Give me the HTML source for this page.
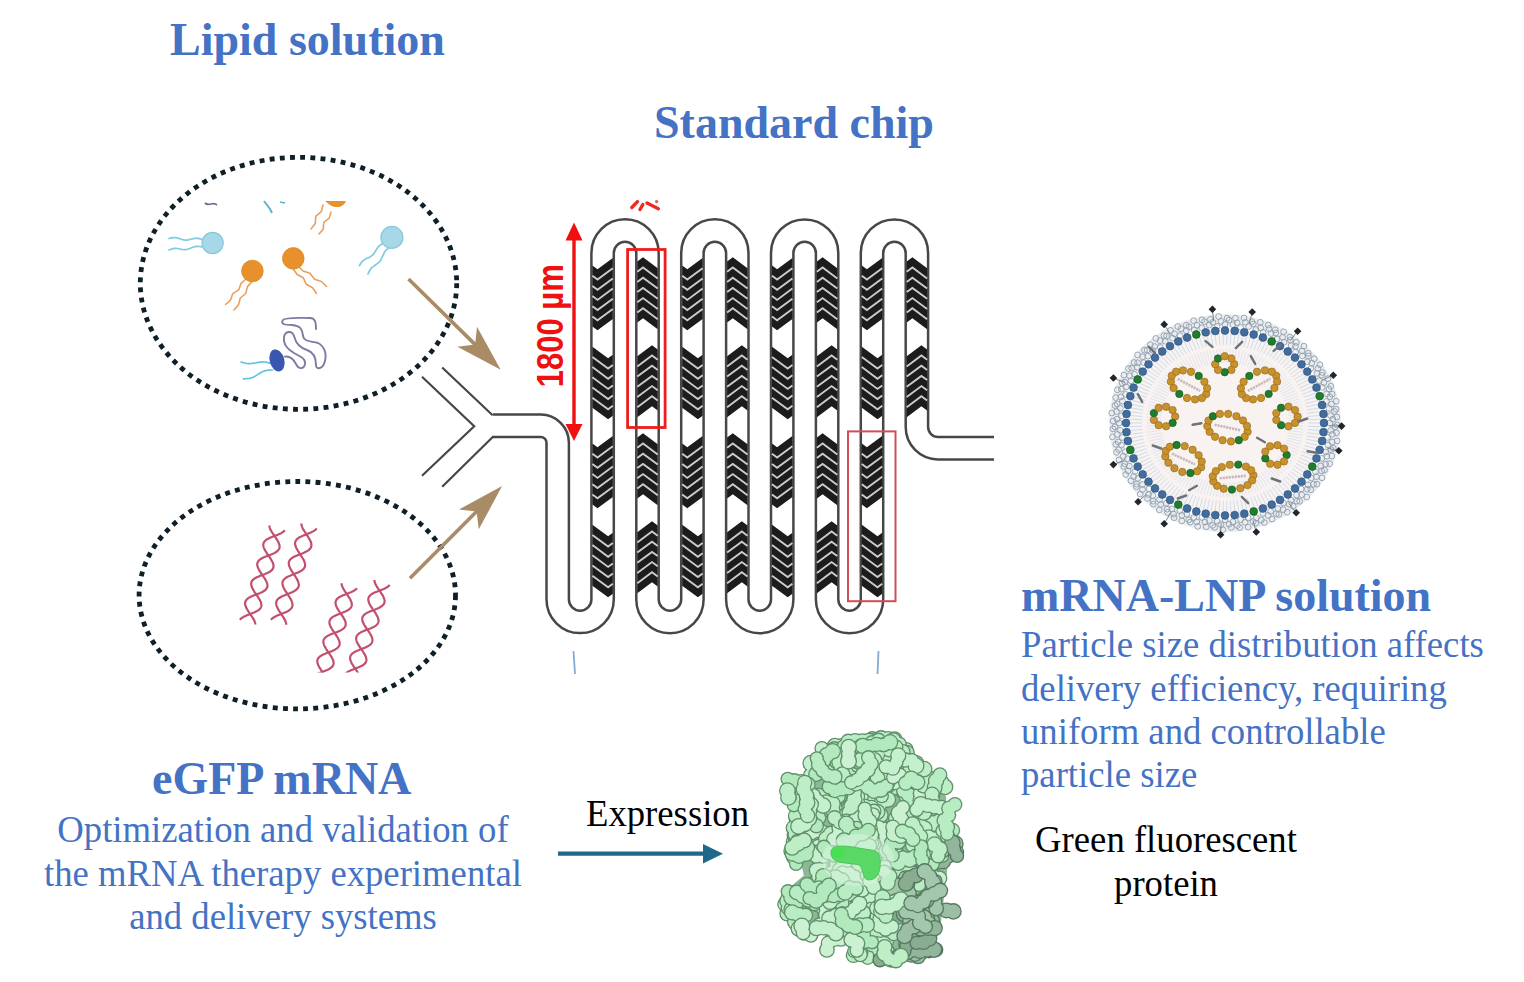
<!DOCTYPE html>
<html><head><meta charset="utf-8"><style>
html,body{margin:0;padding:0;background:#fff;}
body{width:1524px;height:982px;position:relative;overflow:hidden;}
svg{position:absolute;left:0;top:0;}
.t{position:absolute;font-family:"Liberation Serif",serif;white-space:nowrap;line-height:1;}
.h{font-weight:bold;color:#4472c4;font-size:46px;}
.p{color:#4472c4;font-size:36.7px;transform:scaleY(1.04);}
</style></head><body>
<svg width="1524" height="982" viewBox="0 0 1524 982">
<path d="M493,425.7 L540.70,425.7 A17,17 0 0 1 557.70,442.7 L557.70,599.50 A22.45,22.45 0 0 0 602.60,599.50 L602.60,253.00 A22.45,22.45 0 0 1 647.50,253.00 L647.50,599.50 A22.45,22.45 0 0 0 692.40,599.50 L692.40,253.00 A22.45,22.45 0 0 1 737.30,253.00 L737.30,599.50 A22.45,22.45 0 0 0 782.20,599.50 L782.20,253.00 A22.45,22.45 0 0 1 827.10,253.00 L827.10,599.50 A22.45,22.45 0 0 0 872.00,599.50 L872.00,253.00 A22.45,22.45 0 0 1 916.90,253.00 L916.90,427 A21.2,21.2 0 0 0 938,448.2 L994,448.2" fill="none" stroke="#474747" stroke-width="24.9"/>
<path d="M493,425.7 L540.70,425.7 A17,17 0 0 1 557.70,442.7 L557.70,599.50 A22.45,22.45 0 0 0 602.60,599.50 L602.60,253.00 A22.45,22.45 0 0 1 647.50,253.00 L647.50,599.50 A22.45,22.45 0 0 0 692.40,599.50 L692.40,253.00 A22.45,22.45 0 0 1 737.30,253.00 L737.30,599.50 A22.45,22.45 0 0 0 782.20,599.50 L782.20,253.00 A22.45,22.45 0 0 1 827.10,253.00 L827.10,599.50 A22.45,22.45 0 0 0 872.00,599.50 L872.00,253.00 A22.45,22.45 0 0 1 916.90,253.00 L916.90,427 A21.2,21.2 0 0 0 938,448.2 L994,448.2" fill="none" stroke="#fff" stroke-width="19.9"/>
<polygon points="592.4,265.5 597.5,269.3 612.8,258.0 612.8,319.0 597.5,330.3 592.4,326.5" fill="#1c1c1c"/>
<polyline points="592.4,275.7 597.5,279.5 612.8,268.2" fill="none" stroke="#cccccc" stroke-width="1.9"/>
<polyline points="592.4,285.9 597.5,289.7 612.8,278.4" fill="none" stroke="#cccccc" stroke-width="1.9"/>
<polyline points="592.4,296.1 597.5,299.9 612.8,288.6" fill="none" stroke="#cccccc" stroke-width="1.9"/>
<polyline points="592.4,306.3 597.5,310.1 612.8,298.8" fill="none" stroke="#cccccc" stroke-width="1.9"/>
<polyline points="592.4,316.5 597.5,320.3 612.8,309.0" fill="none" stroke="#cccccc" stroke-width="1.9"/>
<polygon points="592.4,346.7 608.1,358.3 612.8,354.8 612.8,415.8 608.1,419.3 592.4,407.7" fill="#1c1c1c"/>
<polyline points="592.4,356.9 608.1,368.5 612.8,365.0" fill="none" stroke="#cccccc" stroke-width="1.9"/>
<polyline points="592.4,367.1 608.1,378.7 612.8,375.2" fill="none" stroke="#cccccc" stroke-width="1.9"/>
<polyline points="592.4,377.3 608.1,388.9 612.8,385.4" fill="none" stroke="#cccccc" stroke-width="1.9"/>
<polyline points="592.4,387.5 608.1,399.1 612.8,395.6" fill="none" stroke="#cccccc" stroke-width="1.9"/>
<polyline points="592.4,397.7 608.1,409.3 612.8,405.8" fill="none" stroke="#cccccc" stroke-width="1.9"/>
<polygon points="592.4,443.5 597.5,447.3 612.8,436.0 612.8,497.0 597.5,508.3 592.4,504.5" fill="#1c1c1c"/>
<polyline points="592.4,453.7 597.5,457.5 612.8,446.2" fill="none" stroke="#cccccc" stroke-width="1.9"/>
<polyline points="592.4,463.9 597.5,467.7 612.8,456.4" fill="none" stroke="#cccccc" stroke-width="1.9"/>
<polyline points="592.4,474.1 597.5,477.9 612.8,466.6" fill="none" stroke="#cccccc" stroke-width="1.9"/>
<polyline points="592.4,484.3 597.5,488.1 612.8,476.8" fill="none" stroke="#cccccc" stroke-width="1.9"/>
<polyline points="592.4,494.5 597.5,498.3 612.8,487.0" fill="none" stroke="#cccccc" stroke-width="1.9"/>
<polygon points="592.4,524.7 608.1,536.3 612.8,532.8 612.8,593.8 608.1,597.3 592.4,585.7" fill="#1c1c1c"/>
<polyline points="592.4,534.9 608.1,546.5 612.8,543.0" fill="none" stroke="#cccccc" stroke-width="1.9"/>
<polyline points="592.4,545.1 608.1,556.7 612.8,553.2" fill="none" stroke="#cccccc" stroke-width="1.9"/>
<polyline points="592.4,555.3 608.1,566.9 612.8,563.4" fill="none" stroke="#cccccc" stroke-width="1.9"/>
<polyline points="592.4,565.5 608.1,577.1 612.8,573.6" fill="none" stroke="#cccccc" stroke-width="1.9"/>
<polyline points="592.4,575.7 608.1,587.3 612.8,583.8" fill="none" stroke="#cccccc" stroke-width="1.9"/>
<polygon points="637.3,261.5 643.0,257.3 657.7,268.2 657.7,329.2 643.0,318.3 637.3,322.5" fill="#1c1c1c"/>
<polyline points="637.3,271.7 643.0,267.5 657.7,278.4" fill="none" stroke="#cccccc" stroke-width="1.9"/>
<polyline points="637.3,281.9 643.0,277.7 657.7,288.6" fill="none" stroke="#cccccc" stroke-width="1.9"/>
<polyline points="637.3,292.1 643.0,287.9 657.7,298.8" fill="none" stroke="#cccccc" stroke-width="1.9"/>
<polyline points="637.3,302.3 643.0,298.1 657.7,309.0" fill="none" stroke="#cccccc" stroke-width="1.9"/>
<polyline points="637.3,312.5 643.0,308.3 657.7,319.2" fill="none" stroke="#cccccc" stroke-width="1.9"/>
<polygon points="637.3,356.2 652.0,345.3 657.7,349.5 657.7,410.5 652.0,406.3 637.3,417.2" fill="#1c1c1c"/>
<polyline points="637.3,366.4 652.0,355.5 657.7,359.7" fill="none" stroke="#cccccc" stroke-width="1.9"/>
<polyline points="637.3,376.6 652.0,365.7 657.7,369.9" fill="none" stroke="#cccccc" stroke-width="1.9"/>
<polyline points="637.3,386.8 652.0,375.9 657.7,380.1" fill="none" stroke="#cccccc" stroke-width="1.9"/>
<polyline points="637.3,397.0 652.0,386.1 657.7,390.3" fill="none" stroke="#cccccc" stroke-width="1.9"/>
<polyline points="637.3,407.2 652.0,396.3 657.7,400.5" fill="none" stroke="#cccccc" stroke-width="1.9"/>
<polygon points="637.3,437.5 643.0,433.3 657.7,444.2 657.7,505.2 643.0,494.3 637.3,498.5" fill="#1c1c1c"/>
<polyline points="637.3,447.7 643.0,443.5 657.7,454.4" fill="none" stroke="#cccccc" stroke-width="1.9"/>
<polyline points="637.3,457.9 643.0,453.7 657.7,464.6" fill="none" stroke="#cccccc" stroke-width="1.9"/>
<polyline points="637.3,468.1 643.0,463.9 657.7,474.8" fill="none" stroke="#cccccc" stroke-width="1.9"/>
<polyline points="637.3,478.3 643.0,474.1 657.7,485.0" fill="none" stroke="#cccccc" stroke-width="1.9"/>
<polyline points="637.3,488.5 643.0,484.3 657.7,495.2" fill="none" stroke="#cccccc" stroke-width="1.9"/>
<polygon points="637.3,532.2 652.0,521.3 657.7,525.5 657.7,586.5 652.0,582.3 637.3,593.2" fill="#1c1c1c"/>
<polyline points="637.3,542.4 652.0,531.5 657.7,535.7" fill="none" stroke="#cccccc" stroke-width="1.9"/>
<polyline points="637.3,552.6 652.0,541.7 657.7,545.9" fill="none" stroke="#cccccc" stroke-width="1.9"/>
<polyline points="637.3,562.8 652.0,551.9 657.7,556.1" fill="none" stroke="#cccccc" stroke-width="1.9"/>
<polyline points="637.3,573.0 652.0,562.1 657.7,566.3" fill="none" stroke="#cccccc" stroke-width="1.9"/>
<polyline points="637.3,583.2 652.0,572.3 657.7,576.5" fill="none" stroke="#cccccc" stroke-width="1.9"/>
<polygon points="682.2,265.5 687.3,269.3 702.6,258.0 702.6,319.0 687.3,330.3 682.2,326.5" fill="#1c1c1c"/>
<polyline points="682.2,275.7 687.3,279.5 702.6,268.2" fill="none" stroke="#cccccc" stroke-width="1.9"/>
<polyline points="682.2,285.9 687.3,289.7 702.6,278.4" fill="none" stroke="#cccccc" stroke-width="1.9"/>
<polyline points="682.2,296.1 687.3,299.9 702.6,288.6" fill="none" stroke="#cccccc" stroke-width="1.9"/>
<polyline points="682.2,306.3 687.3,310.1 702.6,298.8" fill="none" stroke="#cccccc" stroke-width="1.9"/>
<polyline points="682.2,316.5 687.3,320.3 702.6,309.0" fill="none" stroke="#cccccc" stroke-width="1.9"/>
<polygon points="682.2,346.7 697.9,358.3 702.6,354.8 702.6,415.8 697.9,419.3 682.2,407.7" fill="#1c1c1c"/>
<polyline points="682.2,356.9 697.9,368.5 702.6,365.0" fill="none" stroke="#cccccc" stroke-width="1.9"/>
<polyline points="682.2,367.1 697.9,378.7 702.6,375.2" fill="none" stroke="#cccccc" stroke-width="1.9"/>
<polyline points="682.2,377.3 697.9,388.9 702.6,385.4" fill="none" stroke="#cccccc" stroke-width="1.9"/>
<polyline points="682.2,387.5 697.9,399.1 702.6,395.6" fill="none" stroke="#cccccc" stroke-width="1.9"/>
<polyline points="682.2,397.7 697.9,409.3 702.6,405.8" fill="none" stroke="#cccccc" stroke-width="1.9"/>
<polygon points="682.2,443.5 687.3,447.3 702.6,436.0 702.6,497.0 687.3,508.3 682.2,504.5" fill="#1c1c1c"/>
<polyline points="682.2,453.7 687.3,457.5 702.6,446.2" fill="none" stroke="#cccccc" stroke-width="1.9"/>
<polyline points="682.2,463.9 687.3,467.7 702.6,456.4" fill="none" stroke="#cccccc" stroke-width="1.9"/>
<polyline points="682.2,474.1 687.3,477.9 702.6,466.6" fill="none" stroke="#cccccc" stroke-width="1.9"/>
<polyline points="682.2,484.3 687.3,488.1 702.6,476.8" fill="none" stroke="#cccccc" stroke-width="1.9"/>
<polyline points="682.2,494.5 687.3,498.3 702.6,487.0" fill="none" stroke="#cccccc" stroke-width="1.9"/>
<polygon points="682.2,524.7 697.9,536.3 702.6,532.8 702.6,593.8 697.9,597.3 682.2,585.7" fill="#1c1c1c"/>
<polyline points="682.2,534.9 697.9,546.5 702.6,543.0" fill="none" stroke="#cccccc" stroke-width="1.9"/>
<polyline points="682.2,545.1 697.9,556.7 702.6,553.2" fill="none" stroke="#cccccc" stroke-width="1.9"/>
<polyline points="682.2,555.3 697.9,566.9 702.6,563.4" fill="none" stroke="#cccccc" stroke-width="1.9"/>
<polyline points="682.2,565.5 697.9,577.1 702.6,573.6" fill="none" stroke="#cccccc" stroke-width="1.9"/>
<polyline points="682.2,575.7 697.9,587.3 702.6,583.8" fill="none" stroke="#cccccc" stroke-width="1.9"/>
<polygon points="727.1,261.5 732.8,257.3 747.5,268.2 747.5,329.2 732.8,318.3 727.1,322.5" fill="#1c1c1c"/>
<polyline points="727.1,271.7 732.8,267.5 747.5,278.4" fill="none" stroke="#cccccc" stroke-width="1.9"/>
<polyline points="727.1,281.9 732.8,277.7 747.5,288.6" fill="none" stroke="#cccccc" stroke-width="1.9"/>
<polyline points="727.1,292.1 732.8,287.9 747.5,298.8" fill="none" stroke="#cccccc" stroke-width="1.9"/>
<polyline points="727.1,302.3 732.8,298.1 747.5,309.0" fill="none" stroke="#cccccc" stroke-width="1.9"/>
<polyline points="727.1,312.5 732.8,308.3 747.5,319.2" fill="none" stroke="#cccccc" stroke-width="1.9"/>
<polygon points="727.1,356.2 741.8,345.3 747.5,349.5 747.5,410.5 741.8,406.3 727.1,417.2" fill="#1c1c1c"/>
<polyline points="727.1,366.4 741.8,355.5 747.5,359.7" fill="none" stroke="#cccccc" stroke-width="1.9"/>
<polyline points="727.1,376.6 741.8,365.7 747.5,369.9" fill="none" stroke="#cccccc" stroke-width="1.9"/>
<polyline points="727.1,386.8 741.8,375.9 747.5,380.1" fill="none" stroke="#cccccc" stroke-width="1.9"/>
<polyline points="727.1,397.0 741.8,386.1 747.5,390.3" fill="none" stroke="#cccccc" stroke-width="1.9"/>
<polyline points="727.1,407.2 741.8,396.3 747.5,400.5" fill="none" stroke="#cccccc" stroke-width="1.9"/>
<polygon points="727.1,437.5 732.8,433.3 747.5,444.2 747.5,505.2 732.8,494.3 727.1,498.5" fill="#1c1c1c"/>
<polyline points="727.1,447.7 732.8,443.5 747.5,454.4" fill="none" stroke="#cccccc" stroke-width="1.9"/>
<polyline points="727.1,457.9 732.8,453.7 747.5,464.6" fill="none" stroke="#cccccc" stroke-width="1.9"/>
<polyline points="727.1,468.1 732.8,463.9 747.5,474.8" fill="none" stroke="#cccccc" stroke-width="1.9"/>
<polyline points="727.1,478.3 732.8,474.1 747.5,485.0" fill="none" stroke="#cccccc" stroke-width="1.9"/>
<polyline points="727.1,488.5 732.8,484.3 747.5,495.2" fill="none" stroke="#cccccc" stroke-width="1.9"/>
<polygon points="727.1,532.2 741.8,521.3 747.5,525.5 747.5,586.5 741.8,582.3 727.1,593.2" fill="#1c1c1c"/>
<polyline points="727.1,542.4 741.8,531.5 747.5,535.7" fill="none" stroke="#cccccc" stroke-width="1.9"/>
<polyline points="727.1,552.6 741.8,541.7 747.5,545.9" fill="none" stroke="#cccccc" stroke-width="1.9"/>
<polyline points="727.1,562.8 741.8,551.9 747.5,556.1" fill="none" stroke="#cccccc" stroke-width="1.9"/>
<polyline points="727.1,573.0 741.8,562.1 747.5,566.3" fill="none" stroke="#cccccc" stroke-width="1.9"/>
<polyline points="727.1,583.2 741.8,572.3 747.5,576.5" fill="none" stroke="#cccccc" stroke-width="1.9"/>
<polygon points="772.0,265.5 777.1,269.3 792.4,258.0 792.4,319.0 777.1,330.3 772.0,326.5" fill="#1c1c1c"/>
<polyline points="772.0,275.7 777.1,279.5 792.4,268.2" fill="none" stroke="#cccccc" stroke-width="1.9"/>
<polyline points="772.0,285.9 777.1,289.7 792.4,278.4" fill="none" stroke="#cccccc" stroke-width="1.9"/>
<polyline points="772.0,296.1 777.1,299.9 792.4,288.6" fill="none" stroke="#cccccc" stroke-width="1.9"/>
<polyline points="772.0,306.3 777.1,310.1 792.4,298.8" fill="none" stroke="#cccccc" stroke-width="1.9"/>
<polyline points="772.0,316.5 777.1,320.3 792.4,309.0" fill="none" stroke="#cccccc" stroke-width="1.9"/>
<polygon points="772.0,346.7 787.7,358.3 792.4,354.8 792.4,415.8 787.7,419.3 772.0,407.7" fill="#1c1c1c"/>
<polyline points="772.0,356.9 787.7,368.5 792.4,365.0" fill="none" stroke="#cccccc" stroke-width="1.9"/>
<polyline points="772.0,367.1 787.7,378.7 792.4,375.2" fill="none" stroke="#cccccc" stroke-width="1.9"/>
<polyline points="772.0,377.3 787.7,388.9 792.4,385.4" fill="none" stroke="#cccccc" stroke-width="1.9"/>
<polyline points="772.0,387.5 787.7,399.1 792.4,395.6" fill="none" stroke="#cccccc" stroke-width="1.9"/>
<polyline points="772.0,397.7 787.7,409.3 792.4,405.8" fill="none" stroke="#cccccc" stroke-width="1.9"/>
<polygon points="772.0,443.5 777.1,447.3 792.4,436.0 792.4,497.0 777.1,508.3 772.0,504.5" fill="#1c1c1c"/>
<polyline points="772.0,453.7 777.1,457.5 792.4,446.2" fill="none" stroke="#cccccc" stroke-width="1.9"/>
<polyline points="772.0,463.9 777.1,467.7 792.4,456.4" fill="none" stroke="#cccccc" stroke-width="1.9"/>
<polyline points="772.0,474.1 777.1,477.9 792.4,466.6" fill="none" stroke="#cccccc" stroke-width="1.9"/>
<polyline points="772.0,484.3 777.1,488.1 792.4,476.8" fill="none" stroke="#cccccc" stroke-width="1.9"/>
<polyline points="772.0,494.5 777.1,498.3 792.4,487.0" fill="none" stroke="#cccccc" stroke-width="1.9"/>
<polygon points="772.0,524.7 787.7,536.3 792.4,532.8 792.4,593.8 787.7,597.3 772.0,585.7" fill="#1c1c1c"/>
<polyline points="772.0,534.9 787.7,546.5 792.4,543.0" fill="none" stroke="#cccccc" stroke-width="1.9"/>
<polyline points="772.0,545.1 787.7,556.7 792.4,553.2" fill="none" stroke="#cccccc" stroke-width="1.9"/>
<polyline points="772.0,555.3 787.7,566.9 792.4,563.4" fill="none" stroke="#cccccc" stroke-width="1.9"/>
<polyline points="772.0,565.5 787.7,577.1 792.4,573.6" fill="none" stroke="#cccccc" stroke-width="1.9"/>
<polyline points="772.0,575.7 787.7,587.3 792.4,583.8" fill="none" stroke="#cccccc" stroke-width="1.9"/>
<polygon points="816.9,261.5 822.6,257.3 837.3,268.2 837.3,329.2 822.6,318.3 816.9,322.5" fill="#1c1c1c"/>
<polyline points="816.9,271.7 822.6,267.5 837.3,278.4" fill="none" stroke="#cccccc" stroke-width="1.9"/>
<polyline points="816.9,281.9 822.6,277.7 837.3,288.6" fill="none" stroke="#cccccc" stroke-width="1.9"/>
<polyline points="816.9,292.1 822.6,287.9 837.3,298.8" fill="none" stroke="#cccccc" stroke-width="1.9"/>
<polyline points="816.9,302.3 822.6,298.1 837.3,309.0" fill="none" stroke="#cccccc" stroke-width="1.9"/>
<polyline points="816.9,312.5 822.6,308.3 837.3,319.2" fill="none" stroke="#cccccc" stroke-width="1.9"/>
<polygon points="816.9,356.2 831.6,345.3 837.3,349.5 837.3,410.5 831.6,406.3 816.9,417.2" fill="#1c1c1c"/>
<polyline points="816.9,366.4 831.6,355.5 837.3,359.7" fill="none" stroke="#cccccc" stroke-width="1.9"/>
<polyline points="816.9,376.6 831.6,365.7 837.3,369.9" fill="none" stroke="#cccccc" stroke-width="1.9"/>
<polyline points="816.9,386.8 831.6,375.9 837.3,380.1" fill="none" stroke="#cccccc" stroke-width="1.9"/>
<polyline points="816.9,397.0 831.6,386.1 837.3,390.3" fill="none" stroke="#cccccc" stroke-width="1.9"/>
<polyline points="816.9,407.2 831.6,396.3 837.3,400.5" fill="none" stroke="#cccccc" stroke-width="1.9"/>
<polygon points="816.9,437.5 822.6,433.3 837.3,444.2 837.3,505.2 822.6,494.3 816.9,498.5" fill="#1c1c1c"/>
<polyline points="816.9,447.7 822.6,443.5 837.3,454.4" fill="none" stroke="#cccccc" stroke-width="1.9"/>
<polyline points="816.9,457.9 822.6,453.7 837.3,464.6" fill="none" stroke="#cccccc" stroke-width="1.9"/>
<polyline points="816.9,468.1 822.6,463.9 837.3,474.8" fill="none" stroke="#cccccc" stroke-width="1.9"/>
<polyline points="816.9,478.3 822.6,474.1 837.3,485.0" fill="none" stroke="#cccccc" stroke-width="1.9"/>
<polyline points="816.9,488.5 822.6,484.3 837.3,495.2" fill="none" stroke="#cccccc" stroke-width="1.9"/>
<polygon points="816.9,532.2 831.6,521.3 837.3,525.5 837.3,586.5 831.6,582.3 816.9,593.2" fill="#1c1c1c"/>
<polyline points="816.9,542.4 831.6,531.5 837.3,535.7" fill="none" stroke="#cccccc" stroke-width="1.9"/>
<polyline points="816.9,552.6 831.6,541.7 837.3,545.9" fill="none" stroke="#cccccc" stroke-width="1.9"/>
<polyline points="816.9,562.8 831.6,551.9 837.3,556.1" fill="none" stroke="#cccccc" stroke-width="1.9"/>
<polyline points="816.9,573.0 831.6,562.1 837.3,566.3" fill="none" stroke="#cccccc" stroke-width="1.9"/>
<polyline points="816.9,583.2 831.6,572.3 837.3,576.5" fill="none" stroke="#cccccc" stroke-width="1.9"/>
<polygon points="861.8,265.5 866.9,269.3 882.2,258.0 882.2,319.0 866.9,330.3 861.8,326.5" fill="#1c1c1c"/>
<polyline points="861.8,275.7 866.9,279.5 882.2,268.2" fill="none" stroke="#cccccc" stroke-width="1.9"/>
<polyline points="861.8,285.9 866.9,289.7 882.2,278.4" fill="none" stroke="#cccccc" stroke-width="1.9"/>
<polyline points="861.8,296.1 866.9,299.9 882.2,288.6" fill="none" stroke="#cccccc" stroke-width="1.9"/>
<polyline points="861.8,306.3 866.9,310.1 882.2,298.8" fill="none" stroke="#cccccc" stroke-width="1.9"/>
<polyline points="861.8,316.5 866.9,320.3 882.2,309.0" fill="none" stroke="#cccccc" stroke-width="1.9"/>
<polygon points="861.8,346.7 877.5,358.3 882.2,354.8 882.2,415.8 877.5,419.3 861.8,407.7" fill="#1c1c1c"/>
<polyline points="861.8,356.9 877.5,368.5 882.2,365.0" fill="none" stroke="#cccccc" stroke-width="1.9"/>
<polyline points="861.8,367.1 877.5,378.7 882.2,375.2" fill="none" stroke="#cccccc" stroke-width="1.9"/>
<polyline points="861.8,377.3 877.5,388.9 882.2,385.4" fill="none" stroke="#cccccc" stroke-width="1.9"/>
<polyline points="861.8,387.5 877.5,399.1 882.2,395.6" fill="none" stroke="#cccccc" stroke-width="1.9"/>
<polyline points="861.8,397.7 877.5,409.3 882.2,405.8" fill="none" stroke="#cccccc" stroke-width="1.9"/>
<polygon points="861.8,443.5 866.9,447.3 882.2,436.0 882.2,497.0 866.9,508.3 861.8,504.5" fill="#1c1c1c"/>
<polyline points="861.8,453.7 866.9,457.5 882.2,446.2" fill="none" stroke="#cccccc" stroke-width="1.9"/>
<polyline points="861.8,463.9 866.9,467.7 882.2,456.4" fill="none" stroke="#cccccc" stroke-width="1.9"/>
<polyline points="861.8,474.1 866.9,477.9 882.2,466.6" fill="none" stroke="#cccccc" stroke-width="1.9"/>
<polyline points="861.8,484.3 866.9,488.1 882.2,476.8" fill="none" stroke="#cccccc" stroke-width="1.9"/>
<polyline points="861.8,494.5 866.9,498.3 882.2,487.0" fill="none" stroke="#cccccc" stroke-width="1.9"/>
<polygon points="861.8,524.7 877.5,536.3 882.2,532.8 882.2,593.8 877.5,597.3 861.8,585.7" fill="#1c1c1c"/>
<polyline points="861.8,534.9 877.5,546.5 882.2,543.0" fill="none" stroke="#cccccc" stroke-width="1.9"/>
<polyline points="861.8,545.1 877.5,556.7 882.2,553.2" fill="none" stroke="#cccccc" stroke-width="1.9"/>
<polyline points="861.8,555.3 877.5,566.9 882.2,563.4" fill="none" stroke="#cccccc" stroke-width="1.9"/>
<polyline points="861.8,565.5 877.5,577.1 882.2,573.6" fill="none" stroke="#cccccc" stroke-width="1.9"/>
<polyline points="861.8,575.7 877.5,587.3 882.2,583.8" fill="none" stroke="#cccccc" stroke-width="1.9"/>
<polygon points="906.7,261.5 912.4,257.3 927.1,268.2 927.1,329.2 912.4,318.3 906.7,322.5" fill="#1c1c1c"/>
<polyline points="906.7,271.7 912.4,267.5 927.1,278.4" fill="none" stroke="#cccccc" stroke-width="1.9"/>
<polyline points="906.7,281.9 912.4,277.7 927.1,288.6" fill="none" stroke="#cccccc" stroke-width="1.9"/>
<polyline points="906.7,292.1 912.4,287.9 927.1,298.8" fill="none" stroke="#cccccc" stroke-width="1.9"/>
<polyline points="906.7,302.3 912.4,298.1 927.1,309.0" fill="none" stroke="#cccccc" stroke-width="1.9"/>
<polyline points="906.7,312.5 912.4,308.3 927.1,319.2" fill="none" stroke="#cccccc" stroke-width="1.9"/>
<polygon points="906.7,356.2 921.4,345.3 927.1,349.5 927.1,410.5 921.4,406.3 906.7,417.2" fill="#1c1c1c"/>
<polyline points="906.7,366.4 921.4,355.5 927.1,359.7" fill="none" stroke="#cccccc" stroke-width="1.9"/>
<polyline points="906.7,376.6 921.4,365.7 927.1,369.9" fill="none" stroke="#cccccc" stroke-width="1.9"/>
<polyline points="906.7,386.8 921.4,375.9 927.1,380.1" fill="none" stroke="#cccccc" stroke-width="1.9"/>
<polyline points="906.7,397.0 921.4,386.1 927.1,390.3" fill="none" stroke="#cccccc" stroke-width="1.9"/>
<polyline points="906.7,407.2 921.4,396.3 927.1,400.5" fill="none" stroke="#cccccc" stroke-width="1.9"/>
<path d="M442.2,367.5 L492.6,415.2 M422,376.7 L474.2,426.2 L422,475.7 M442.2,486.7 L493.5,436.2" fill="none" stroke="#474747" stroke-width="2.2"/>
<rect x="627.6" y="249.5" width="37.5" height="178" fill="none" stroke="#ee1c1c" stroke-width="2.8"/>
<rect x="848" y="431.4" width="47.5" height="169.8" fill="none" stroke="#d24b55" stroke-width="2"/>
<line x1="574" y1="238" x2="574" y2="426" stroke="#f01010" stroke-width="3.4"/>
<polygon points="574,222.6 565.5,240.5 582.5,240.5" fill="#f01010"/>
<polygon points="574,441 565.5,424 582.5,424" fill="#f01010"/>
<text x="0" y="0" transform="translate(563.3,325.7) rotate(-90) scale(1,1.17)" text-anchor="middle" font-family="Liberation Sans" font-weight="bold" font-size="31" fill="#f01010">1800 µm</text>
<path d="M631.8,207.5 L637.5,201.6 M640,209.5 L642.8,204.6 M647,203 L658.3,208.8" fill="none" stroke="#ee2a22" stroke-width="3.4" stroke-linecap="round"/><circle cx="656.6" cy="201.6" r="1.6" fill="#e06040"/>
<line x1="573.5" y1="651" x2="575" y2="674" stroke="#86a8d4" stroke-width="1.8"/>
<line x1="878.5" y1="651" x2="877.5" y2="674" stroke="#86a8d4" stroke-width="1.8"/>
<ellipse cx="298.5" cy="283.3" rx="158.2" ry="126" fill="none" stroke="#0e1f28" stroke-width="4.8" stroke-dasharray="4.9 5.3"/>
<ellipse cx="297.3" cy="595.2" rx="158.2" ry="113.7" fill="none" stroke="#0e1f28" stroke-width="4.8" stroke-dasharray="4.9 5.3"/>
<line x1="408.5" y1="279" x2="476.5" y2="345.9" stroke="#a98b66" stroke-width="3.6"/><polygon points="500.7,369.8 457.4,346.8 475.1,344.5 477,326.8" fill="#a98b66"/>
<line x1="410" y1="578.2" x2="478.1" y2="510.1" stroke="#a98b66" stroke-width="3.6"/><polygon points="502.1,486.1 478.8,529.2 476.6,511.6 459,509.4" fill="#a98b66"/>
<polyline points="202,239.5 200.6,239 199.3,238.6 197.9,238.4 196.5,238.2 195.2,238.3 193.8,238.5 192.4,238.8 191,239.2 189.6,239.5 188.2,239.9 186.8,240.1 185.5,240.1 184.1,240 182.7,239.7 181.4,239.3 180,238.8 178.6,238.4 177.3,238 175.9,237.7 174.5,237.6 173.2,237.6 171.8,237.8 170.4,238.1 169,238.5" fill="none" stroke="#7ccbe0" stroke-width="1.7" stroke-linecap="round"/><polyline points="202,247 200.6,246.7 199.2,246.5 197.8,246.4 196.4,246.4 195,246.6 193.7,247 192.3,247.5 191,248 189.7,248.5 188.3,249 187,249.4 185.6,249.6 184.2,249.6 182.8,249.5 181.4,249.3 180,249 178.6,248.7 177.2,248.5 175.8,248.4 174.4,248.4 173,248.6 171.7,249 170.3,249.5 169,250" fill="none" stroke="#7ccbe0" stroke-width="1.7" stroke-linecap="round"/>
<circle cx="212.6" cy="243" r="10.6" fill="#a6d8e8" stroke="#8cc6da" stroke-width="1.2"/>
<polyline points="246.0,279.0 241.0,283.4 238.7,289.9 232.8,293.6 230.5,300.1 225.5,304.5" fill="none" stroke="#e8a060" stroke-width="1.6" stroke-linejoin="round" stroke-linecap="round"/><polyline points="252.0,281.5 247.5,286.6 245.7,293.5 240.3,298.0 238.5,304.9 234.0,310.0" fill="none" stroke="#e8a060" stroke-width="1.6" stroke-linejoin="round" stroke-linecap="round"/>
<circle cx="252.4" cy="271" r="10.8" fill="#e8912c" stroke="#dc8a2a" stroke-width="0.8"/>
<polyline points="298.0,266.0 303.1,271.0 310.0,273.3 314.5,279.2 321.4,281.5 326.5,286.5" fill="none" stroke="#e8a060" stroke-width="1.6" stroke-linejoin="round" stroke-linecap="round"/><polyline points="293.0,268.5 296.9,274.3 303.2,277.7 306.3,284.3 312.6,287.7 316.5,293.5" fill="none" stroke="#e8a060" stroke-width="1.6" stroke-linejoin="round" stroke-linecap="round"/>
<circle cx="293.3" cy="258.4" r="10.8" fill="#e8912c" stroke="#dc8a2a" stroke-width="0.8"/>
<polyline points="384,243 382.7,243.6 381.4,244.3 380.3,245.1 379.2,245.9 378.2,246.9 377.3,248.1 376.6,249.3 375.8,250.5 375.1,251.7 374.3,252.9 373.5,254.1 372.5,255.1 371.4,255.9 370.2,256.7 369,257.4 367.7,258 366.4,258.6 365.1,259.3 363.9,260.1 362.8,260.9 361.9,261.9 361,263.1 360.2,264.3 359.5,265.5" fill="none" stroke="#7ccbe0" stroke-width="1.7" stroke-linecap="round"/><polyline points="390,247 388.8,247.9 387.6,248.8 386.5,249.7 385.5,250.8 384.6,252 383.9,253.3 383.3,254.6 382.7,256 382.1,257.4 381.4,258.7 380.7,260 379.9,261.2 378.9,262.3 377.8,263.2 376.6,264.1 375.3,265 374.1,265.9 372.9,266.8 371.8,267.7 370.8,268.8 370,270 369.2,271.3 368.6,272.6 368,274" fill="none" stroke="#7ccbe0" stroke-width="1.7" stroke-linecap="round"/>
<circle cx="391.9" cy="237.4" r="11" fill="#a6d8e8" stroke="#8cc6da" stroke-width="1.2"/>
<polyline points="271,363.5 269.8,363.1 268.5,362.8 267.3,362.5 266.1,362.2 264.8,362 263.6,361.9 262.3,361.9 261.1,362 259.8,362.1 258.6,362.3 257.3,362.5 256.1,362.8 254.8,363 253.5,363.2 252.3,363.4 251,363.5 249.8,363.6 248.5,363.6 247.3,363.5 246,363.3 244.8,363 243.6,362.7 242.3,362.4 241.1,362" fill="none" stroke="#62c4dc" stroke-width="1.7" stroke-linecap="round"/><polyline points="272.4,370 271.1,370 269.8,370.1 268.5,370.2 267.2,370.3 266,370.5 264.7,370.9 263.5,371.3 262.4,371.8 261.2,372.4 260.1,373 259,373.7 257.9,374.4 256.8,375.1 255.7,375.8 254.6,376.4 253.4,377 252.3,377.5 251.1,377.9 249.8,378.3 248.6,378.5 247.3,378.6 246,378.7 244.7,378.8 243.4,378.8" fill="none" stroke="#62c4dc" stroke-width="1.7" stroke-linecap="round"/>
<path d="M284.7,356.6 C289,356 293,358 296,364 C299,370 304,369 305,364 C306,358 299,356 294,353 C288,349 283,345 284,337 C285,331 292,330 294,336 C296,344 300,348 307,350 C313,352 316,356 316,365 C316,370 322,369 324,364 C328,354 324,346 318,343 C311,341 304,342 303,336 C302,328 300,326 292,325 C285,325 280,324 283,320 C285,317 300,318 310,318 C315,318 316,322 316,329" fill="none" stroke="#7e7ba2" stroke-width="1.9" stroke-linecap="round"/>
<ellipse cx="277" cy="360.4" rx="7.3" ry="11.2" transform="rotate(-15 277 360.4)" fill="#3a57b0"/>
<path d="M205,203 C209,207 213,201 217,205" fill="none" stroke="#6f6a9a" stroke-width="1.8"/>
<path d="M264,201 L270,209 L272,213" fill="none" stroke="#57b5cf" stroke-width="2"/><path d="M280,202 L285,203" fill="none" stroke="#57b5cf" stroke-width="1.6"/>
<polyline points="311.0,229.0 315.3,223.6 315.7,216.4 321.3,211.6 323.0,205.0" fill="none" stroke="#e8a060" stroke-width="1.6" stroke-linejoin="round" stroke-linecap="round"/><polyline points="319.0,234.0 323.2,229.2 323.8,222.3 329.2,218.2 331.0,212.0" fill="none" stroke="#e8a060" stroke-width="1.6" stroke-linejoin="round" stroke-linecap="round"/>
<path d="M325,201 L346,201 C344,207 336,209 330,205 Z" fill="#e8912c"/>
<defs><clipPath id="hc"><rect x="200" y="500" width="220" height="172.5"/></clipPath></defs>
<g clip-path="url(#hc)">
<polyline points="240.0,619.8 240.4,619.2 241.0,618.6 241.6,618.1 242.4,617.6 243.1,617.1 244.0,616.6 244.9,616.2 245.9,615.7 246.9,615.3 247.9,614.9 249.0,614.5 250.0,614.1 251.1,613.7 252.2,613.2 253.2,612.8 254.2,612.4 255.2,612.0 256.1,611.5 257.0,611.1 257.8,610.6 258.6,610.1 259.2,609.5 259.8,609.0 260.3,608.4 260.7,607.8 261.0,607.1 261.2,606.5 261.4,605.8 261.4,605.0 261.3,604.3 261.2,603.5 261.0,602.7 260.7,601.8 260.3,601.0 259.9,600.1 259.4,599.2 258.8,598.3 258.2,597.4 257.6,596.4 257.0,595.5 256.3,594.6 255.7,593.6 255.0,592.7 254.4,591.8 253.8,590.8 253.3,589.9 252.8,589.0 252.3,588.1 251.9,587.3 251.6,586.4 251.4,585.6 251.2,584.8 251.2,584.1 251.2,583.4 251.3,582.6 251.5,582.0 251.8,581.3 252.2,580.7 252.7,580.1 253.2,579.6 253.9,579.0 254.6,578.5 255.4,578.0 256.3,577.5 257.2,577.1 258.2,576.7 259.2,576.2 260.2,575.8 261.3,575.4 262.4,575.0 263.4,574.6 264.5,574.2 265.5,573.8 266.5,573.3 267.5,572.9 268.4,572.5 269.3,572.0 270.1,571.5 270.8,571.0 271.5,570.4 272.0,569.9 272.5,569.3 272.9,568.7 273.2,568.0 273.4,567.4 273.5,566.6 273.5,565.9 273.5,565.2 273.3,564.4 273.1,563.6 272.8,562.7 272.4,561.9 271.9,561.0 271.4,560.1 270.9,559.2 270.3,558.2 269.7,557.3 269.0,556.4 268.4,555.4 267.7,554.5 267.1,553.6 266.5,552.6 265.9,551.7 265.3,550.8 264.8,549.9 264.4,549.0 264.0,548.2 263.7,547.3 263.5,546.5 263.4,545.7 263.3,545.0 263.3,544.2 263.5,543.5 263.7,542.9 264.0,542.2 264.4,541.6 264.9,541.0 265.5,540.5 266.1,539.9 266.9,539.4 267.7,538.9 268.6,538.5 269.5,538.0 270.5,537.6 271.5,537.2 272.5,536.8 273.6,536.3 274.7,535.9 275.7,535.5 276.8,535.1 277.8,534.7 278.8,534.3 279.8,533.8 280.7,533.4 281.6,532.9 282.3,532.4 283.1,531.9 283.7,531.4 284.3,530.8 284.7,530.2" fill="none" stroke="#c2506d" stroke-width="2.2"/><polyline points="255.3,624.6 255.3,623.8 255.1,623.0 254.9,622.2 254.6,621.4 254.3,620.5 253.8,619.7 253.3,618.8 252.8,617.9 252.2,617.0 251.6,616.0 250.9,615.1 250.3,614.1 249.6,613.2 249.0,612.3 248.4,611.3 247.8,610.4 247.2,609.5 246.7,608.6 246.3,607.7 245.9,606.8 245.6,606.0 245.3,605.2 245.2,604.4 245.1,603.6 245.1,602.9 245.2,602.2 245.4,601.5 245.7,600.9 246.1,600.3 246.6,599.7 247.1,599.1 247.8,598.6 248.5,598.0 249.3,597.6 250.1,597.1 251.1,596.6 252.0,596.2 253.0,595.8 254.1,595.3 255.1,594.9 256.2,594.5 257.3,594.1 258.3,593.7 259.4,593.3 260.4,592.9 261.3,592.4 262.3,592.0 263.1,591.5 263.9,591.0 264.7,590.5 265.3,590.0 265.9,589.4 266.4,588.8 266.8,588.2 267.1,587.6 267.3,586.9 267.4,586.2 267.5,585.5 267.4,584.7 267.3,583.9 267.0,583.1 266.7,582.3 266.3,581.4 265.9,580.5 265.4,579.6 264.8,578.7 264.3,577.8 263.6,576.9 263.0,575.9 262.4,575.0 261.7,574.1 261.1,573.1 260.4,572.2 259.9,571.3 259.3,570.4 258.8,569.5 258.4,568.6 258.0,567.7 257.7,566.9 257.4,566.1 257.3,565.3 257.2,564.5 257.3,563.8 257.4,563.1 257.6,562.4 257.9,561.8 258.3,561.2 258.8,560.6 259.4,560.0 260.0,559.5 260.8,559.0 261.6,558.5 262.4,558.0 263.4,557.6 264.3,557.1 265.3,556.7 266.4,556.3 267.4,555.9 268.5,555.5 269.6,555.1 270.6,554.7 271.7,554.2 272.7,553.8 273.6,553.4 274.6,552.9 275.4,552.4 276.2,552.0 276.9,551.4 277.6,550.9 278.1,550.3 278.6,549.7 279.0,549.1 279.3,548.5 279.5,547.8 279.6,547.1 279.6,546.4 279.5,545.6 279.4,544.8 279.1,544.0 278.8,543.2 278.4,542.3 278.0,541.4 277.5,540.5 276.9,539.6 276.3,538.7 275.7,537.7 275.1,536.8 274.4,535.9 273.8,534.9 273.1,534.0 272.5,533.0 271.9,532.1 271.4,531.2 270.9,530.3 270.4,529.5 270.1,528.6 269.8,527.8 269.6,527.0 269.4,526.2 269.4,525.4" fill="none" stroke="#c2506d" stroke-width="2.2"/>
<polyline points="270.9,619.9 271.4,619.3 271.9,618.8 272.6,618.2 273.3,617.7 274.1,617.2 275.0,616.7 275.9,616.2 276.8,615.8 277.9,615.3 278.9,614.9 280.0,614.5 281.0,614.1 282.1,613.6 283.2,613.2 284.2,612.8 285.3,612.4 286.2,611.9 287.2,611.5 288.1,611.0 288.9,610.5 289.6,610.0 290.3,609.4 290.9,608.8 291.4,608.2 291.8,607.6 292.1,607.0 292.3,606.3 292.5,605.6 292.5,604.8 292.5,604.0 292.3,603.2 292.1,602.4 291.8,601.6 291.5,600.7 291.0,599.8 290.5,598.9 290.0,598.0 289.4,597.0 288.8,596.1 288.2,595.1 287.5,594.1 286.9,593.2 286.3,592.2 285.7,591.3 285.1,590.3 284.5,589.4 284.0,588.5 283.6,587.6 283.2,586.7 282.9,585.9 282.7,585.0 282.5,584.2 282.5,583.5 282.5,582.7 282.6,582.0 282.8,581.3 283.2,580.6 283.6,580.0 284.0,579.4 284.6,578.8 285.3,578.3 286.0,577.7 286.8,577.2 287.7,576.8 288.6,576.3 289.6,575.9 290.6,575.4 291.7,575.0 292.7,574.6 293.8,574.1 294.9,573.7 295.9,573.3 297.0,572.9 298.0,572.4 299.0,572.0 299.9,571.5 300.8,571.1 301.6,570.6 302.3,570.0 303.0,569.5 303.6,568.9 304.0,568.3 304.4,567.7 304.8,567.0 305.0,566.3 305.1,565.6 305.1,564.8 305.1,564.1 304.9,563.3 304.7,562.4 304.4,561.6 304.0,560.7 303.6,559.8 303.1,558.9 302.5,558.0 301.9,557.0 301.3,556.1 300.7,555.1 300.1,554.2 299.4,553.2 298.8,552.2 298.2,551.3 297.6,550.3 297.1,549.4 296.6,548.5 296.1,547.6 295.8,546.7 295.5,545.9 295.3,545.1 295.1,544.3 295.1,543.5 295.1,542.7 295.3,542.0 295.5,541.3 295.8,540.7 296.2,540.1 296.7,539.5 297.3,538.9 298.0,538.3 298.7,537.8 299.5,537.3 300.4,536.8 301.4,536.4 302.3,535.9 303.4,535.5 304.4,535.1 305.5,534.7 306.6,534.2 307.6,533.8 308.7,533.4 309.7,533.0 310.8,532.5 311.7,532.1 312.6,531.6 313.5,531.1 314.3,530.6 315.0,530.1 315.7,529.5 316.2,529.0 316.7,528.4" fill="none" stroke="#c2506d" stroke-width="2.2"/><polyline points="286.2,624.8 286.2,624.0 286.1,623.2 285.8,622.4 285.5,621.5 285.2,620.7 284.8,619.8 284.3,618.9 283.7,617.9 283.2,617.0 282.6,616.1 281.9,615.1 281.3,614.1 280.7,613.2 280.0,612.2 279.4,611.3 278.8,610.3 278.3,609.4 277.8,608.5 277.3,607.6 277.0,606.7 276.6,605.9 276.4,605.0 276.3,604.2 276.2,603.4 276.2,602.7 276.3,602.0 276.5,601.3 276.8,600.6 277.2,600.0 277.7,599.4 278.3,598.8 278.9,598.2 279.7,597.7 280.5,597.2 281.3,596.7 282.3,596.3 283.2,595.8 284.2,595.4 285.3,594.9 286.3,594.5 287.4,594.1 288.5,593.7 289.6,593.3 290.6,592.8 291.6,592.4 292.6,592.0 293.5,591.5 294.4,591.0 295.2,590.5 296.0,590.0 296.6,589.4 297.2,588.9 297.7,588.3 298.1,587.6 298.4,587.0 298.7,586.3 298.8,585.6 298.8,584.8 298.8,584.1 298.6,583.3 298.4,582.4 298.1,581.6 297.7,580.7 297.3,579.8 296.8,578.9 296.3,578.0 295.7,577.0 295.1,576.1 294.4,575.1 293.8,574.1 293.2,573.2 292.5,572.2 291.9,571.3 291.3,570.3 290.8,569.4 290.3,568.5 289.9,567.6 289.5,566.7 289.2,565.9 289.0,565.0 288.8,564.2 288.8,563.5 288.8,562.7 288.9,562.0 289.2,561.3 289.5,560.7 289.9,560.0 290.4,559.4 291.0,558.9 291.6,558.3 292.4,557.8 293.2,557.3 294.1,556.8 295.0,556.3 296.0,555.9 297.0,555.5 298.0,555.0 299.1,554.6 300.2,554.2 301.3,553.8 302.3,553.4 303.4,552.9 304.4,552.5 305.3,552.0 306.3,551.6 307.1,551.1 307.9,550.6 308.7,550.1 309.3,549.5 309.9,548.9 310.4,548.3 310.8,547.7 311.1,547.0 311.3,546.3 311.4,545.6 311.4,544.9 311.3,544.1 311.2,543.3 311.0,542.4 310.6,541.6 310.3,540.7 309.8,539.8 309.3,538.9 308.8,538.0 308.2,537.0 307.6,536.1 306.9,535.1 306.3,534.2 305.7,533.2 305.0,532.2 304.4,531.3 303.9,530.4 303.3,529.4 302.8,528.5 302.4,527.6 302.1,526.8 301.8,525.9 301.5,525.1 301.4,524.3 301.4,523.5" fill="none" stroke="#c2506d" stroke-width="2.2"/>
<polyline points="312.2,677.7 312.6,677.1 313.2,676.5 313.8,676.0 314.6,675.5 315.3,675.0 316.2,674.5 317.1,674.1 318.1,673.6 319.1,673.2 320.1,672.8 321.2,672.4 322.2,672.0 323.3,671.6 324.4,671.1 325.4,670.7 326.4,670.3 327.4,669.9 328.3,669.4 329.2,669.0 330.0,668.5 330.8,668.0 331.4,667.4 332.0,666.9 332.5,666.3 332.9,665.7 333.2,665.0 333.4,664.4 333.6,663.7 333.6,662.9 333.5,662.2 333.4,661.4 333.2,660.6 332.9,659.7 332.5,658.9 332.1,658.0 331.6,657.1 331.0,656.2 330.4,655.3 329.8,654.3 329.2,653.4 328.5,652.5 327.9,651.5 327.2,650.6 326.6,649.7 326.0,648.7 325.5,647.8 325.0,646.9 324.5,646.0 324.1,645.2 323.8,644.3 323.6,643.5 323.4,642.7 323.4,642.0 323.4,641.3 323.5,640.5 323.7,639.9 324.0,639.2 324.4,638.6 324.9,638.0 325.4,637.5 326.1,636.9 326.8,636.4 327.6,635.9 328.5,635.4 329.4,635.0 330.4,634.6 331.4,634.1 332.4,633.7 333.5,633.3 334.5,632.9 335.6,632.5 336.7,632.1 337.7,631.7 338.7,631.2 339.7,630.8 340.6,630.4 341.5,629.9 342.3,629.4 343.0,628.9 343.7,628.3 344.2,627.8 344.7,627.2 345.1,626.6 345.4,625.9 345.6,625.3 345.7,624.5 345.7,623.8 345.7,623.1 345.5,622.3 345.3,621.5 345.0,620.6 344.6,619.8 344.1,618.9 343.6,618.0 343.1,617.1 342.5,616.1 341.9,615.2 341.2,614.3 340.6,613.3 339.9,612.4 339.3,611.5 338.7,610.5 338.1,609.6 337.5,608.7 337.0,607.8 336.6,606.9 336.2,606.1 335.9,605.2 335.7,604.4 335.6,603.6 335.5,602.9 335.5,602.1 335.7,601.4 335.9,600.8 336.2,600.1 336.6,599.5 337.1,598.9 337.7,598.4 338.3,597.8 339.1,597.3 339.9,596.8 340.8,596.4 341.7,595.9 342.7,595.5 343.7,595.1 344.7,594.7 345.8,594.2 346.9,593.8 347.9,593.4 349.0,593.0 350.0,592.6 351.0,592.2 352.0,591.7 352.9,591.3 353.8,590.8 354.5,590.3 355.3,589.8 355.9,589.3 356.5,588.7 356.9,588.1" fill="none" stroke="#c2506d" stroke-width="2.2"/><polyline points="327.5,682.5 327.5,681.7 327.3,680.9 327.1,680.1 326.8,679.3 326.5,678.4 326.0,677.6 325.5,676.7 325.0,675.8 324.4,674.9 323.8,673.9 323.1,673.0 322.5,672.0 321.8,671.1 321.2,670.2 320.6,669.2 320.0,668.3 319.4,667.4 318.9,666.5 318.5,665.6 318.1,664.7 317.8,663.9 317.5,663.1 317.4,662.3 317.3,661.5 317.3,660.8 317.4,660.1 317.6,659.4 317.9,658.8 318.3,658.2 318.8,657.6 319.3,657.0 320.0,656.5 320.7,655.9 321.5,655.5 322.3,655.0 323.3,654.5 324.2,654.1 325.2,653.7 326.3,653.2 327.3,652.8 328.4,652.4 329.5,652.0 330.5,651.6 331.6,651.2 332.6,650.8 333.5,650.3 334.5,649.9 335.3,649.4 336.1,648.9 336.9,648.4 337.5,647.9 338.1,647.3 338.6,646.7 339.0,646.1 339.3,645.5 339.5,644.8 339.6,644.1 339.7,643.4 339.6,642.6 339.5,641.8 339.2,641.0 338.9,640.2 338.5,639.3 338.1,638.4 337.6,637.5 337.0,636.6 336.5,635.7 335.8,634.8 335.2,633.8 334.5,632.9 333.9,632.0 333.3,631.0 332.6,630.1 332.1,629.2 331.5,628.3 331.0,627.4 330.6,626.5 330.2,625.6 329.9,624.8 329.6,624.0 329.5,623.2 329.4,622.4 329.5,621.7 329.6,621.0 329.8,620.3 330.1,619.7 330.5,619.1 331.0,618.5 331.6,617.9 332.2,617.4 333.0,616.9 333.8,616.4 334.6,615.9 335.6,615.5 336.5,615.0 337.5,614.6 338.6,614.2 339.6,613.8 340.7,613.4 341.8,613.0 342.8,612.6 343.9,612.1 344.9,611.7 345.8,611.3 346.8,610.8 347.6,610.3 348.4,609.9 349.1,609.3 349.8,608.8 350.3,608.2 350.8,607.6 351.2,607.0 351.5,606.4 351.7,605.7 351.8,605.0 351.8,604.3 351.7,603.5 351.6,602.7 351.3,601.9 351.0,601.1 350.6,600.2 350.2,599.3 349.7,598.4 349.1,597.5 348.5,596.6 347.9,595.6 347.3,594.7 346.6,593.8 346.0,592.8 345.3,591.9 344.7,590.9 344.1,590.0 343.6,589.1 343.1,588.2 342.6,587.4 342.3,586.5 342.0,585.7 341.8,584.9 341.6,584.1 341.6,583.3" fill="none" stroke="#c2506d" stroke-width="2.2"/>
<polyline points="345.0,674.4 345.4,673.8 346.0,673.2 346.6,672.7 347.4,672.2 348.1,671.7 349.0,671.2 349.9,670.8 350.9,670.3 351.9,669.9 352.9,669.5 354.0,669.1 355.0,668.7 356.1,668.3 357.2,667.8 358.2,667.4 359.2,667.0 360.2,666.6 361.1,666.1 362.0,665.7 362.8,665.2 363.6,664.7 364.2,664.1 364.8,663.6 365.3,663.0 365.7,662.4 366.0,661.7 366.2,661.1 366.4,660.4 366.4,659.6 366.3,658.9 366.2,658.1 366.0,657.3 365.7,656.4 365.3,655.6 364.9,654.7 364.4,653.8 363.8,652.9 363.2,652.0 362.6,651.0 362.0,650.1 361.3,649.2 360.7,648.2 360.0,647.3 359.4,646.4 358.8,645.4 358.3,644.5 357.8,643.6 357.3,642.7 356.9,641.9 356.6,641.0 356.4,640.2 356.2,639.4 356.2,638.7 356.2,638.0 356.3,637.2 356.5,636.6 356.8,635.9 357.2,635.3 357.7,634.7 358.2,634.2 358.9,633.6 359.6,633.1 360.4,632.6 361.3,632.1 362.2,631.7 363.2,631.3 364.2,630.8 365.2,630.4 366.3,630.0 367.4,629.6 368.4,629.2 369.5,628.8 370.5,628.4 371.5,627.9 372.5,627.5 373.4,627.1 374.3,626.6 375.1,626.1 375.8,625.6 376.5,625.0 377.0,624.5 377.5,623.9 377.9,623.3 378.2,622.6 378.4,622.0 378.5,621.2 378.5,620.5 378.5,619.8 378.3,619.0 378.1,618.2 377.8,617.3 377.4,616.5 376.9,615.6 376.4,614.7 375.9,613.8 375.3,612.8 374.7,611.9 374.0,611.0 373.4,610.0 372.7,609.1 372.1,608.2 371.5,607.2 370.9,606.3 370.3,605.4 369.8,604.5 369.4,603.6 369.0,602.8 368.7,601.9 368.5,601.1 368.4,600.3 368.3,599.6 368.3,598.8 368.5,598.1 368.7,597.5 369.0,596.8 369.4,596.2 369.9,595.6 370.5,595.1 371.1,594.5 371.9,594.0 372.7,593.5 373.6,593.1 374.5,592.6 375.5,592.2 376.5,591.8 377.5,591.4 378.6,590.9 379.7,590.5 380.7,590.1 381.8,589.7 382.8,589.3 383.8,588.9 384.8,588.4 385.7,588.0 386.6,587.5 387.3,587.0 388.1,586.5 388.7,586.0 389.3,585.4 389.7,584.8" fill="none" stroke="#c2506d" stroke-width="2.2"/><polyline points="360.3,679.2 360.3,678.4 360.1,677.6 359.9,676.8 359.6,676.0 359.3,675.1 358.8,674.3 358.3,673.4 357.8,672.5 357.2,671.6 356.6,670.6 355.9,669.7 355.3,668.7 354.6,667.8 354.0,666.9 353.4,665.9 352.8,665.0 352.2,664.1 351.7,663.2 351.3,662.3 350.9,661.4 350.6,660.6 350.3,659.8 350.2,659.0 350.1,658.2 350.1,657.5 350.2,656.8 350.4,656.1 350.7,655.5 351.1,654.9 351.6,654.3 352.1,653.7 352.8,653.2 353.5,652.6 354.3,652.2 355.1,651.7 356.1,651.2 357.0,650.8 358.0,650.4 359.1,649.9 360.1,649.5 361.2,649.1 362.3,648.7 363.3,648.3 364.4,647.9 365.4,647.5 366.3,647.0 367.3,646.6 368.1,646.1 368.9,645.6 369.7,645.1 370.3,644.6 370.9,644.0 371.4,643.4 371.8,642.8 372.1,642.2 372.3,641.5 372.4,640.8 372.5,640.1 372.4,639.3 372.3,638.5 372.0,637.7 371.7,636.9 371.3,636.0 370.9,635.1 370.4,634.2 369.8,633.3 369.3,632.4 368.6,631.5 368.0,630.5 367.4,629.6 366.7,628.7 366.1,627.7 365.4,626.8 364.9,625.9 364.3,625.0 363.8,624.1 363.4,623.2 363.0,622.3 362.7,621.5 362.4,620.7 362.3,619.9 362.2,619.1 362.3,618.4 362.4,617.7 362.6,617.0 362.9,616.4 363.3,615.8 363.8,615.2 364.4,614.6 365.0,614.1 365.8,613.6 366.6,613.1 367.4,612.6 368.4,612.2 369.3,611.7 370.3,611.3 371.4,610.9 372.4,610.5 373.5,610.1 374.6,609.7 375.6,609.3 376.7,608.8 377.7,608.4 378.6,608.0 379.6,607.5 380.4,607.0 381.2,606.6 381.9,606.0 382.6,605.5 383.1,604.9 383.6,604.3 384.0,603.7 384.3,603.1 384.5,602.4 384.6,601.7 384.6,601.0 384.5,600.2 384.4,599.4 384.1,598.6 383.8,597.8 383.4,596.9 383.0,596.0 382.5,595.1 381.9,594.2 381.3,593.3 380.7,592.3 380.1,591.4 379.4,590.5 378.8,589.5 378.1,588.6 377.5,587.6 376.9,586.7 376.4,585.8 375.9,584.9 375.4,584.1 375.1,583.2 374.8,582.4 374.6,581.6 374.4,580.8 374.4,580.0" fill="none" stroke="#c2506d" stroke-width="2.2"/>
</g>
<ellipse cx="1225" cy="423" rx="110" ry="103" fill="none" stroke="#e9edf1" stroke-width="12"/>
<circle cx="1330.0" cy="423.0" r="2.9" fill="none" stroke="#95a1ae" stroke-width="0.95"/><circle cx="1330.6" cy="430.4" r="2.9" fill="none" stroke="#95a1ae" stroke-width="0.95"/><circle cx="1327.6" cy="437.4" r="2.9" fill="none" stroke="#95a1ae" stroke-width="0.95"/><circle cx="1328.0" cy="445.0" r="2.9" fill="none" stroke="#95a1ae" stroke-width="0.95"/><circle cx="1325.6" cy="452.0" r="2.9" fill="none" stroke="#95a1ae" stroke-width="0.95"/><circle cx="1321.8" cy="458.4" r="2.9" fill="none" stroke="#95a1ae" stroke-width="0.95"/><circle cx="1320.6" cy="466.0" r="2.9" fill="none" stroke="#95a1ae" stroke-width="0.95"/><circle cx="1315.5" cy="471.8" r="2.9" fill="none" stroke="#95a1ae" stroke-width="0.95"/><circle cx="1311.3" cy="477.9" r="2.9" fill="none" stroke="#95a1ae" stroke-width="0.95"/><circle cx="1308.0" cy="484.8" r="2.9" fill="none" stroke="#95a1ae" stroke-width="0.95"/><circle cx="1301.2" cy="489.0" r="2.9" fill="none" stroke="#95a1ae" stroke-width="0.95"/><circle cx="1296.6" cy="495.0" r="2.9" fill="none" stroke="#95a1ae" stroke-width="0.95"/><circle cx="1290.9" cy="500.2" r="2.9" fill="none" stroke="#95a1ae" stroke-width="0.95"/><circle cx="1283.5" cy="503.0" r="2.9" fill="none" stroke="#95a1ae" stroke-width="0.95"/><circle cx="1277.9" cy="508.6" r="2.9" fill="none" stroke="#95a1ae" stroke-width="0.95"/><circle cx="1270.6" cy="511.4" r="2.9" fill="none" stroke="#95a1ae" stroke-width="0.95"/><circle cx="1263.0" cy="513.4" r="2.9" fill="none" stroke="#95a1ae" stroke-width="0.95"/><circle cx="1256.3" cy="517.8" r="2.9" fill="none" stroke="#95a1ae" stroke-width="0.95"/><circle cx="1248.2" cy="517.9" r="2.9" fill="none" stroke="#95a1ae" stroke-width="0.95"/><circle cx="1240.6" cy="519.6" r="2.9" fill="none" stroke="#95a1ae" stroke-width="0.95"/><circle cx="1232.9" cy="521.8" r="2.9" fill="none" stroke="#95a1ae" stroke-width="0.95"/><circle cx="1225.0" cy="519.9" r="2.9" fill="none" stroke="#95a1ae" stroke-width="0.95"/><circle cx="1217.1" cy="521.1" r="2.9" fill="none" stroke="#95a1ae" stroke-width="0.95"/><circle cx="1209.3" cy="520.5" r="2.9" fill="none" stroke="#95a1ae" stroke-width="0.95"/><circle cx="1201.9" cy="517.4" r="2.9" fill="none" stroke="#95a1ae" stroke-width="0.95"/><circle cx="1193.8" cy="517.6" r="2.9" fill="none" stroke="#95a1ae" stroke-width="0.95"/><circle cx="1186.7" cy="514.1" r="2.9" fill="none" stroke="#95a1ae" stroke-width="0.95"/><circle cx="1179.8" cy="510.6" r="2.9" fill="none" stroke="#95a1ae" stroke-width="0.95"/><circle cx="1171.9" cy="508.9" r="2.9" fill="none" stroke="#95a1ae" stroke-width="0.95"/><circle cx="1166.3" cy="503.3" r="2.9" fill="none" stroke="#95a1ae" stroke-width="0.95"/><circle cx="1159.6" cy="499.5" r="2.9" fill="none" stroke="#95a1ae" stroke-width="0.95"/><circle cx="1152.9" cy="495.6" r="2.9" fill="none" stroke="#95a1ae" stroke-width="0.95"/><circle cx="1148.9" cy="488.9" r="2.9" fill="none" stroke="#95a1ae" stroke-width="0.95"/><circle cx="1142.5" cy="484.5" r="2.9" fill="none" stroke="#95a1ae" stroke-width="0.95"/><circle cx="1137.9" cy="478.4" r="2.9" fill="none" stroke="#95a1ae" stroke-width="0.95"/><circle cx="1135.0" cy="471.4" r="2.9" fill="none" stroke="#95a1ae" stroke-width="0.95"/><circle cx="1129.4" cy="466.0" r="2.9" fill="none" stroke="#95a1ae" stroke-width="0.95"/><circle cx="1127.6" cy="458.7" r="2.9" fill="none" stroke="#95a1ae" stroke-width="0.95"/><circle cx="1125.3" cy="451.7" r="2.9" fill="none" stroke="#95a1ae" stroke-width="0.95"/><circle cx="1121.5" cy="445.1" r="2.9" fill="none" stroke="#95a1ae" stroke-width="0.95"/><circle cx="1122.1" cy="437.5" r="2.9" fill="none" stroke="#95a1ae" stroke-width="0.95"/><circle cx="1120.2" cy="430.3" r="2.9" fill="none" stroke="#95a1ae" stroke-width="0.95"/><circle cx="1119.1" cy="423.0" r="2.9" fill="none" stroke="#95a1ae" stroke-width="0.95"/><circle cx="1121.5" cy="415.8" r="2.9" fill="none" stroke="#95a1ae" stroke-width="0.95"/><circle cx="1120.4" cy="408.3" r="2.9" fill="none" stroke="#95a1ae" stroke-width="0.95"/><circle cx="1122.4" cy="401.1" r="2.9" fill="none" stroke="#95a1ae" stroke-width="0.95"/><circle cx="1125.6" cy="394.4" r="2.9" fill="none" stroke="#95a1ae" stroke-width="0.95"/><circle cx="1126.2" cy="386.8" r="2.9" fill="none" stroke="#95a1ae" stroke-width="0.95"/><circle cx="1130.9" cy="380.7" r="2.9" fill="none" stroke="#95a1ae" stroke-width="0.95"/><circle cx="1134.5" cy="374.2" r="2.9" fill="none" stroke="#95a1ae" stroke-width="0.95"/><circle cx="1137.3" cy="367.2" r="2.9" fill="none" stroke="#95a1ae" stroke-width="0.95"/><circle cx="1143.7" cy="362.6" r="2.9" fill="none" stroke="#95a1ae" stroke-width="0.95"/><circle cx="1147.8" cy="356.2" r="2.9" fill="none" stroke="#95a1ae" stroke-width="0.95"/><circle cx="1153.1" cy="350.6" r="2.9" fill="none" stroke="#95a1ae" stroke-width="0.95"/><circle cx="1160.3" cy="347.3" r="2.9" fill="none" stroke="#95a1ae" stroke-width="0.95"/><circle cx="1165.3" cy="341.3" r="2.9" fill="none" stroke="#95a1ae" stroke-width="0.95"/><circle cx="1172.5" cy="338.1" r="2.9" fill="none" stroke="#95a1ae" stroke-width="0.95"/><circle cx="1179.8" cy="335.5" r="2.9" fill="none" stroke="#95a1ae" stroke-width="0.95"/><circle cx="1186.2" cy="330.7" r="2.9" fill="none" stroke="#95a1ae" stroke-width="0.95"/><circle cx="1194.3" cy="330.0" r="2.9" fill="none" stroke="#95a1ae" stroke-width="0.95"/><circle cx="1201.7" cy="327.7" r="2.9" fill="none" stroke="#95a1ae" stroke-width="0.95"/><circle cx="1209.2" cy="325.1" r="2.9" fill="none" stroke="#95a1ae" stroke-width="0.95"/><circle cx="1217.2" cy="326.4" r="2.9" fill="none" stroke="#95a1ae" stroke-width="0.95"/><circle cx="1225.0" cy="324.5" r="2.9" fill="none" stroke="#95a1ae" stroke-width="0.95"/><circle cx="1232.9" cy="324.7" r="2.9" fill="none" stroke="#95a1ae" stroke-width="0.95"/><circle cx="1240.5" cy="327.2" r="2.9" fill="none" stroke="#95a1ae" stroke-width="0.95"/><circle cx="1248.6" cy="326.5" r="2.9" fill="none" stroke="#95a1ae" stroke-width="0.95"/><circle cx="1255.9" cy="329.5" r="2.9" fill="none" stroke="#95a1ae" stroke-width="0.95"/><circle cx="1263.1" cy="332.5" r="2.9" fill="none" stroke="#95a1ae" stroke-width="0.95"/><circle cx="1271.1" cy="333.6" r="2.9" fill="none" stroke="#95a1ae" stroke-width="0.95"/><circle cx="1277.1" cy="338.9" r="2.9" fill="none" stroke="#95a1ae" stroke-width="0.95"/><circle cx="1284.1" cy="342.1" r="2.9" fill="none" stroke="#95a1ae" stroke-width="0.95"/><circle cx="1291.1" cy="345.6" r="2.9" fill="none" stroke="#95a1ae" stroke-width="0.95"/><circle cx="1295.6" cy="352.0" r="2.9" fill="none" stroke="#95a1ae" stroke-width="0.95"/><circle cx="1302.4" cy="355.9" r="2.9" fill="none" stroke="#95a1ae" stroke-width="0.95"/><circle cx="1307.4" cy="361.7" r="2.9" fill="none" stroke="#95a1ae" stroke-width="0.95"/><circle cx="1310.9" cy="368.4" r="2.9" fill="none" stroke="#95a1ae" stroke-width="0.95"/><circle cx="1316.9" cy="373.4" r="2.9" fill="none" stroke="#95a1ae" stroke-width="0.95"/><circle cx="1319.3" cy="380.6" r="2.9" fill="none" stroke="#95a1ae" stroke-width="0.95"/><circle cx="1322.2" cy="387.4" r="2.9" fill="none" stroke="#95a1ae" stroke-width="0.95"/><circle cx="1326.5" cy="393.8" r="2.9" fill="none" stroke="#95a1ae" stroke-width="0.95"/><circle cx="1326.4" cy="401.4" r="2.9" fill="none" stroke="#95a1ae" stroke-width="0.95"/><circle cx="1329.0" cy="408.4" r="2.9" fill="none" stroke="#95a1ae" stroke-width="0.95"/><circle cx="1330.5" cy="415.6" r="2.9" fill="none" stroke="#95a1ae" stroke-width="0.95"/><circle cx="1335.1" cy="426.9" r="2.9" fill="none" stroke="#95a1ae" stroke-width="0.95"/><circle cx="1332.4" cy="434.3" r="2.9" fill="none" stroke="#95a1ae" stroke-width="0.95"/><circle cx="1332.1" cy="442.0" r="2.9" fill="none" stroke="#95a1ae" stroke-width="0.95"/><circle cx="1331.1" cy="449.6" r="2.9" fill="none" stroke="#95a1ae" stroke-width="0.95"/><circle cx="1326.8" cy="456.3" r="2.9" fill="none" stroke="#95a1ae" stroke-width="0.95"/><circle cx="1325.6" cy="464.1" r="2.9" fill="none" stroke="#95a1ae" stroke-width="0.95"/><circle cx="1321.6" cy="470.8" r="2.9" fill="none" stroke="#95a1ae" stroke-width="0.95"/><circle cx="1316.4" cy="476.7" r="2.9" fill="none" stroke="#95a1ae" stroke-width="0.95"/><circle cx="1313.6" cy="484.2" r="2.9" fill="none" stroke="#95a1ae" stroke-width="0.95"/><circle cx="1307.3" cy="489.2" r="2.9" fill="none" stroke="#95a1ae" stroke-width="0.95"/><circle cx="1301.7" cy="494.8" r="2.9" fill="none" stroke="#95a1ae" stroke-width="0.95"/><circle cx="1296.8" cy="501.2" r="2.9" fill="none" stroke="#95a1ae" stroke-width="0.95"/><circle cx="1289.1" cy="504.2" r="2.9" fill="none" stroke="#95a1ae" stroke-width="0.95"/><circle cx="1283.1" cy="509.6" r="2.9" fill="none" stroke="#95a1ae" stroke-width="0.95"/><circle cx="1276.3" cy="513.8" r="2.9" fill="none" stroke="#95a1ae" stroke-width="0.95"/><circle cx="1268.1" cy="515.4" r="2.9" fill="none" stroke="#95a1ae" stroke-width="0.95"/><circle cx="1261.3" cy="520.1" r="2.9" fill="none" stroke="#95a1ae" stroke-width="0.95"/><circle cx="1253.2" cy="521.6" r="2.9" fill="none" stroke="#95a1ae" stroke-width="0.95"/><circle cx="1245.1" cy="522.3" r="2.9" fill="none" stroke="#95a1ae" stroke-width="0.95"/><circle cx="1237.3" cy="525.5" r="2.9" fill="none" stroke="#95a1ae" stroke-width="0.95"/><circle cx="1229.1" cy="524.3" r="2.9" fill="none" stroke="#95a1ae" stroke-width="0.95"/><circle cx="1220.9" cy="524.6" r="2.9" fill="none" stroke="#95a1ae" stroke-width="0.95"/><circle cx="1212.7" cy="525.4" r="2.9" fill="none" stroke="#95a1ae" stroke-width="0.95"/><circle cx="1204.9" cy="522.1" r="2.9" fill="none" stroke="#95a1ae" stroke-width="0.95"/><circle cx="1196.7" cy="521.9" r="2.9" fill="none" stroke="#95a1ae" stroke-width="0.95"/><circle cx="1188.8" cy="519.8" r="2.9" fill="none" stroke="#95a1ae" stroke-width="0.95"/><circle cx="1181.9" cy="515.4" r="2.9" fill="none" stroke="#95a1ae" stroke-width="0.95"/><circle cx="1173.6" cy="514.1" r="2.9" fill="none" stroke="#95a1ae" stroke-width="0.95"/><circle cx="1167.1" cy="509.2" r="2.9" fill="none" stroke="#95a1ae" stroke-width="0.95"/><circle cx="1160.7" cy="504.4" r="2.9" fill="none" stroke="#95a1ae" stroke-width="0.95"/><circle cx="1153.1" cy="501.2" r="2.9" fill="none" stroke="#95a1ae" stroke-width="0.95"/><circle cx="1148.5" cy="494.6" r="2.9" fill="none" stroke="#95a1ae" stroke-width="0.95"/><circle cx="1142.5" cy="489.5" r="2.9" fill="none" stroke="#95a1ae" stroke-width="0.95"/><circle cx="1136.5" cy="484.1" r="2.9" fill="none" stroke="#95a1ae" stroke-width="0.95"/><circle cx="1133.7" cy="476.6" r="2.9" fill="none" stroke="#95a1ae" stroke-width="0.95"/><circle cx="1128.1" cy="470.9" r="2.9" fill="none" stroke="#95a1ae" stroke-width="0.95"/><circle cx="1124.7" cy="463.9" r="2.9" fill="none" stroke="#95a1ae" stroke-width="0.95"/><circle cx="1123.2" cy="456.3" r="2.9" fill="none" stroke="#95a1ae" stroke-width="0.95"/><circle cx="1118.7" cy="449.7" r="2.9" fill="none" stroke="#95a1ae" stroke-width="0.95"/><circle cx="1118.2" cy="441.9" r="2.9" fill="none" stroke="#95a1ae" stroke-width="0.95"/><circle cx="1117.3" cy="434.4" r="2.9" fill="none" stroke="#95a1ae" stroke-width="0.95"/><circle cx="1114.9" cy="426.9" r="2.9" fill="none" stroke="#95a1ae" stroke-width="0.95"/><circle cx="1117.0" cy="419.2" r="2.9" fill="none" stroke="#95a1ae" stroke-width="0.95"/><circle cx="1116.6" cy="411.6" r="2.9" fill="none" stroke="#95a1ae" stroke-width="0.95"/><circle cx="1117.1" cy="403.9" r="2.9" fill="none" stroke="#95a1ae" stroke-width="0.95"/><circle cx="1120.9" cy="396.9" r="2.9" fill="none" stroke="#95a1ae" stroke-width="0.95"/><circle cx="1121.4" cy="389.1" r="2.9" fill="none" stroke="#95a1ae" stroke-width="0.95"/><circle cx="1124.9" cy="382.1" r="2.9" fill="none" stroke="#95a1ae" stroke-width="0.95"/><circle cx="1129.5" cy="375.8" r="2.9" fill="none" stroke="#95a1ae" stroke-width="0.95"/><circle cx="1131.7" cy="368.1" r="2.9" fill="none" stroke="#95a1ae" stroke-width="0.95"/><circle cx="1137.7" cy="362.7" r="2.9" fill="none" stroke="#95a1ae" stroke-width="0.95"/><circle cx="1142.7" cy="356.8" r="2.9" fill="none" stroke="#95a1ae" stroke-width="0.95"/><circle cx="1147.1" cy="350.1" r="2.9" fill="none" stroke="#95a1ae" stroke-width="0.95"/><circle cx="1154.6" cy="346.5" r="2.9" fill="none" stroke="#95a1ae" stroke-width="0.95"/><circle cx="1160.1" cy="340.7" r="2.9" fill="none" stroke="#95a1ae" stroke-width="0.95"/><circle cx="1166.6" cy="336.1" r="2.9" fill="none" stroke="#95a1ae" stroke-width="0.95"/><circle cx="1174.6" cy="333.9" r="2.9" fill="none" stroke="#95a1ae" stroke-width="0.95"/><circle cx="1181.1" cy="328.7" r="2.9" fill="none" stroke="#95a1ae" stroke-width="0.95"/><circle cx="1189.0" cy="326.7" r="2.9" fill="none" stroke="#95a1ae" stroke-width="0.95"/><circle cx="1197.0" cy="325.3" r="2.9" fill="none" stroke="#95a1ae" stroke-width="0.95"/><circle cx="1204.5" cy="321.6" r="2.9" fill="none" stroke="#95a1ae" stroke-width="0.95"/><circle cx="1212.9" cy="322.3" r="2.9" fill="none" stroke="#95a1ae" stroke-width="0.95"/><circle cx="1220.9" cy="321.3" r="2.9" fill="none" stroke="#95a1ae" stroke-width="0.95"/><circle cx="1229.1" cy="320.0" r="2.9" fill="none" stroke="#95a1ae" stroke-width="0.95"/><circle cx="1237.1" cy="322.8" r="2.9" fill="none" stroke="#95a1ae" stroke-width="0.95"/><circle cx="1245.4" cy="322.3" r="2.9" fill="none" stroke="#95a1ae" stroke-width="0.95"/><circle cx="1253.3" cy="324.0" r="2.9" fill="none" stroke="#95a1ae" stroke-width="0.95"/><circle cx="1260.6" cy="327.8" r="2.9" fill="none" stroke="#95a1ae" stroke-width="0.95"/><circle cx="1269.0" cy="328.6" r="2.9" fill="none" stroke="#95a1ae" stroke-width="0.95"/><circle cx="1275.8" cy="333.0" r="2.9" fill="none" stroke="#95a1ae" stroke-width="0.95"/><circle cx="1282.6" cy="337.3" r="2.9" fill="none" stroke="#95a1ae" stroke-width="0.95"/><circle cx="1290.4" cy="340.0" r="2.9" fill="none" stroke="#95a1ae" stroke-width="0.95"/><circle cx="1295.5" cy="346.3" r="2.9" fill="none" stroke="#95a1ae" stroke-width="0.95"/><circle cx="1302.0" cy="350.9" r="2.9" fill="none" stroke="#95a1ae" stroke-width="0.95"/><circle cx="1308.3" cy="355.9" r="2.9" fill="none" stroke="#95a1ae" stroke-width="0.95"/><circle cx="1311.7" cy="363.1" r="2.9" fill="none" stroke="#95a1ae" stroke-width="0.95"/><circle cx="1317.8" cy="368.4" r="2.9" fill="none" stroke="#95a1ae" stroke-width="0.95"/><circle cx="1321.7" cy="375.2" r="2.9" fill="none" stroke="#95a1ae" stroke-width="0.95"/><circle cx="1323.9" cy="382.6" r="2.9" fill="none" stroke="#95a1ae" stroke-width="0.95"/><circle cx="1328.9" cy="388.9" r="2.9" fill="none" stroke="#95a1ae" stroke-width="0.95"/><circle cx="1329.9" cy="396.7" r="2.9" fill="none" stroke="#95a1ae" stroke-width="0.95"/><circle cx="1331.5" cy="404.1" r="2.9" fill="none" stroke="#95a1ae" stroke-width="0.95"/><circle cx="1334.5" cy="411.4" r="2.9" fill="none" stroke="#95a1ae" stroke-width="0.95"/><circle cx="1332.9" cy="419.2" r="2.9" fill="none" stroke="#95a1ae" stroke-width="0.95"/><circle cx="1337.2" cy="425.0" r="2.9" fill="none" stroke="#95a1ae" stroke-width="0.95"/><circle cx="1336.4" cy="432.8" r="2.9" fill="none" stroke="#95a1ae" stroke-width="0.95"/><circle cx="1337.1" cy="440.9" r="2.9" fill="none" stroke="#95a1ae" stroke-width="0.95"/><circle cx="1333.3" cy="448.2" r="2.9" fill="none" stroke="#95a1ae" stroke-width="0.95"/><circle cx="1331.9" cy="456.0" r="2.9" fill="none" stroke="#95a1ae" stroke-width="0.95"/><circle cx="1329.7" cy="463.7" r="2.9" fill="none" stroke="#95a1ae" stroke-width="0.95"/><circle cx="1324.4" cy="470.0" r="2.9" fill="none" stroke="#95a1ae" stroke-width="0.95"/><circle cx="1322.0" cy="477.8" r="2.9" fill="none" stroke="#95a1ae" stroke-width="0.95"/><circle cx="1316.9" cy="484.2" r="2.9" fill="none" stroke="#95a1ae" stroke-width="0.95"/><circle cx="1310.8" cy="489.7" r="2.9" fill="none" stroke="#95a1ae" stroke-width="0.95"/><circle cx="1306.8" cy="497.0" r="2.9" fill="none" stroke="#95a1ae" stroke-width="0.95"/><circle cx="1299.6" cy="501.3" r="2.9" fill="none" stroke="#95a1ae" stroke-width="0.95"/><circle cx="1293.2" cy="506.3" r="2.9" fill="none" stroke="#95a1ae" stroke-width="0.95"/><circle cx="1287.2" cy="512.2" r="2.9" fill="none" stroke="#95a1ae" stroke-width="0.95"/><circle cx="1278.9" cy="514.4" r="2.9" fill="none" stroke="#95a1ae" stroke-width="0.95"/><circle cx="1272.0" cy="519.1" r="2.9" fill="none" stroke="#95a1ae" stroke-width="0.95"/><circle cx="1264.4" cy="522.6" r="2.9" fill="none" stroke="#95a1ae" stroke-width="0.95"/><circle cx="1255.8" cy="523.2" r="2.9" fill="none" stroke="#95a1ae" stroke-width="0.95"/><circle cx="1248.2" cy="527.1" r="2.9" fill="none" stroke="#95a1ae" stroke-width="0.95"/><circle cx="1239.7" cy="527.6" r="2.9" fill="none" stroke="#95a1ae" stroke-width="0.95"/><circle cx="1231.3" cy="527.4" r="2.9" fill="none" stroke="#95a1ae" stroke-width="0.95"/><circle cx="1222.9" cy="529.7" r="2.9" fill="none" stroke="#95a1ae" stroke-width="0.95"/><circle cx="1214.6" cy="527.4" r="2.9" fill="none" stroke="#95a1ae" stroke-width="0.95"/><circle cx="1206.2" cy="526.7" r="2.9" fill="none" stroke="#95a1ae" stroke-width="0.95"/><circle cx="1197.7" cy="526.4" r="2.9" fill="none" stroke="#95a1ae" stroke-width="0.95"/><circle cx="1190.2" cy="522.1" r="2.9" fill="none" stroke="#95a1ae" stroke-width="0.95"/><circle cx="1181.8" cy="520.9" r="2.9" fill="none" stroke="#95a1ae" stroke-width="0.95"/><circle cx="1174.1" cy="517.7" r="2.9" fill="none" stroke="#95a1ae" stroke-width="0.95"/><circle cx="1167.5" cy="512.4" r="2.9" fill="none" stroke="#95a1ae" stroke-width="0.95"/><circle cx="1159.3" cy="509.9" r="2.9" fill="none" stroke="#95a1ae" stroke-width="0.95"/><circle cx="1153.3" cy="504.1" r="2.9" fill="none" stroke="#95a1ae" stroke-width="0.95"/><circle cx="1147.5" cy="498.4" r="2.9" fill="none" stroke="#95a1ae" stroke-width="0.95"/><circle cx="1140.2" cy="494.1" r="2.9" fill="none" stroke="#95a1ae" stroke-width="0.95"/><circle cx="1136.4" cy="486.7" r="2.9" fill="none" stroke="#95a1ae" stroke-width="0.95"/><circle cx="1131.0" cy="480.7" r="2.9" fill="none" stroke="#95a1ae" stroke-width="0.95"/><circle cx="1125.7" cy="474.5" r="2.9" fill="none" stroke="#95a1ae" stroke-width="0.95"/><circle cx="1123.8" cy="466.5" r="2.9" fill="none" stroke="#95a1ae" stroke-width="0.95"/><circle cx="1119.0" cy="459.9" r="2.9" fill="none" stroke="#95a1ae" stroke-width="0.95"/><circle cx="1116.5" cy="452.3" r="2.9" fill="none" stroke="#95a1ae" stroke-width="0.95"/><circle cx="1115.9" cy="444.3" r="2.9" fill="none" stroke="#95a1ae" stroke-width="0.95"/><circle cx="1112.4" cy="436.9" r="2.9" fill="none" stroke="#95a1ae" stroke-width="0.95"/><circle cx="1113.0" cy="428.9" r="2.9" fill="none" stroke="#95a1ae" stroke-width="0.95"/><circle cx="1113.1" cy="421.0" r="2.9" fill="none" stroke="#95a1ae" stroke-width="0.95"/><circle cx="1111.8" cy="413.0" r="2.9" fill="none" stroke="#95a1ae" stroke-width="0.95"/><circle cx="1115.0" cy="405.5" r="2.9" fill="none" stroke="#95a1ae" stroke-width="0.95"/><circle cx="1115.7" cy="397.6" r="2.9" fill="none" stroke="#95a1ae" stroke-width="0.95"/><circle cx="1117.4" cy="389.8" r="2.9" fill="none" stroke="#95a1ae" stroke-width="0.95"/><circle cx="1122.2" cy="383.1" r="2.9" fill="none" stroke="#95a1ae" stroke-width="0.95"/><circle cx="1123.9" cy="375.1" r="2.9" fill="none" stroke="#95a1ae" stroke-width="0.95"/><circle cx="1128.5" cy="368.5" r="2.9" fill="none" stroke="#95a1ae" stroke-width="0.95"/><circle cx="1134.1" cy="362.5" r="2.9" fill="none" stroke="#95a1ae" stroke-width="0.95"/><circle cx="1137.5" cy="354.9" r="2.9" fill="none" stroke="#95a1ae" stroke-width="0.95"/><circle cx="1144.4" cy="350.2" r="2.9" fill="none" stroke="#95a1ae" stroke-width="0.95"/><circle cx="1150.3" cy="344.7" r="2.9" fill="none" stroke="#95a1ae" stroke-width="0.95"/><circle cx="1155.8" cy="338.4" r="2.9" fill="none" stroke="#95a1ae" stroke-width="0.95"/><circle cx="1164.0" cy="335.6" r="2.9" fill="none" stroke="#95a1ae" stroke-width="0.95"/><circle cx="1170.4" cy="330.4" r="2.9" fill="none" stroke="#95a1ae" stroke-width="0.95"/><circle cx="1177.8" cy="326.5" r="2.9" fill="none" stroke="#95a1ae" stroke-width="0.95"/><circle cx="1186.3" cy="325.2" r="2.9" fill="none" stroke="#95a1ae" stroke-width="0.95"/><circle cx="1193.6" cy="320.7" r="2.9" fill="none" stroke="#95a1ae" stroke-width="0.95"/><circle cx="1202.0" cy="319.8" r="2.9" fill="none" stroke="#95a1ae" stroke-width="0.95"/><circle cx="1210.4" cy="319.3" r="2.9" fill="none" stroke="#95a1ae" stroke-width="0.95"/><circle cx="1218.6" cy="316.5" r="2.9" fill="none" stroke="#95a1ae" stroke-width="0.95"/><circle cx="1227.1" cy="318.2" r="2.9" fill="none" stroke="#95a1ae" stroke-width="0.95"/><circle cx="1235.5" cy="318.2" r="2.9" fill="none" stroke="#95a1ae" stroke-width="0.95"/><circle cx="1244.0" cy="318.0" r="2.9" fill="none" stroke="#95a1ae" stroke-width="0.95"/><circle cx="1251.8" cy="321.7" r="2.9" fill="none" stroke="#95a1ae" stroke-width="0.95"/><circle cx="1260.3" cy="322.3" r="2.9" fill="none" stroke="#95a1ae" stroke-width="0.95"/><circle cx="1268.2" cy="325.1" r="2.9" fill="none" stroke="#95a1ae" stroke-width="0.95"/><circle cx="1275.2" cy="329.8" r="2.9" fill="none" stroke="#95a1ae" stroke-width="0.95"/><circle cx="1283.6" cy="331.8" r="2.9" fill="none" stroke="#95a1ae" stroke-width="0.95"/><circle cx="1290.0" cy="337.1" r="2.9" fill="none" stroke="#95a1ae" stroke-width="0.95"/><circle cx="1296.3" cy="342.3" r="2.9" fill="none" stroke="#95a1ae" stroke-width="0.95"/><circle cx="1303.9" cy="346.2" r="2.9" fill="none" stroke="#95a1ae" stroke-width="0.95"/><circle cx="1308.2" cy="353.3" r="2.9" fill="none" stroke="#95a1ae" stroke-width="0.95"/><circle cx="1314.2" cy="358.8" r="2.9" fill="none" stroke="#95a1ae" stroke-width="0.95"/><circle cx="1319.9" cy="364.7" r="2.9" fill="none" stroke="#95a1ae" stroke-width="0.95"/><circle cx="1322.4" cy="372.5" r="2.9" fill="none" stroke="#95a1ae" stroke-width="0.95"/><circle cx="1327.9" cy="378.7" r="2.9" fill="none" stroke="#95a1ae" stroke-width="0.95"/><circle cx="1330.8" cy="386.2" r="2.9" fill="none" stroke="#95a1ae" stroke-width="0.95"/><circle cx="1332.1" cy="394.1" r="2.9" fill="none" stroke="#95a1ae" stroke-width="0.95"/><circle cx="1336.2" cy="401.2" r="2.9" fill="none" stroke="#95a1ae" stroke-width="0.95"/><circle cx="1336.1" cy="409.3" r="2.9" fill="none" stroke="#95a1ae" stroke-width="0.95"/><circle cx="1336.8" cy="417.1" r="2.9" fill="none" stroke="#95a1ae" stroke-width="0.95"/>
<line x1="1212.4" y1="309.2" x2="1213.7" y2="321.1" stroke="#7d8894" stroke-width="1"/>
<rect x="1209.7" y="306.5" width="5.4" height="5.4" transform="rotate(45 1212.4 309.2)" fill="#22262b"/>
<line x1="1252.2" y1="312.0" x2="1249.3" y2="323.7" stroke="#7d8894" stroke-width="1"/>
<rect x="1249.5" y="309.3" width="5.4" height="5.4" transform="rotate(45 1252.2 312.0)" fill="#22262b"/>
<line x1="1164.2" y1="324.4" x2="1170.5" y2="334.6" stroke="#7d8894" stroke-width="1"/>
<rect x="1161.5" y="321.7" width="5.4" height="5.4" transform="rotate(45 1164.2 324.4)" fill="#22262b"/>
<line x1="1297.6" y1="331.2" x2="1290.2" y2="340.6" stroke="#7d8894" stroke-width="1"/>
<rect x="1294.9" y="328.5" width="5.4" height="5.4" transform="rotate(45 1297.6 331.2)" fill="#22262b"/>
<line x1="1113.4" y1="378.0" x2="1124.5" y2="382.5" stroke="#7d8894" stroke-width="1"/>
<rect x="1110.7" y="375.3" width="5.4" height="5.4" transform="rotate(45 1113.4 378.0)" fill="#22262b"/>
<line x1="1333.3" y1="375.2" x2="1322.3" y2="380.0" stroke="#7d8894" stroke-width="1"/>
<rect x="1330.6" y="372.5" width="5.4" height="5.4" transform="rotate(45 1333.3 375.2)" fill="#22262b"/>
<line x1="1341.6" y1="426.1" x2="1329.6" y2="425.8" stroke="#7d8894" stroke-width="1"/>
<rect x="1338.9" y="423.4" width="5.4" height="5.4" transform="rotate(45 1341.6 426.1)" fill="#22262b"/>
<line x1="1338.8" y1="450.8" x2="1327.1" y2="448.0" stroke="#7d8894" stroke-width="1"/>
<rect x="1336.1" y="448.1" width="5.4" height="5.4" transform="rotate(45 1338.8 450.8)" fill="#22262b"/>
<line x1="1113.4" y1="464.6" x2="1124.6" y2="460.4" stroke="#7d8894" stroke-width="1"/>
<rect x="1110.7" y="461.9" width="5.4" height="5.4" transform="rotate(45 1113.4 464.6)" fill="#22262b"/>
<line x1="1138.1" y1="501.7" x2="1147.0" y2="493.6" stroke="#7d8894" stroke-width="1"/>
<rect x="1135.4" y="499.0" width="5.4" height="5.4" transform="rotate(45 1138.1 501.7)" fill="#22262b"/>
<line x1="1164.2" y1="523.7" x2="1170.4" y2="513.4" stroke="#7d8894" stroke-width="1"/>
<rect x="1161.5" y="521.0" width="5.4" height="5.4" transform="rotate(45 1164.2 523.7)" fill="#22262b"/>
<line x1="1220.6" y1="534.7" x2="1221.1" y2="522.7" stroke="#7d8894" stroke-width="1"/>
<rect x="1217.9" y="532.0" width="5.4" height="5.4" transform="rotate(45 1220.6 534.7)" fill="#22262b"/>
<line x1="1256.3" y1="532.0" x2="1253.0" y2="520.5" stroke="#7d8894" stroke-width="1"/>
<rect x="1253.6" y="529.3" width="5.4" height="5.4" transform="rotate(45 1256.3 532.0)" fill="#22262b"/>
<line x1="1296.2" y1="512.7" x2="1288.7" y2="503.3" stroke="#7d8894" stroke-width="1"/>
<rect x="1293.5" y="510.0" width="5.4" height="5.4" transform="rotate(45 1296.2 512.7)" fill="#22262b"/>
<ellipse cx="1225" cy="423" rx="98" ry="92" fill="#f8f3f0"/>
<line x1="1325.1" y1="423.0" x2="1308.1" y2="423.0" stroke="#cfdcec" stroke-width="1"/><line x1="1303.8" y1="423.0" x2="1288.9" y2="423.0" stroke="#e2e4ee" stroke-width="1"/><line x1="1325.0" y1="426.9" x2="1308.0" y2="426.3" stroke="#cfdcec" stroke-width="1"/><line x1="1303.7" y1="426.1" x2="1288.8" y2="425.5" stroke="#e2e4ee" stroke-width="1"/><line x1="1324.8" y1="430.9" x2="1307.8" y2="429.5" stroke="#cfdcec" stroke-width="1"/><line x1="1303.5" y1="429.2" x2="1288.7" y2="428.0" stroke="#e2e4ee" stroke-width="1"/><line x1="1324.3" y1="434.8" x2="1307.4" y2="432.8" stroke="#cfdcec" stroke-width="1"/><line x1="1303.2" y1="432.3" x2="1288.4" y2="430.5" stroke="#e2e4ee" stroke-width="1"/><line x1="1323.7" y1="438.7" x2="1306.9" y2="436.0" stroke="#cfdcec" stroke-width="1"/><line x1="1302.7" y1="435.3" x2="1288.0" y2="433.0" stroke="#e2e4ee" stroke-width="1"/><line x1="1322.9" y1="442.5" x2="1306.3" y2="439.2" stroke="#cfdcec" stroke-width="1"/><line x1="1302.1" y1="438.4" x2="1287.5" y2="435.5" stroke="#e2e4ee" stroke-width="1"/><line x1="1322.0" y1="446.4" x2="1305.5" y2="442.4" stroke="#cfdcec" stroke-width="1"/><line x1="1301.3" y1="441.4" x2="1286.9" y2="437.9" stroke="#e2e4ee" stroke-width="1"/><line x1="1320.8" y1="450.2" x2="1304.5" y2="445.5" stroke="#cfdcec" stroke-width="1"/><line x1="1300.4" y1="444.4" x2="1286.2" y2="440.3" stroke="#e2e4ee" stroke-width="1"/><line x1="1319.5" y1="453.9" x2="1303.4" y2="448.7" stroke="#cfdcec" stroke-width="1"/><line x1="1299.4" y1="447.3" x2="1285.3" y2="442.7" stroke="#e2e4ee" stroke-width="1"/><line x1="1318.1" y1="457.6" x2="1302.2" y2="451.7" stroke="#cfdcec" stroke-width="1"/><line x1="1298.3" y1="450.2" x2="1284.4" y2="445.1" stroke="#e2e4ee" stroke-width="1"/><line x1="1316.5" y1="461.2" x2="1300.9" y2="454.7" stroke="#cfdcec" stroke-width="1"/><line x1="1297.0" y1="453.1" x2="1283.4" y2="447.4" stroke="#e2e4ee" stroke-width="1"/><line x1="1314.7" y1="464.8" x2="1299.4" y2="457.7" stroke="#cfdcec" stroke-width="1"/><line x1="1295.6" y1="455.9" x2="1282.2" y2="449.7" stroke="#e2e4ee" stroke-width="1"/><line x1="1312.7" y1="468.3" x2="1297.8" y2="460.6" stroke="#cfdcec" stroke-width="1"/><line x1="1294.1" y1="458.6" x2="1281.0" y2="451.9" stroke="#e2e4ee" stroke-width="1"/><line x1="1310.6" y1="471.7" x2="1296.1" y2="463.4" stroke="#cfdcec" stroke-width="1"/><line x1="1292.4" y1="461.3" x2="1279.7" y2="454.1" stroke="#e2e4ee" stroke-width="1"/><line x1="1308.4" y1="475.0" x2="1294.2" y2="466.2" stroke="#cfdcec" stroke-width="1"/><line x1="1290.6" y1="464.0" x2="1278.2" y2="456.2" stroke="#e2e4ee" stroke-width="1"/><line x1="1306.0" y1="478.3" x2="1292.2" y2="468.8" stroke="#cfdcec" stroke-width="1"/><line x1="1288.8" y1="466.5" x2="1276.7" y2="458.3" stroke="#e2e4ee" stroke-width="1"/><line x1="1303.5" y1="481.4" x2="1290.1" y2="471.4" stroke="#cfdcec" stroke-width="1"/><line x1="1286.8" y1="469.0" x2="1275.1" y2="460.3" stroke="#e2e4ee" stroke-width="1"/><line x1="1300.8" y1="484.4" x2="1287.9" y2="474.0" stroke="#cfdcec" stroke-width="1"/><line x1="1284.7" y1="471.4" x2="1273.4" y2="462.2" stroke="#e2e4ee" stroke-width="1"/><line x1="1298.0" y1="487.3" x2="1285.6" y2="476.4" stroke="#cfdcec" stroke-width="1"/><line x1="1282.5" y1="473.7" x2="1271.6" y2="464.1" stroke="#e2e4ee" stroke-width="1"/><line x1="1295.0" y1="490.2" x2="1283.1" y2="478.7" stroke="#cfdcec" stroke-width="1"/><line x1="1280.1" y1="475.9" x2="1269.7" y2="465.9" stroke="#e2e4ee" stroke-width="1"/><line x1="1292.0" y1="492.9" x2="1280.6" y2="481.0" stroke="#cfdcec" stroke-width="1"/><line x1="1277.7" y1="478.0" x2="1267.8" y2="467.6" stroke="#e2e4ee" stroke-width="1"/><line x1="1288.8" y1="495.4" x2="1278.0" y2="483.1" stroke="#cfdcec" stroke-width="1"/><line x1="1275.2" y1="480.0" x2="1265.7" y2="469.2" stroke="#e2e4ee" stroke-width="1"/><line x1="1285.5" y1="497.9" x2="1275.2" y2="485.1" stroke="#cfdcec" stroke-width="1"/><line x1="1272.6" y1="481.9" x2="1263.6" y2="470.8" stroke="#e2e4ee" stroke-width="1"/><line x1="1282.1" y1="500.2" x2="1272.4" y2="487.0" stroke="#cfdcec" stroke-width="1"/><line x1="1270.0" y1="483.8" x2="1261.5" y2="472.3" stroke="#e2e4ee" stroke-width="1"/><line x1="1278.6" y1="502.4" x2="1269.5" y2="488.9" stroke="#cfdcec" stroke-width="1"/><line x1="1267.2" y1="485.5" x2="1259.2" y2="473.7" stroke="#e2e4ee" stroke-width="1"/><line x1="1275.1" y1="504.4" x2="1266.5" y2="490.5" stroke="#cfdcec" stroke-width="1"/><line x1="1264.4" y1="487.1" x2="1257.0" y2="475.0" stroke="#e2e4ee" stroke-width="1"/><line x1="1271.4" y1="506.3" x2="1263.5" y2="492.1" stroke="#cfdcec" stroke-width="1"/><line x1="1261.5" y1="488.6" x2="1254.6" y2="476.2" stroke="#e2e4ee" stroke-width="1"/><line x1="1267.6" y1="508.1" x2="1260.4" y2="493.6" stroke="#cfdcec" stroke-width="1"/><line x1="1258.6" y1="490.0" x2="1252.2" y2="477.3" stroke="#e2e4ee" stroke-width="1"/><line x1="1263.8" y1="509.7" x2="1257.2" y2="494.9" stroke="#cfdcec" stroke-width="1"/><line x1="1255.5" y1="491.2" x2="1249.8" y2="478.3" stroke="#e2e4ee" stroke-width="1"/><line x1="1259.9" y1="511.1" x2="1254.0" y2="496.1" stroke="#cfdcec" stroke-width="1"/><line x1="1252.5" y1="492.4" x2="1247.3" y2="479.2" stroke="#e2e4ee" stroke-width="1"/><line x1="1255.9" y1="512.4" x2="1250.7" y2="497.2" stroke="#cfdcec" stroke-width="1"/><line x1="1249.4" y1="493.4" x2="1244.7" y2="480.1" stroke="#e2e4ee" stroke-width="1"/><line x1="1251.9" y1="513.5" x2="1247.3" y2="498.1" stroke="#cfdcec" stroke-width="1"/><line x1="1246.2" y1="494.3" x2="1242.2" y2="480.8" stroke="#e2e4ee" stroke-width="1"/><line x1="1247.9" y1="514.5" x2="1244.0" y2="498.9" stroke="#cfdcec" stroke-width="1"/><line x1="1243.0" y1="495.0" x2="1239.6" y2="481.4" stroke="#e2e4ee" stroke-width="1"/><line x1="1243.8" y1="515.3" x2="1240.6" y2="499.6" stroke="#cfdcec" stroke-width="1"/><line x1="1239.8" y1="495.7" x2="1237.0" y2="481.9" stroke="#e2e4ee" stroke-width="1"/><line x1="1239.6" y1="516.0" x2="1237.1" y2="500.2" stroke="#cfdcec" stroke-width="1"/><line x1="1236.5" y1="496.2" x2="1234.3" y2="482.4" stroke="#e2e4ee" stroke-width="1"/><line x1="1235.5" y1="516.5" x2="1233.7" y2="500.6" stroke="#cfdcec" stroke-width="1"/><line x1="1233.2" y1="496.6" x2="1231.7" y2="482.7" stroke="#e2e4ee" stroke-width="1"/><line x1="1231.3" y1="516.8" x2="1230.2" y2="500.8" stroke="#cfdcec" stroke-width="1"/><line x1="1229.9" y1="496.9" x2="1229.0" y2="482.9" stroke="#e2e4ee" stroke-width="1"/><line x1="1227.1" y1="517.0" x2="1226.7" y2="501.0" stroke="#cfdcec" stroke-width="1"/><line x1="1226.7" y1="497.0" x2="1226.3" y2="483.0" stroke="#e2e4ee" stroke-width="1"/><line x1="1222.9" y1="517.0" x2="1223.3" y2="501.0" stroke="#cfdcec" stroke-width="1"/><line x1="1223.3" y1="497.0" x2="1223.7" y2="483.0" stroke="#e2e4ee" stroke-width="1"/><line x1="1218.7" y1="516.8" x2="1219.8" y2="500.8" stroke="#cfdcec" stroke-width="1"/><line x1="1220.1" y1="496.9" x2="1221.0" y2="482.9" stroke="#e2e4ee" stroke-width="1"/><line x1="1214.5" y1="516.5" x2="1216.3" y2="500.6" stroke="#cfdcec" stroke-width="1"/><line x1="1216.8" y1="496.6" x2="1218.3" y2="482.7" stroke="#e2e4ee" stroke-width="1"/><line x1="1210.4" y1="516.0" x2="1212.9" y2="500.2" stroke="#cfdcec" stroke-width="1"/><line x1="1213.5" y1="496.2" x2="1215.7" y2="482.4" stroke="#e2e4ee" stroke-width="1"/><line x1="1206.2" y1="515.3" x2="1209.4" y2="499.6" stroke="#cfdcec" stroke-width="1"/><line x1="1210.2" y1="495.7" x2="1213.0" y2="481.9" stroke="#e2e4ee" stroke-width="1"/><line x1="1202.1" y1="514.5" x2="1206.0" y2="498.9" stroke="#cfdcec" stroke-width="1"/><line x1="1207.0" y1="495.0" x2="1210.4" y2="481.4" stroke="#e2e4ee" stroke-width="1"/><line x1="1198.1" y1="513.5" x2="1202.7" y2="498.1" stroke="#cfdcec" stroke-width="1"/><line x1="1203.8" y1="494.3" x2="1207.8" y2="480.8" stroke="#e2e4ee" stroke-width="1"/><line x1="1194.1" y1="512.4" x2="1199.3" y2="497.2" stroke="#cfdcec" stroke-width="1"/><line x1="1200.6" y1="493.4" x2="1205.3" y2="480.1" stroke="#e2e4ee" stroke-width="1"/><line x1="1190.1" y1="511.1" x2="1196.0" y2="496.1" stroke="#cfdcec" stroke-width="1"/><line x1="1197.5" y1="492.4" x2="1202.7" y2="479.2" stroke="#e2e4ee" stroke-width="1"/><line x1="1186.2" y1="509.7" x2="1192.8" y2="494.9" stroke="#cfdcec" stroke-width="1"/><line x1="1194.5" y1="491.2" x2="1200.2" y2="478.3" stroke="#e2e4ee" stroke-width="1"/><line x1="1182.4" y1="508.1" x2="1189.6" y2="493.6" stroke="#cfdcec" stroke-width="1"/><line x1="1191.4" y1="490.0" x2="1197.8" y2="477.3" stroke="#e2e4ee" stroke-width="1"/><line x1="1178.6" y1="506.3" x2="1186.5" y2="492.1" stroke="#cfdcec" stroke-width="1"/><line x1="1188.5" y1="488.6" x2="1195.4" y2="476.2" stroke="#e2e4ee" stroke-width="1"/><line x1="1174.9" y1="504.4" x2="1183.5" y2="490.5" stroke="#cfdcec" stroke-width="1"/><line x1="1185.6" y1="487.1" x2="1193.0" y2="475.0" stroke="#e2e4ee" stroke-width="1"/><line x1="1171.4" y1="502.4" x2="1180.5" y2="488.9" stroke="#cfdcec" stroke-width="1"/><line x1="1182.8" y1="485.5" x2="1190.8" y2="473.7" stroke="#e2e4ee" stroke-width="1"/><line x1="1167.9" y1="500.2" x2="1177.6" y2="487.0" stroke="#cfdcec" stroke-width="1"/><line x1="1180.0" y1="483.8" x2="1188.5" y2="472.3" stroke="#e2e4ee" stroke-width="1"/><line x1="1164.5" y1="497.9" x2="1174.8" y2="485.1" stroke="#cfdcec" stroke-width="1"/><line x1="1177.4" y1="481.9" x2="1186.4" y2="470.8" stroke="#e2e4ee" stroke-width="1"/><line x1="1161.2" y1="495.4" x2="1172.0" y2="483.1" stroke="#cfdcec" stroke-width="1"/><line x1="1174.8" y1="480.0" x2="1184.3" y2="469.2" stroke="#e2e4ee" stroke-width="1"/><line x1="1158.0" y1="492.9" x2="1169.4" y2="481.0" stroke="#cfdcec" stroke-width="1"/><line x1="1172.3" y1="478.0" x2="1182.2" y2="467.6" stroke="#e2e4ee" stroke-width="1"/><line x1="1155.0" y1="490.2" x2="1166.9" y2="478.7" stroke="#cfdcec" stroke-width="1"/><line x1="1169.9" y1="475.9" x2="1180.3" y2="465.9" stroke="#e2e4ee" stroke-width="1"/><line x1="1152.0" y1="487.3" x2="1164.4" y2="476.4" stroke="#cfdcec" stroke-width="1"/><line x1="1167.5" y1="473.7" x2="1178.4" y2="464.1" stroke="#e2e4ee" stroke-width="1"/><line x1="1149.2" y1="484.4" x2="1162.1" y2="474.0" stroke="#cfdcec" stroke-width="1"/><line x1="1165.3" y1="471.4" x2="1176.6" y2="462.2" stroke="#e2e4ee" stroke-width="1"/><line x1="1146.5" y1="481.4" x2="1159.9" y2="471.4" stroke="#cfdcec" stroke-width="1"/><line x1="1163.2" y1="469.0" x2="1174.9" y2="460.3" stroke="#e2e4ee" stroke-width="1"/><line x1="1144.0" y1="478.3" x2="1157.8" y2="468.8" stroke="#cfdcec" stroke-width="1"/><line x1="1161.2" y1="466.5" x2="1173.3" y2="458.3" stroke="#e2e4ee" stroke-width="1"/><line x1="1141.6" y1="475.0" x2="1155.8" y2="466.2" stroke="#cfdcec" stroke-width="1"/><line x1="1159.4" y1="464.0" x2="1171.8" y2="456.2" stroke="#e2e4ee" stroke-width="1"/><line x1="1139.4" y1="471.7" x2="1153.9" y2="463.4" stroke="#cfdcec" stroke-width="1"/><line x1="1157.6" y1="461.3" x2="1170.3" y2="454.1" stroke="#e2e4ee" stroke-width="1"/><line x1="1137.3" y1="468.3" x2="1152.2" y2="460.6" stroke="#cfdcec" stroke-width="1"/><line x1="1155.9" y1="458.6" x2="1169.0" y2="451.9" stroke="#e2e4ee" stroke-width="1"/><line x1="1135.3" y1="464.8" x2="1150.6" y2="457.7" stroke="#cfdcec" stroke-width="1"/><line x1="1154.4" y1="455.9" x2="1167.8" y2="449.7" stroke="#e2e4ee" stroke-width="1"/><line x1="1133.5" y1="461.2" x2="1149.1" y2="454.7" stroke="#cfdcec" stroke-width="1"/><line x1="1153.0" y1="453.1" x2="1166.6" y2="447.4" stroke="#e2e4ee" stroke-width="1"/><line x1="1131.9" y1="457.6" x2="1147.8" y2="451.7" stroke="#cfdcec" stroke-width="1"/><line x1="1151.7" y1="450.2" x2="1165.6" y2="445.1" stroke="#e2e4ee" stroke-width="1"/><line x1="1130.5" y1="453.9" x2="1146.6" y2="448.7" stroke="#cfdcec" stroke-width="1"/><line x1="1150.6" y1="447.3" x2="1164.7" y2="442.7" stroke="#e2e4ee" stroke-width="1"/><line x1="1129.2" y1="450.2" x2="1145.5" y2="445.5" stroke="#cfdcec" stroke-width="1"/><line x1="1149.6" y1="444.4" x2="1163.8" y2="440.3" stroke="#e2e4ee" stroke-width="1"/><line x1="1128.0" y1="446.4" x2="1144.5" y2="442.4" stroke="#cfdcec" stroke-width="1"/><line x1="1148.7" y1="441.4" x2="1163.1" y2="437.9" stroke="#e2e4ee" stroke-width="1"/><line x1="1127.1" y1="442.5" x2="1143.7" y2="439.2" stroke="#cfdcec" stroke-width="1"/><line x1="1147.9" y1="438.4" x2="1162.5" y2="435.5" stroke="#e2e4ee" stroke-width="1"/><line x1="1126.3" y1="438.7" x2="1143.1" y2="436.0" stroke="#cfdcec" stroke-width="1"/><line x1="1147.3" y1="435.3" x2="1162.0" y2="433.0" stroke="#e2e4ee" stroke-width="1"/><line x1="1125.7" y1="434.8" x2="1142.6" y2="432.8" stroke="#cfdcec" stroke-width="1"/><line x1="1146.8" y1="432.3" x2="1161.6" y2="430.5" stroke="#e2e4ee" stroke-width="1"/><line x1="1125.2" y1="430.9" x2="1142.2" y2="429.5" stroke="#cfdcec" stroke-width="1"/><line x1="1146.5" y1="429.2" x2="1161.3" y2="428.0" stroke="#e2e4ee" stroke-width="1"/><line x1="1125.0" y1="426.9" x2="1142.0" y2="426.3" stroke="#cfdcec" stroke-width="1"/><line x1="1146.3" y1="426.1" x2="1161.2" y2="425.5" stroke="#e2e4ee" stroke-width="1"/><line x1="1124.9" y1="423.0" x2="1141.9" y2="423.0" stroke="#cfdcec" stroke-width="1"/><line x1="1146.2" y1="423.0" x2="1161.1" y2="423.0" stroke="#e2e4ee" stroke-width="1"/><line x1="1125.0" y1="419.1" x2="1142.0" y2="419.7" stroke="#cfdcec" stroke-width="1"/><line x1="1146.3" y1="419.9" x2="1161.2" y2="420.5" stroke="#e2e4ee" stroke-width="1"/><line x1="1125.2" y1="415.1" x2="1142.2" y2="416.5" stroke="#cfdcec" stroke-width="1"/><line x1="1146.5" y1="416.8" x2="1161.3" y2="418.0" stroke="#e2e4ee" stroke-width="1"/><line x1="1125.7" y1="411.2" x2="1142.6" y2="413.2" stroke="#cfdcec" stroke-width="1"/><line x1="1146.8" y1="413.7" x2="1161.6" y2="415.5" stroke="#e2e4ee" stroke-width="1"/><line x1="1126.3" y1="407.3" x2="1143.1" y2="410.0" stroke="#cfdcec" stroke-width="1"/><line x1="1147.3" y1="410.7" x2="1162.0" y2="413.0" stroke="#e2e4ee" stroke-width="1"/><line x1="1127.1" y1="403.5" x2="1143.7" y2="406.8" stroke="#cfdcec" stroke-width="1"/><line x1="1147.9" y1="407.6" x2="1162.5" y2="410.5" stroke="#e2e4ee" stroke-width="1"/><line x1="1128.0" y1="399.6" x2="1144.5" y2="403.6" stroke="#cfdcec" stroke-width="1"/><line x1="1148.7" y1="404.6" x2="1163.1" y2="408.1" stroke="#e2e4ee" stroke-width="1"/><line x1="1129.2" y1="395.8" x2="1145.5" y2="400.5" stroke="#cfdcec" stroke-width="1"/><line x1="1149.6" y1="401.6" x2="1163.8" y2="405.7" stroke="#e2e4ee" stroke-width="1"/><line x1="1130.5" y1="392.1" x2="1146.6" y2="397.3" stroke="#cfdcec" stroke-width="1"/><line x1="1150.6" y1="398.7" x2="1164.7" y2="403.3" stroke="#e2e4ee" stroke-width="1"/><line x1="1131.9" y1="388.4" x2="1147.8" y2="394.3" stroke="#cfdcec" stroke-width="1"/><line x1="1151.7" y1="395.8" x2="1165.6" y2="400.9" stroke="#e2e4ee" stroke-width="1"/><line x1="1133.5" y1="384.8" x2="1149.1" y2="391.3" stroke="#cfdcec" stroke-width="1"/><line x1="1153.0" y1="392.9" x2="1166.6" y2="398.6" stroke="#e2e4ee" stroke-width="1"/><line x1="1135.3" y1="381.2" x2="1150.6" y2="388.3" stroke="#cfdcec" stroke-width="1"/><line x1="1154.4" y1="390.1" x2="1167.8" y2="396.3" stroke="#e2e4ee" stroke-width="1"/><line x1="1137.3" y1="377.7" x2="1152.2" y2="385.4" stroke="#cfdcec" stroke-width="1"/><line x1="1155.9" y1="387.4" x2="1169.0" y2="394.1" stroke="#e2e4ee" stroke-width="1"/><line x1="1139.4" y1="374.3" x2="1153.9" y2="382.6" stroke="#cfdcec" stroke-width="1"/><line x1="1157.6" y1="384.7" x2="1170.3" y2="391.9" stroke="#e2e4ee" stroke-width="1"/><line x1="1141.6" y1="371.0" x2="1155.8" y2="379.8" stroke="#cfdcec" stroke-width="1"/><line x1="1159.4" y1="382.0" x2="1171.8" y2="389.8" stroke="#e2e4ee" stroke-width="1"/><line x1="1144.0" y1="367.7" x2="1157.8" y2="377.2" stroke="#cfdcec" stroke-width="1"/><line x1="1161.2" y1="379.5" x2="1173.3" y2="387.7" stroke="#e2e4ee" stroke-width="1"/><line x1="1146.5" y1="364.6" x2="1159.9" y2="374.6" stroke="#cfdcec" stroke-width="1"/><line x1="1163.2" y1="377.0" x2="1174.9" y2="385.7" stroke="#e2e4ee" stroke-width="1"/><line x1="1149.2" y1="361.6" x2="1162.1" y2="372.0" stroke="#cfdcec" stroke-width="1"/><line x1="1165.3" y1="374.6" x2="1176.6" y2="383.8" stroke="#e2e4ee" stroke-width="1"/><line x1="1152.0" y1="358.7" x2="1164.4" y2="369.6" stroke="#cfdcec" stroke-width="1"/><line x1="1167.5" y1="372.3" x2="1178.4" y2="381.9" stroke="#e2e4ee" stroke-width="1"/><line x1="1155.0" y1="355.8" x2="1166.9" y2="367.3" stroke="#cfdcec" stroke-width="1"/><line x1="1169.9" y1="370.1" x2="1180.3" y2="380.1" stroke="#e2e4ee" stroke-width="1"/><line x1="1158.0" y1="353.1" x2="1169.4" y2="365.0" stroke="#cfdcec" stroke-width="1"/><line x1="1172.3" y1="368.0" x2="1182.2" y2="378.4" stroke="#e2e4ee" stroke-width="1"/><line x1="1161.2" y1="350.6" x2="1172.0" y2="362.9" stroke="#cfdcec" stroke-width="1"/><line x1="1174.8" y1="366.0" x2="1184.3" y2="376.8" stroke="#e2e4ee" stroke-width="1"/><line x1="1164.5" y1="348.1" x2="1174.8" y2="360.9" stroke="#cfdcec" stroke-width="1"/><line x1="1177.4" y1="364.1" x2="1186.4" y2="375.2" stroke="#e2e4ee" stroke-width="1"/><line x1="1167.9" y1="345.8" x2="1177.6" y2="359.0" stroke="#cfdcec" stroke-width="1"/><line x1="1180.0" y1="362.2" x2="1188.5" y2="373.7" stroke="#e2e4ee" stroke-width="1"/><line x1="1171.4" y1="343.6" x2="1180.5" y2="357.1" stroke="#cfdcec" stroke-width="1"/><line x1="1182.8" y1="360.5" x2="1190.8" y2="372.3" stroke="#e2e4ee" stroke-width="1"/><line x1="1174.9" y1="341.6" x2="1183.5" y2="355.5" stroke="#cfdcec" stroke-width="1"/><line x1="1185.6" y1="358.9" x2="1193.0" y2="371.0" stroke="#e2e4ee" stroke-width="1"/><line x1="1178.6" y1="339.7" x2="1186.5" y2="353.9" stroke="#cfdcec" stroke-width="1"/><line x1="1188.5" y1="357.4" x2="1195.4" y2="369.8" stroke="#e2e4ee" stroke-width="1"/><line x1="1182.4" y1="337.9" x2="1189.6" y2="352.4" stroke="#cfdcec" stroke-width="1"/><line x1="1191.4" y1="356.0" x2="1197.8" y2="368.7" stroke="#e2e4ee" stroke-width="1"/><line x1="1186.2" y1="336.3" x2="1192.8" y2="351.1" stroke="#cfdcec" stroke-width="1"/><line x1="1194.5" y1="354.8" x2="1200.2" y2="367.7" stroke="#e2e4ee" stroke-width="1"/><line x1="1190.1" y1="334.9" x2="1196.0" y2="349.9" stroke="#cfdcec" stroke-width="1"/><line x1="1197.5" y1="353.6" x2="1202.7" y2="366.8" stroke="#e2e4ee" stroke-width="1"/><line x1="1194.1" y1="333.6" x2="1199.3" y2="348.8" stroke="#cfdcec" stroke-width="1"/><line x1="1200.6" y1="352.6" x2="1205.3" y2="365.9" stroke="#e2e4ee" stroke-width="1"/><line x1="1198.1" y1="332.5" x2="1202.7" y2="347.9" stroke="#cfdcec" stroke-width="1"/><line x1="1203.8" y1="351.7" x2="1207.8" y2="365.2" stroke="#e2e4ee" stroke-width="1"/><line x1="1202.1" y1="331.5" x2="1206.0" y2="347.1" stroke="#cfdcec" stroke-width="1"/><line x1="1207.0" y1="351.0" x2="1210.4" y2="364.6" stroke="#e2e4ee" stroke-width="1"/><line x1="1206.2" y1="330.7" x2="1209.4" y2="346.4" stroke="#cfdcec" stroke-width="1"/><line x1="1210.2" y1="350.3" x2="1213.0" y2="364.1" stroke="#e2e4ee" stroke-width="1"/><line x1="1210.4" y1="330.0" x2="1212.9" y2="345.8" stroke="#cfdcec" stroke-width="1"/><line x1="1213.5" y1="349.8" x2="1215.7" y2="363.6" stroke="#e2e4ee" stroke-width="1"/><line x1="1214.5" y1="329.5" x2="1216.3" y2="345.4" stroke="#cfdcec" stroke-width="1"/><line x1="1216.8" y1="349.4" x2="1218.3" y2="363.3" stroke="#e2e4ee" stroke-width="1"/><line x1="1218.7" y1="329.2" x2="1219.8" y2="345.2" stroke="#cfdcec" stroke-width="1"/><line x1="1220.1" y1="349.1" x2="1221.0" y2="363.1" stroke="#e2e4ee" stroke-width="1"/><line x1="1222.9" y1="329.0" x2="1223.3" y2="345.0" stroke="#cfdcec" stroke-width="1"/><line x1="1223.3" y1="349.0" x2="1223.7" y2="363.0" stroke="#e2e4ee" stroke-width="1"/><line x1="1227.1" y1="329.0" x2="1226.7" y2="345.0" stroke="#cfdcec" stroke-width="1"/><line x1="1226.7" y1="349.0" x2="1226.3" y2="363.0" stroke="#e2e4ee" stroke-width="1"/><line x1="1231.3" y1="329.2" x2="1230.2" y2="345.2" stroke="#cfdcec" stroke-width="1"/><line x1="1229.9" y1="349.1" x2="1229.0" y2="363.1" stroke="#e2e4ee" stroke-width="1"/><line x1="1235.5" y1="329.5" x2="1233.7" y2="345.4" stroke="#cfdcec" stroke-width="1"/><line x1="1233.2" y1="349.4" x2="1231.7" y2="363.3" stroke="#e2e4ee" stroke-width="1"/><line x1="1239.6" y1="330.0" x2="1237.1" y2="345.8" stroke="#cfdcec" stroke-width="1"/><line x1="1236.5" y1="349.8" x2="1234.3" y2="363.6" stroke="#e2e4ee" stroke-width="1"/><line x1="1243.8" y1="330.7" x2="1240.6" y2="346.4" stroke="#cfdcec" stroke-width="1"/><line x1="1239.8" y1="350.3" x2="1237.0" y2="364.1" stroke="#e2e4ee" stroke-width="1"/><line x1="1247.9" y1="331.5" x2="1244.0" y2="347.1" stroke="#cfdcec" stroke-width="1"/><line x1="1243.0" y1="351.0" x2="1239.6" y2="364.6" stroke="#e2e4ee" stroke-width="1"/><line x1="1251.9" y1="332.5" x2="1247.3" y2="347.9" stroke="#cfdcec" stroke-width="1"/><line x1="1246.2" y1="351.7" x2="1242.2" y2="365.2" stroke="#e2e4ee" stroke-width="1"/><line x1="1255.9" y1="333.6" x2="1250.7" y2="348.8" stroke="#cfdcec" stroke-width="1"/><line x1="1249.4" y1="352.6" x2="1244.7" y2="365.9" stroke="#e2e4ee" stroke-width="1"/><line x1="1259.9" y1="334.9" x2="1254.0" y2="349.9" stroke="#cfdcec" stroke-width="1"/><line x1="1252.5" y1="353.6" x2="1247.3" y2="366.8" stroke="#e2e4ee" stroke-width="1"/><line x1="1263.8" y1="336.3" x2="1257.2" y2="351.1" stroke="#cfdcec" stroke-width="1"/><line x1="1255.5" y1="354.8" x2="1249.8" y2="367.7" stroke="#e2e4ee" stroke-width="1"/><line x1="1267.6" y1="337.9" x2="1260.4" y2="352.4" stroke="#cfdcec" stroke-width="1"/><line x1="1258.6" y1="356.0" x2="1252.2" y2="368.7" stroke="#e2e4ee" stroke-width="1"/><line x1="1271.4" y1="339.7" x2="1263.5" y2="353.9" stroke="#cfdcec" stroke-width="1"/><line x1="1261.5" y1="357.4" x2="1254.6" y2="369.8" stroke="#e2e4ee" stroke-width="1"/><line x1="1275.1" y1="341.6" x2="1266.5" y2="355.5" stroke="#cfdcec" stroke-width="1"/><line x1="1264.4" y1="358.9" x2="1257.0" y2="371.0" stroke="#e2e4ee" stroke-width="1"/><line x1="1278.6" y1="343.6" x2="1269.5" y2="357.1" stroke="#cfdcec" stroke-width="1"/><line x1="1267.2" y1="360.5" x2="1259.2" y2="372.3" stroke="#e2e4ee" stroke-width="1"/><line x1="1282.1" y1="345.8" x2="1272.4" y2="359.0" stroke="#cfdcec" stroke-width="1"/><line x1="1270.0" y1="362.2" x2="1261.5" y2="373.7" stroke="#e2e4ee" stroke-width="1"/><line x1="1285.5" y1="348.1" x2="1275.2" y2="360.9" stroke="#cfdcec" stroke-width="1"/><line x1="1272.6" y1="364.1" x2="1263.6" y2="375.2" stroke="#e2e4ee" stroke-width="1"/><line x1="1288.8" y1="350.6" x2="1278.0" y2="362.9" stroke="#cfdcec" stroke-width="1"/><line x1="1275.2" y1="366.0" x2="1265.7" y2="376.8" stroke="#e2e4ee" stroke-width="1"/><line x1="1292.0" y1="353.1" x2="1280.6" y2="365.0" stroke="#cfdcec" stroke-width="1"/><line x1="1277.7" y1="368.0" x2="1267.8" y2="378.4" stroke="#e2e4ee" stroke-width="1"/><line x1="1295.0" y1="355.8" x2="1283.1" y2="367.3" stroke="#cfdcec" stroke-width="1"/><line x1="1280.1" y1="370.1" x2="1269.7" y2="380.1" stroke="#e2e4ee" stroke-width="1"/><line x1="1298.0" y1="358.7" x2="1285.6" y2="369.6" stroke="#cfdcec" stroke-width="1"/><line x1="1282.5" y1="372.3" x2="1271.6" y2="381.9" stroke="#e2e4ee" stroke-width="1"/><line x1="1300.8" y1="361.6" x2="1287.9" y2="372.0" stroke="#cfdcec" stroke-width="1"/><line x1="1284.7" y1="374.6" x2="1273.4" y2="383.8" stroke="#e2e4ee" stroke-width="1"/><line x1="1303.5" y1="364.6" x2="1290.1" y2="374.6" stroke="#cfdcec" stroke-width="1"/><line x1="1286.8" y1="377.0" x2="1275.1" y2="385.7" stroke="#e2e4ee" stroke-width="1"/><line x1="1306.0" y1="367.7" x2="1292.2" y2="377.2" stroke="#cfdcec" stroke-width="1"/><line x1="1288.8" y1="379.5" x2="1276.7" y2="387.7" stroke="#e2e4ee" stroke-width="1"/><line x1="1308.4" y1="371.0" x2="1294.2" y2="379.8" stroke="#cfdcec" stroke-width="1"/><line x1="1290.6" y1="382.0" x2="1278.2" y2="389.8" stroke="#e2e4ee" stroke-width="1"/><line x1="1310.6" y1="374.3" x2="1296.1" y2="382.6" stroke="#cfdcec" stroke-width="1"/><line x1="1292.4" y1="384.7" x2="1279.7" y2="391.9" stroke="#e2e4ee" stroke-width="1"/><line x1="1312.7" y1="377.7" x2="1297.8" y2="385.4" stroke="#cfdcec" stroke-width="1"/><line x1="1294.1" y1="387.4" x2="1281.0" y2="394.1" stroke="#e2e4ee" stroke-width="1"/><line x1="1314.7" y1="381.2" x2="1299.4" y2="388.3" stroke="#cfdcec" stroke-width="1"/><line x1="1295.6" y1="390.1" x2="1282.2" y2="396.3" stroke="#e2e4ee" stroke-width="1"/><line x1="1316.5" y1="384.8" x2="1300.9" y2="391.3" stroke="#cfdcec" stroke-width="1"/><line x1="1297.0" y1="392.9" x2="1283.4" y2="398.6" stroke="#e2e4ee" stroke-width="1"/><line x1="1318.1" y1="388.4" x2="1302.2" y2="394.3" stroke="#cfdcec" stroke-width="1"/><line x1="1298.3" y1="395.8" x2="1284.4" y2="400.9" stroke="#e2e4ee" stroke-width="1"/><line x1="1319.5" y1="392.1" x2="1303.4" y2="397.3" stroke="#cfdcec" stroke-width="1"/><line x1="1299.4" y1="398.7" x2="1285.3" y2="403.3" stroke="#e2e4ee" stroke-width="1"/><line x1="1320.8" y1="395.8" x2="1304.5" y2="400.5" stroke="#cfdcec" stroke-width="1"/><line x1="1300.4" y1="401.6" x2="1286.2" y2="405.7" stroke="#e2e4ee" stroke-width="1"/><line x1="1322.0" y1="399.6" x2="1305.5" y2="403.6" stroke="#cfdcec" stroke-width="1"/><line x1="1301.3" y1="404.6" x2="1286.9" y2="408.1" stroke="#e2e4ee" stroke-width="1"/><line x1="1322.9" y1="403.5" x2="1306.3" y2="406.8" stroke="#cfdcec" stroke-width="1"/><line x1="1302.1" y1="407.6" x2="1287.5" y2="410.5" stroke="#e2e4ee" stroke-width="1"/><line x1="1323.7" y1="407.3" x2="1306.9" y2="410.0" stroke="#cfdcec" stroke-width="1"/><line x1="1302.7" y1="410.7" x2="1288.0" y2="413.0" stroke="#e2e4ee" stroke-width="1"/><line x1="1324.3" y1="411.2" x2="1307.4" y2="413.2" stroke="#cfdcec" stroke-width="1"/><line x1="1303.2" y1="413.7" x2="1288.4" y2="415.5" stroke="#e2e4ee" stroke-width="1"/><line x1="1324.8" y1="415.1" x2="1307.8" y2="416.5" stroke="#cfdcec" stroke-width="1"/><line x1="1303.5" y1="416.8" x2="1288.7" y2="418.0" stroke="#e2e4ee" stroke-width="1"/><line x1="1325.0" y1="419.1" x2="1308.0" y2="419.7" stroke="#cfdcec" stroke-width="1"/><line x1="1303.7" y1="419.9" x2="1288.8" y2="420.5" stroke="#e2e4ee" stroke-width="1"/>
<circle cx="1324.0" cy="423.0" r="3.9" fill="#416c9c" stroke="#2e5683" stroke-width="0.7"/><circle cx="1323.5" cy="432.1" r="3.9" fill="#416c9c" stroke="#2e5683" stroke-width="0.7"/><circle cx="1322.1" cy="441.0" r="3.9" fill="#416c9c" stroke="#2e5683" stroke-width="0.7"/><circle cx="1319.7" cy="449.9" r="3.9" fill="#416c9c" stroke="#2e5683" stroke-width="0.7"/><circle cx="1316.5" cy="458.4" r="3.9" fill="#416c9c" stroke="#2e5683" stroke-width="0.7"/><circle cx="1312.3" cy="466.6" r="3.9" fill="#1f7d2c" stroke="#165c20" stroke-width="0.7"/><circle cx="1307.3" cy="474.4" r="3.9" fill="#416c9c" stroke="#2e5683" stroke-width="0.7"/><circle cx="1301.5" cy="481.7" r="3.9" fill="#416c9c" stroke="#2e5683" stroke-width="0.7"/><circle cx="1295.0" cy="488.4" r="3.9" fill="#416c9c" stroke="#2e5683" stroke-width="0.7"/><circle cx="1287.8" cy="494.5" r="3.9" fill="#416c9c" stroke="#2e5683" stroke-width="0.7"/><circle cx="1280.0" cy="499.9" r="3.9" fill="#416c9c" stroke="#2e5683" stroke-width="0.7"/><circle cx="1271.7" cy="504.6" r="3.9" fill="#416c9c" stroke="#2e5683" stroke-width="0.7"/><circle cx="1262.9" cy="508.5" r="3.9" fill="#416c9c" stroke="#2e5683" stroke-width="0.7"/><circle cx="1253.7" cy="511.5" r="3.9" fill="#1f7d2c" stroke="#165c20" stroke-width="0.7"/><circle cx="1244.3" cy="513.7" r="3.9" fill="#416c9c" stroke="#2e5683" stroke-width="0.7"/><circle cx="1234.7" cy="515.1" r="3.9" fill="#416c9c" stroke="#2e5683" stroke-width="0.7"/><circle cx="1225.0" cy="515.5" r="3.9" fill="#416c9c" stroke="#2e5683" stroke-width="0.7"/><circle cx="1215.3" cy="515.1" r="3.9" fill="#416c9c" stroke="#2e5683" stroke-width="0.7"/><circle cx="1205.7" cy="513.7" r="3.9" fill="#416c9c" stroke="#2e5683" stroke-width="0.7"/><circle cx="1196.3" cy="511.5" r="3.9" fill="#416c9c" stroke="#2e5683" stroke-width="0.7"/><circle cx="1187.1" cy="508.5" r="3.9" fill="#416c9c" stroke="#2e5683" stroke-width="0.7"/><circle cx="1178.3" cy="504.6" r="3.9" fill="#1f7d2c" stroke="#165c20" stroke-width="0.7"/><circle cx="1170.0" cy="499.9" r="3.9" fill="#416c9c" stroke="#2e5683" stroke-width="0.7"/><circle cx="1162.2" cy="494.5" r="3.9" fill="#416c9c" stroke="#2e5683" stroke-width="0.7"/><circle cx="1155.0" cy="488.4" r="3.9" fill="#416c9c" stroke="#2e5683" stroke-width="0.7"/><circle cx="1148.5" cy="481.7" r="3.9" fill="#416c9c" stroke="#2e5683" stroke-width="0.7"/><circle cx="1142.7" cy="474.4" r="3.9" fill="#416c9c" stroke="#2e5683" stroke-width="0.7"/><circle cx="1137.7" cy="466.6" r="3.9" fill="#416c9c" stroke="#2e5683" stroke-width="0.7"/><circle cx="1133.5" cy="458.4" r="3.9" fill="#416c9c" stroke="#2e5683" stroke-width="0.7"/><circle cx="1130.3" cy="449.9" r="3.9" fill="#1f7d2c" stroke="#165c20" stroke-width="0.7"/><circle cx="1127.9" cy="441.0" r="3.9" fill="#416c9c" stroke="#2e5683" stroke-width="0.7"/><circle cx="1126.5" cy="432.1" r="3.9" fill="#416c9c" stroke="#2e5683" stroke-width="0.7"/><circle cx="1126.0" cy="423.0" r="3.9" fill="#416c9c" stroke="#2e5683" stroke-width="0.7"/><circle cx="1126.5" cy="413.9" r="3.9" fill="#416c9c" stroke="#2e5683" stroke-width="0.7"/><circle cx="1127.9" cy="405.0" r="3.9" fill="#416c9c" stroke="#2e5683" stroke-width="0.7"/><circle cx="1130.3" cy="396.1" r="3.9" fill="#416c9c" stroke="#2e5683" stroke-width="0.7"/><circle cx="1133.5" cy="387.6" r="3.9" fill="#416c9c" stroke="#2e5683" stroke-width="0.7"/><circle cx="1137.7" cy="379.4" r="3.9" fill="#1f7d2c" stroke="#165c20" stroke-width="0.7"/><circle cx="1142.7" cy="371.6" r="3.9" fill="#416c9c" stroke="#2e5683" stroke-width="0.7"/><circle cx="1148.5" cy="364.3" r="3.9" fill="#416c9c" stroke="#2e5683" stroke-width="0.7"/><circle cx="1155.0" cy="357.6" r="3.9" fill="#416c9c" stroke="#2e5683" stroke-width="0.7"/><circle cx="1162.2" cy="351.5" r="3.9" fill="#416c9c" stroke="#2e5683" stroke-width="0.7"/><circle cx="1170.0" cy="346.1" r="3.9" fill="#416c9c" stroke="#2e5683" stroke-width="0.7"/><circle cx="1178.3" cy="341.4" r="3.9" fill="#416c9c" stroke="#2e5683" stroke-width="0.7"/><circle cx="1187.1" cy="337.5" r="3.9" fill="#416c9c" stroke="#2e5683" stroke-width="0.7"/><circle cx="1196.3" cy="334.5" r="3.9" fill="#1f7d2c" stroke="#165c20" stroke-width="0.7"/><circle cx="1205.7" cy="332.3" r="3.9" fill="#416c9c" stroke="#2e5683" stroke-width="0.7"/><circle cx="1215.3" cy="330.9" r="3.9" fill="#416c9c" stroke="#2e5683" stroke-width="0.7"/><circle cx="1225.0" cy="330.5" r="3.9" fill="#416c9c" stroke="#2e5683" stroke-width="0.7"/><circle cx="1234.7" cy="330.9" r="3.9" fill="#416c9c" stroke="#2e5683" stroke-width="0.7"/><circle cx="1244.3" cy="332.3" r="3.9" fill="#416c9c" stroke="#2e5683" stroke-width="0.7"/><circle cx="1253.7" cy="334.5" r="3.9" fill="#416c9c" stroke="#2e5683" stroke-width="0.7"/><circle cx="1262.9" cy="337.5" r="3.9" fill="#416c9c" stroke="#2e5683" stroke-width="0.7"/><circle cx="1271.7" cy="341.4" r="3.9" fill="#1f7d2c" stroke="#165c20" stroke-width="0.7"/><circle cx="1280.0" cy="346.1" r="3.9" fill="#416c9c" stroke="#2e5683" stroke-width="0.7"/><circle cx="1287.8" cy="351.5" r="3.9" fill="#416c9c" stroke="#2e5683" stroke-width="0.7"/><circle cx="1295.0" cy="357.6" r="3.9" fill="#416c9c" stroke="#2e5683" stroke-width="0.7"/><circle cx="1301.5" cy="364.3" r="3.9" fill="#416c9c" stroke="#2e5683" stroke-width="0.7"/><circle cx="1307.3" cy="371.6" r="3.9" fill="#416c9c" stroke="#2e5683" stroke-width="0.7"/><circle cx="1312.3" cy="379.4" r="3.9" fill="#416c9c" stroke="#2e5683" stroke-width="0.7"/><circle cx="1316.5" cy="387.6" r="3.9" fill="#416c9c" stroke="#2e5683" stroke-width="0.7"/><circle cx="1319.7" cy="396.1" r="3.9" fill="#1f7d2c" stroke="#165c20" stroke-width="0.7"/><circle cx="1322.1" cy="405.0" r="3.9" fill="#416c9c" stroke="#2e5683" stroke-width="0.7"/><circle cx="1323.5" cy="413.9" r="3.9" fill="#416c9c" stroke="#2e5683" stroke-width="0.7"/>
<circle cx="1234.2" cy="364.2" r="3.7" fill="#c8912c" stroke="#9a6e1e" stroke-width="0.7"/><circle cx="1231.4" cy="369.9" r="3.7" fill="#c8912c" stroke="#9a6e1e" stroke-width="0.7"/><circle cx="1224.7" cy="372.2" r="3.7" fill="#1f7d2c" stroke="#165c20" stroke-width="0.7"/><circle cx="1218.0" cy="369.9" r="3.7" fill="#c8912c" stroke="#9a6e1e" stroke-width="0.7"/><circle cx="1215.2" cy="364.2" r="3.7" fill="#c8912c" stroke="#9a6e1e" stroke-width="0.7"/><circle cx="1218.0" cy="358.5" r="3.7" fill="#1f7d2c" stroke="#165c20" stroke-width="0.7"/><circle cx="1224.7" cy="356.2" r="3.7" fill="#c8912c" stroke="#9a6e1e" stroke-width="0.7"/><circle cx="1231.4" cy="358.5" r="3.7" fill="#c8912c" stroke="#9a6e1e" stroke-width="0.7"/>
<line x1="1177.8" y1="378.9" x2="1200.2" y2="390.9" stroke="#c9b7bb" stroke-width="2.6" stroke-dasharray="2.2 0.8"/><circle cx="1206.2" cy="394.1" r="3.7" fill="#c8912c" stroke="#9a6e1e" stroke-width="0.7"/><circle cx="1201.9" cy="398.1" r="3.7" fill="#c8912c" stroke="#9a6e1e" stroke-width="0.7"/><circle cx="1195.0" cy="399.4" r="3.7" fill="#c8912c" stroke="#9a6e1e" stroke-width="0.7"/><circle cx="1187.0" cy="398.0" r="3.7" fill="#c8912c" stroke="#9a6e1e" stroke-width="0.7"/><circle cx="1179.3" cy="393.9" r="3.7" fill="#1f7d2c" stroke="#165c20" stroke-width="0.7"/><circle cx="1173.6" cy="388.0" r="3.7" fill="#c8912c" stroke="#9a6e1e" stroke-width="0.7"/><circle cx="1170.9" cy="381.6" r="3.7" fill="#c8912c" stroke="#9a6e1e" stroke-width="0.7"/><circle cx="1171.8" cy="375.7" r="3.7" fill="#c8912c" stroke="#9a6e1e" stroke-width="0.7"/><circle cx="1176.1" cy="371.7" r="3.7" fill="#c8912c" stroke="#9a6e1e" stroke-width="0.7"/><circle cx="1183.0" cy="370.4" r="3.7" fill="#c8912c" stroke="#9a6e1e" stroke-width="0.7"/><circle cx="1191.0" cy="371.8" r="3.7" fill="#c8912c" stroke="#9a6e1e" stroke-width="0.7"/><circle cx="1198.7" cy="375.9" r="3.7" fill="#1f7d2c" stroke="#165c20" stroke-width="0.7"/><circle cx="1204.4" cy="381.8" r="3.7" fill="#c8912c" stroke="#9a6e1e" stroke-width="0.7"/><circle cx="1207.1" cy="388.2" r="3.7" fill="#c8912c" stroke="#9a6e1e" stroke-width="0.7"/>
<line x1="1247.8" y1="390.9" x2="1270.2" y2="378.9" stroke="#c9b7bb" stroke-width="2.6" stroke-dasharray="2.2 0.8"/><circle cx="1276.2" cy="375.7" r="3.7" fill="#c8912c" stroke="#9a6e1e" stroke-width="0.7"/><circle cx="1277.1" cy="381.6" r="3.7" fill="#c8912c" stroke="#9a6e1e" stroke-width="0.7"/><circle cx="1274.4" cy="388.0" r="3.7" fill="#c8912c" stroke="#9a6e1e" stroke-width="0.7"/><circle cx="1268.7" cy="393.9" r="3.7" fill="#1f7d2c" stroke="#165c20" stroke-width="0.7"/><circle cx="1261.0" cy="398.0" r="3.7" fill="#c8912c" stroke="#9a6e1e" stroke-width="0.7"/><circle cx="1253.0" cy="399.4" r="3.7" fill="#c8912c" stroke="#9a6e1e" stroke-width="0.7"/><circle cx="1246.1" cy="398.1" r="3.7" fill="#c8912c" stroke="#9a6e1e" stroke-width="0.7"/><circle cx="1241.8" cy="394.1" r="3.7" fill="#c8912c" stroke="#9a6e1e" stroke-width="0.7"/><circle cx="1240.9" cy="388.2" r="3.7" fill="#c8912c" stroke="#9a6e1e" stroke-width="0.7"/><circle cx="1243.6" cy="381.8" r="3.7" fill="#c8912c" stroke="#9a6e1e" stroke-width="0.7"/><circle cx="1249.3" cy="375.9" r="3.7" fill="#1f7d2c" stroke="#165c20" stroke-width="0.7"/><circle cx="1257.0" cy="371.8" r="3.7" fill="#c8912c" stroke="#9a6e1e" stroke-width="0.7"/><circle cx="1265.0" cy="370.4" r="3.7" fill="#c8912c" stroke="#9a6e1e" stroke-width="0.7"/><circle cx="1271.9" cy="371.7" r="3.7" fill="#c8912c" stroke="#9a6e1e" stroke-width="0.7"/>
<circle cx="1175.2" cy="416.5" r="3.7" fill="#c8912c" stroke="#9a6e1e" stroke-width="0.7"/><circle cx="1172.6" cy="422.9" r="3.7" fill="#1f7d2c" stroke="#165c20" stroke-width="0.7"/><circle cx="1166.1" cy="426.3" r="3.7" fill="#c8912c" stroke="#9a6e1e" stroke-width="0.7"/><circle cx="1158.7" cy="425.2" r="3.7" fill="#c8912c" stroke="#9a6e1e" stroke-width="0.7"/><circle cx="1153.9" cy="419.9" r="3.7" fill="#c8912c" stroke="#9a6e1e" stroke-width="0.7"/><circle cx="1153.9" cy="413.1" r="3.7" fill="#1f7d2c" stroke="#165c20" stroke-width="0.7"/><circle cx="1158.7" cy="407.8" r="3.7" fill="#c8912c" stroke="#9a6e1e" stroke-width="0.7"/><circle cx="1166.1" cy="406.7" r="3.7" fill="#c8912c" stroke="#9a6e1e" stroke-width="0.7"/><circle cx="1172.6" cy="410.1" r="3.7" fill="#c8912c" stroke="#9a6e1e" stroke-width="0.7"/>
<line x1="1214.5" y1="424.7" x2="1240.5" y2="430.3" stroke="#c9b7bb" stroke-width="2.6" stroke-dasharray="2.2 0.8"/><circle cx="1247.6" cy="431.8" r="3.7" fill="#c8912c" stroke="#9a6e1e" stroke-width="0.7"/><circle cx="1244.7" cy="436.8" r="3.7" fill="#c8912c" stroke="#9a6e1e" stroke-width="0.7"/><circle cx="1238.8" cy="440.2" r="3.7" fill="#1f7d2c" stroke="#165c20" stroke-width="0.7"/><circle cx="1231.0" cy="441.4" r="3.7" fill="#c8912c" stroke="#9a6e1e" stroke-width="0.7"/><circle cx="1222.6" cy="440.2" r="3.7" fill="#c8912c" stroke="#9a6e1e" stroke-width="0.7"/><circle cx="1215.0" cy="436.8" r="3.7" fill="#c8912c" stroke="#9a6e1e" stroke-width="0.7"/><circle cx="1209.6" cy="431.8" r="3.7" fill="#c8912c" stroke="#9a6e1e" stroke-width="0.7"/><circle cx="1207.3" cy="426.1" r="3.7" fill="#c8912c" stroke="#9a6e1e" stroke-width="0.7"/><circle cx="1208.5" cy="420.6" r="3.7" fill="#c8912c" stroke="#9a6e1e" stroke-width="0.7"/><circle cx="1212.9" cy="416.3" r="3.7" fill="#1f7d2c" stroke="#165c20" stroke-width="0.7"/><circle cx="1219.9" cy="413.9" r="3.7" fill="#c8912c" stroke="#9a6e1e" stroke-width="0.7"/><circle cx="1228.2" cy="413.9" r="3.7" fill="#c8912c" stroke="#9a6e1e" stroke-width="0.7"/><circle cx="1236.4" cy="416.3" r="3.7" fill="#c8912c" stroke="#9a6e1e" stroke-width="0.7"/><circle cx="1243.0" cy="420.5" r="3.7" fill="#c8912c" stroke="#9a6e1e" stroke-width="0.7"/><circle cx="1247.0" cy="426.0" r="3.7" fill="#c8912c" stroke="#9a6e1e" stroke-width="0.7"/>
<circle cx="1297.6" cy="416.5" r="3.7" fill="#c8912c" stroke="#9a6e1e" stroke-width="0.7"/><circle cx="1295.0" cy="422.9" r="3.7" fill="#c8912c" stroke="#9a6e1e" stroke-width="0.7"/><circle cx="1288.5" cy="426.3" r="3.7" fill="#c8912c" stroke="#9a6e1e" stroke-width="0.7"/><circle cx="1281.1" cy="425.2" r="3.7" fill="#1f7d2c" stroke="#165c20" stroke-width="0.7"/><circle cx="1276.3" cy="419.9" r="3.7" fill="#c8912c" stroke="#9a6e1e" stroke-width="0.7"/><circle cx="1276.3" cy="413.1" r="3.7" fill="#c8912c" stroke="#9a6e1e" stroke-width="0.7"/><circle cx="1281.1" cy="407.8" r="3.7" fill="#1f7d2c" stroke="#165c20" stroke-width="0.7"/><circle cx="1288.5" cy="406.7" r="3.7" fill="#c8912c" stroke="#9a6e1e" stroke-width="0.7"/><circle cx="1295.0" cy="410.1" r="3.7" fill="#c8912c" stroke="#9a6e1e" stroke-width="0.7"/>
<line x1="1172.0" y1="453.6" x2="1195.0" y2="464.4" stroke="#c9b7bb" stroke-width="2.6" stroke-dasharray="2.2 0.8"/><circle cx="1201.2" cy="467.2" r="3.7" fill="#c8912c" stroke="#9a6e1e" stroke-width="0.7"/><circle cx="1197.1" cy="471.3" r="3.7" fill="#c8912c" stroke="#9a6e1e" stroke-width="0.7"/><circle cx="1190.4" cy="473.0" r="3.7" fill="#1f7d2c" stroke="#165c20" stroke-width="0.7"/><circle cx="1182.3" cy="471.9" r="3.7" fill="#c8912c" stroke="#9a6e1e" stroke-width="0.7"/><circle cx="1174.4" cy="468.2" r="3.7" fill="#c8912c" stroke="#9a6e1e" stroke-width="0.7"/><circle cx="1168.4" cy="462.7" r="3.7" fill="#c8912c" stroke="#9a6e1e" stroke-width="0.7"/><circle cx="1165.3" cy="456.5" r="3.7" fill="#c8912c" stroke="#9a6e1e" stroke-width="0.7"/><circle cx="1165.8" cy="450.8" r="3.7" fill="#c8912c" stroke="#9a6e1e" stroke-width="0.7"/><circle cx="1169.9" cy="446.7" r="3.7" fill="#c8912c" stroke="#9a6e1e" stroke-width="0.7"/><circle cx="1176.6" cy="445.0" r="3.7" fill="#1f7d2c" stroke="#165c20" stroke-width="0.7"/><circle cx="1184.7" cy="446.1" r="3.7" fill="#c8912c" stroke="#9a6e1e" stroke-width="0.7"/><circle cx="1192.6" cy="449.8" r="3.7" fill="#c8912c" stroke="#9a6e1e" stroke-width="0.7"/><circle cx="1198.6" cy="455.3" r="3.7" fill="#c8912c" stroke="#9a6e1e" stroke-width="0.7"/><circle cx="1201.7" cy="461.5" r="3.7" fill="#c8912c" stroke="#9a6e1e" stroke-width="0.7"/>
<circle cx="1286.6" cy="455.0" r="3.7" fill="#1f7d2c" stroke="#165c20" stroke-width="0.7"/><circle cx="1284.0" cy="461.4" r="3.7" fill="#c8912c" stroke="#9a6e1e" stroke-width="0.7"/><circle cx="1277.5" cy="464.8" r="3.7" fill="#c8912c" stroke="#9a6e1e" stroke-width="0.7"/><circle cx="1270.1" cy="463.7" r="3.7" fill="#c8912c" stroke="#9a6e1e" stroke-width="0.7"/><circle cx="1265.3" cy="458.4" r="3.7" fill="#1f7d2c" stroke="#165c20" stroke-width="0.7"/><circle cx="1265.3" cy="451.6" r="3.7" fill="#c8912c" stroke="#9a6e1e" stroke-width="0.7"/><circle cx="1270.1" cy="446.3" r="3.7" fill="#c8912c" stroke="#9a6e1e" stroke-width="0.7"/><circle cx="1277.5" cy="445.2" r="3.7" fill="#c8912c" stroke="#9a6e1e" stroke-width="0.7"/><circle cx="1284.0" cy="448.6" r="3.7" fill="#c8912c" stroke="#9a6e1e" stroke-width="0.7"/>
<line x1="1219.7" y1="478.2" x2="1246.3" y2="475.8" stroke="#c9b7bb" stroke-width="2.6" stroke-dasharray="2.2 0.8"/><circle cx="1253.4" cy="475.2" r="3.7" fill="#c8912c" stroke="#9a6e1e" stroke-width="0.7"/><circle cx="1252.1" cy="480.4" r="3.7" fill="#c8912c" stroke="#9a6e1e" stroke-width="0.7"/><circle cx="1247.5" cy="485.1" r="3.7" fill="#c8912c" stroke="#9a6e1e" stroke-width="0.7"/><circle cx="1240.3" cy="488.3" r="3.7" fill="#c8912c" stroke="#9a6e1e" stroke-width="0.7"/><circle cx="1231.9" cy="489.6" r="3.7" fill="#1f7d2c" stroke="#165c20" stroke-width="0.7"/><circle cx="1223.7" cy="488.7" r="3.7" fill="#c8912c" stroke="#9a6e1e" stroke-width="0.7"/><circle cx="1217.1" cy="485.8" r="3.7" fill="#c8912c" stroke="#9a6e1e" stroke-width="0.7"/><circle cx="1213.3" cy="481.3" r="3.7" fill="#c8912c" stroke="#9a6e1e" stroke-width="0.7"/><circle cx="1212.8" cy="476.2" r="3.7" fill="#c8912c" stroke="#9a6e1e" stroke-width="0.7"/><circle cx="1215.8" cy="471.1" r="3.7" fill="#c8912c" stroke="#9a6e1e" stroke-width="0.7"/><circle cx="1221.8" cy="467.1" r="3.7" fill="#c8912c" stroke="#9a6e1e" stroke-width="0.7"/><circle cx="1229.8" cy="464.8" r="3.7" fill="#c8912c" stroke="#9a6e1e" stroke-width="0.7"/><circle cx="1238.3" cy="464.6" r="3.7" fill="#1f7d2c" stroke="#165c20" stroke-width="0.7"/><circle cx="1245.9" cy="466.6" r="3.7" fill="#c8912c" stroke="#9a6e1e" stroke-width="0.7"/><circle cx="1251.2" cy="470.3" r="3.7" fill="#c8912c" stroke="#9a6e1e" stroke-width="0.7"/>
<line x1="1148.8" y1="346.8" x2="1155.2" y2="353.2" stroke="#6e7278" stroke-width="2.4" stroke-linecap="round"/>
<line x1="1205.6" y1="341.1" x2="1212.4" y2="346.9" stroke="#6e7278" stroke-width="2.4" stroke-linecap="round"/>
<line x1="1235.8" y1="348.2" x2="1242.2" y2="341.8" stroke="#6e7278" stroke-width="2.4" stroke-linecap="round"/>
<line x1="1250.8" y1="356.1" x2="1255.2" y2="363.9" stroke="#6e7278" stroke-width="2.4" stroke-linecap="round"/>
<line x1="1273.6" y1="350.9" x2="1280.4" y2="345.1" stroke="#6e7278" stroke-width="2.4" stroke-linecap="round"/>
<line x1="1137.8" y1="394.1" x2="1142.2" y2="401.9" stroke="#6e7278" stroke-width="2.4" stroke-linecap="round"/>
<line x1="1192.6" y1="424.8" x2="1201.4" y2="423.2" stroke="#6e7278" stroke-width="2.4" stroke-linecap="round"/>
<line x1="1298.8" y1="421.5" x2="1307.2" y2="418.5" stroke="#6e7278" stroke-width="2.4" stroke-linecap="round"/>
<line x1="1152.8" y1="445.5" x2="1161.2" y2="448.5" stroke="#6e7278" stroke-width="2.4" stroke-linecap="round"/>
<line x1="1257.1" y1="437.8" x2="1264.9" y2="442.2" stroke="#6e7278" stroke-width="2.4" stroke-linecap="round"/>
<line x1="1189.1" y1="490.2" x2="1196.9" y2="485.8" stroke="#6e7278" stroke-width="2.4" stroke-linecap="round"/>
<line x1="1271.8" y1="478.5" x2="1280.2" y2="481.5" stroke="#6e7278" stroke-width="2.4" stroke-linecap="round"/>
<line x1="1307.6" y1="451.2" x2="1316.4" y2="452.8" stroke="#6e7278" stroke-width="2.4" stroke-linecap="round"/>
<line x1="1241.8" y1="496.8" x2="1248.2" y2="503.2" stroke="#6e7278" stroke-width="2.4" stroke-linecap="round"/>
<line x1="1177.8" y1="498.5" x2="1186.2" y2="495.5" stroke="#6e7278" stroke-width="2.4" stroke-linecap="round"/>
<path d="M845.0,735.0 L895.0,737.7 L917.0,760.0 L950.0,779.0 L957.0,790.0 L953.0,826.0 L959.0,865.0 L956.0,890.0 L950.0,940.0 L931.0,953.7 L895.0,962.0 L859.0,959.0 L823.0,951.0 L795.0,926.0 L778.8,904.0 L778.8,892.7 L795.0,879.0 L790.0,854.0 L795.0,807.0 L784.0,793.0 L787.0,779.0 L814.8,748.8 Z" fill="#8db896" transform="translate(868 849) scale(0.88) translate(-868 -849)"/>
<g><circle cx="891.9" cy="904.8" r="8.2" fill="#55775f"/><circle cx="898.1" cy="901.7" r="7.9" fill="#55775f"/><circle cx="905.0" cy="903.0" r="8.0" fill="#55775f"/><circle cx="891.9" cy="904.8" r="6.9" fill="#92b69b"/><circle cx="898.1" cy="901.7" r="6.6" fill="#92b69b"/><circle cx="905.0" cy="903.0" r="6.7" fill="#92b69b"/><circle cx="805.2" cy="818.6" r="7.6" fill="#5f8f6a"/><circle cx="810.4" cy="814.0" r="8.5" fill="#5f8f6a"/><circle cx="816.4" cy="810.4" r="8.3" fill="#5f8f6a"/><circle cx="815.4" cy="803.5" r="7.8" fill="#5f8f6a"/><circle cx="810.3" cy="798.7" r="8.4" fill="#5f8f6a"/><circle cx="803.5" cy="797.2" r="8.3" fill="#5f8f6a"/><circle cx="805.2" cy="818.6" r="6.3" fill="#b8ecc2"/><circle cx="810.4" cy="814.0" r="7.2" fill="#b8ecc2"/><circle cx="816.4" cy="810.4" r="7.0" fill="#b8ecc2"/><circle cx="815.4" cy="803.5" r="6.5" fill="#b8ecc2"/><circle cx="810.3" cy="798.7" r="7.1" fill="#b8ecc2"/><circle cx="803.5" cy="797.2" r="7.0" fill="#b8ecc2"/><circle cx="946.4" cy="910.4" r="8.0" fill="#55775f"/><circle cx="953.4" cy="911.4" r="8.3" fill="#55775f"/><circle cx="946.4" cy="910.4" r="6.7" fill="#9cbfa4"/><circle cx="953.4" cy="911.4" r="7.0" fill="#9cbfa4"/><circle cx="938.1" cy="780.8" r="7.6" fill="#5f8f6a"/><circle cx="933.7" cy="786.3" r="7.3" fill="#5f8f6a"/><circle cx="932.5" cy="793.2" r="8.2" fill="#5f8f6a"/><circle cx="925.8" cy="795.2" r="8.1" fill="#5f8f6a"/><circle cx="938.1" cy="780.8" r="6.3" fill="#c5f0cd"/><circle cx="933.7" cy="786.3" r="6.0" fill="#c5f0cd"/><circle cx="932.5" cy="793.2" r="6.9" fill="#c5f0cd"/><circle cx="925.8" cy="795.2" r="6.8" fill="#c5f0cd"/><circle cx="876.3" cy="889.9" r="7.5" fill="#5f8f6a"/><circle cx="871.1" cy="894.6" r="7.4" fill="#5f8f6a"/><circle cx="864.3" cy="893.2" r="8.5" fill="#5f8f6a"/><circle cx="857.5" cy="895.1" r="7.9" fill="#5f8f6a"/><circle cx="876.3" cy="889.9" r="6.2" fill="#cbf1d2"/><circle cx="871.1" cy="894.6" r="6.1" fill="#cbf1d2"/><circle cx="864.3" cy="893.2" r="7.2" fill="#cbf1d2"/><circle cx="857.5" cy="895.1" r="6.6" fill="#cbf1d2"/><circle cx="843.2" cy="770.7" r="7.4" fill="#5f8f6a"/><circle cx="849.3" cy="774.1" r="8.5" fill="#5f8f6a"/><circle cx="851.3" cy="780.8" r="8.5" fill="#5f8f6a"/><circle cx="843.2" cy="770.7" r="6.1" fill="#b8ecc2"/><circle cx="849.3" cy="774.1" r="7.2" fill="#b8ecc2"/><circle cx="851.3" cy="780.8" r="7.2" fill="#b8ecc2"/><circle cx="885.0" cy="870.9" r="8.3" fill="#5f8f6a"/><circle cx="880.4" cy="865.6" r="7.3" fill="#5f8f6a"/><circle cx="880.7" cy="858.6" r="7.9" fill="#5f8f6a"/><circle cx="885.0" cy="870.9" r="7.0" fill="#c5f0cd"/><circle cx="880.4" cy="865.6" r="6.0" fill="#c5f0cd"/><circle cx="880.7" cy="858.6" r="6.6" fill="#c5f0cd"/><circle cx="865.4" cy="805.6" r="7.1" fill="#5f8f6a"/><circle cx="862.8" cy="812.1" r="8.3" fill="#5f8f6a"/><circle cx="855.8" cy="812.3" r="8.4" fill="#5f8f6a"/><circle cx="853.1" cy="818.8" r="7.8" fill="#5f8f6a"/><circle cx="865.4" cy="805.6" r="5.8" fill="#cbf1d2"/><circle cx="862.8" cy="812.1" r="7.0" fill="#cbf1d2"/><circle cx="855.8" cy="812.3" r="7.1" fill="#cbf1d2"/><circle cx="853.1" cy="818.8" r="6.5" fill="#cbf1d2"/><circle cx="915.5" cy="928.9" r="7.4" fill="#55775f"/><circle cx="922.3" cy="927.4" r="7.9" fill="#55775f"/><circle cx="929.3" cy="927.3" r="7.7" fill="#55775f"/><circle cx="931.9" cy="920.8" r="8.4" fill="#55775f"/><circle cx="927.3" cy="915.5" r="7.3" fill="#55775f"/><circle cx="920.3" cy="914.8" r="8.4" fill="#55775f"/><circle cx="915.5" cy="928.9" r="6.1" fill="#92b69b"/><circle cx="922.3" cy="927.4" r="6.6" fill="#92b69b"/><circle cx="929.3" cy="927.3" r="6.4" fill="#92b69b"/><circle cx="931.9" cy="920.8" r="7.1" fill="#92b69b"/><circle cx="927.3" cy="915.5" r="6.0" fill="#92b69b"/><circle cx="920.3" cy="914.8" r="7.1" fill="#92b69b"/><circle cx="916.6" cy="948.6" r="7.3" fill="#55775f"/><circle cx="923.2" cy="946.3" r="7.9" fill="#55775f"/><circle cx="928.9" cy="950.3" r="8.1" fill="#55775f"/><circle cx="935.9" cy="949.8" r="7.5" fill="#55775f"/><circle cx="916.6" cy="948.6" r="6.0" fill="#88ad91"/><circle cx="923.2" cy="946.3" r="6.6" fill="#88ad91"/><circle cx="928.9" cy="950.3" r="6.8" fill="#88ad91"/><circle cx="935.9" cy="949.8" r="6.2" fill="#88ad91"/><circle cx="885.7" cy="914.0" r="7.6" fill="#5f8f6a"/><circle cx="888.3" cy="920.5" r="8.3" fill="#5f8f6a"/><circle cx="883.8" cy="925.9" r="8.5" fill="#5f8f6a"/><circle cx="885.8" cy="932.6" r="8.1" fill="#5f8f6a"/><circle cx="890.1" cy="938.1" r="7.4" fill="#5f8f6a"/><circle cx="885.7" cy="914.0" r="6.3" fill="#c5f0cd"/><circle cx="888.3" cy="920.5" r="7.0" fill="#c5f0cd"/><circle cx="883.8" cy="925.9" r="7.2" fill="#c5f0cd"/><circle cx="885.8" cy="932.6" r="6.8" fill="#c5f0cd"/><circle cx="890.1" cy="938.1" r="6.1" fill="#c5f0cd"/><circle cx="889.6" cy="945.9" r="8.1" fill="#5f8f6a"/><circle cx="888.8" cy="952.9" r="7.8" fill="#5f8f6a"/><circle cx="891.0" cy="959.5" r="8.2" fill="#5f8f6a"/><circle cx="889.6" cy="945.9" r="6.8" fill="#cbf1d2"/><circle cx="888.8" cy="952.9" r="6.5" fill="#cbf1d2"/><circle cx="891.0" cy="959.5" r="6.9" fill="#cbf1d2"/><circle cx="803.7" cy="892.6" r="7.3" fill="#5f8f6a"/><circle cx="809.8" cy="896.0" r="8.1" fill="#5f8f6a"/><circle cx="816.0" cy="892.6" r="7.8" fill="#5f8f6a"/><circle cx="822.7" cy="890.9" r="7.5" fill="#5f8f6a"/><circle cx="803.7" cy="892.6" r="6.0" fill="#bdeec6"/><circle cx="809.8" cy="896.0" r="6.8" fill="#bdeec6"/><circle cx="816.0" cy="892.6" r="6.5" fill="#bdeec6"/><circle cx="822.7" cy="890.9" r="6.2" fill="#bdeec6"/><circle cx="913.7" cy="812.1" r="8.2" fill="#5f8f6a"/><circle cx="919.0" cy="816.7" r="8.5" fill="#5f8f6a"/><circle cx="916.9" cy="823.4" r="8.4" fill="#5f8f6a"/><circle cx="912.8" cy="829.1" r="8.5" fill="#5f8f6a"/><circle cx="905.9" cy="830.6" r="7.3" fill="#5f8f6a"/><circle cx="900.2" cy="834.6" r="7.3" fill="#5f8f6a"/><circle cx="913.7" cy="812.1" r="6.9" fill="#b3eabd"/><circle cx="919.0" cy="816.7" r="7.2" fill="#b3eabd"/><circle cx="916.9" cy="823.4" r="7.1" fill="#b3eabd"/><circle cx="912.8" cy="829.1" r="7.2" fill="#b3eabd"/><circle cx="905.9" cy="830.6" r="6.0" fill="#b3eabd"/><circle cx="900.2" cy="834.6" r="6.0" fill="#b3eabd"/><circle cx="880.9" cy="762.9" r="7.5" fill="#5f8f6a"/><circle cx="880.7" cy="755.9" r="8.3" fill="#5f8f6a"/><circle cx="879.5" cy="749.1" r="8.4" fill="#5f8f6a"/><circle cx="873.5" cy="745.4" r="8.4" fill="#5f8f6a"/><circle cx="872.2" cy="738.5" r="7.4" fill="#5f8f6a"/><circle cx="880.9" cy="762.9" r="6.2" fill="#b3eabd"/><circle cx="880.7" cy="755.9" r="7.0" fill="#b3eabd"/><circle cx="879.5" cy="749.1" r="7.1" fill="#b3eabd"/><circle cx="873.5" cy="745.4" r="7.1" fill="#b3eabd"/><circle cx="872.2" cy="738.5" r="6.1" fill="#b3eabd"/><circle cx="860.4" cy="845.7" r="8.2" fill="#5f8f6a"/><circle cx="856.0" cy="840.3" r="7.4" fill="#5f8f6a"/><circle cx="851.3" cy="835.1" r="7.3" fill="#5f8f6a"/><circle cx="852.8" cy="828.3" r="7.3" fill="#5f8f6a"/><circle cx="848.3" cy="823.0" r="8.3" fill="#5f8f6a"/><circle cx="848.7" cy="816.0" r="8.0" fill="#5f8f6a"/><circle cx="860.4" cy="845.7" r="6.9" fill="#cbf1d2"/><circle cx="856.0" cy="840.3" r="6.1" fill="#cbf1d2"/><circle cx="851.3" cy="835.1" r="6.0" fill="#cbf1d2"/><circle cx="852.8" cy="828.3" r="6.0" fill="#cbf1d2"/><circle cx="848.3" cy="823.0" r="7.0" fill="#cbf1d2"/><circle cx="848.7" cy="816.0" r="6.7" fill="#cbf1d2"/><circle cx="874.9" cy="773.8" r="8.1" fill="#5f8f6a"/><circle cx="877.7" cy="767.4" r="7.7" fill="#5f8f6a"/><circle cx="880.3" cy="760.9" r="7.1" fill="#5f8f6a"/><circle cx="883.2" cy="754.5" r="7.5" fill="#5f8f6a"/><circle cx="886.8" cy="748.5" r="7.7" fill="#5f8f6a"/><circle cx="874.9" cy="773.8" r="6.8" fill="#c5f0cd"/><circle cx="877.7" cy="767.4" r="6.4" fill="#c5f0cd"/><circle cx="880.3" cy="760.9" r="5.8" fill="#c5f0cd"/><circle cx="883.2" cy="754.5" r="6.2" fill="#c5f0cd"/><circle cx="886.8" cy="748.5" r="6.4" fill="#c5f0cd"/><circle cx="869.5" cy="746.7" r="7.3" fill="#5f8f6a"/><circle cx="874.3" cy="741.6" r="8.3" fill="#5f8f6a"/><circle cx="880.7" cy="738.7" r="8.1" fill="#5f8f6a"/><circle cx="887.5" cy="740.1" r="8.1" fill="#5f8f6a"/><circle cx="894.5" cy="739.1" r="7.9" fill="#5f8f6a"/><circle cx="869.5" cy="746.7" r="6.0" fill="#b3eabd"/><circle cx="874.3" cy="741.6" r="7.0" fill="#b3eabd"/><circle cx="880.7" cy="738.7" r="6.8" fill="#b3eabd"/><circle cx="887.5" cy="740.1" r="6.8" fill="#b3eabd"/><circle cx="894.5" cy="739.1" r="6.6" fill="#b3eabd"/><circle cx="907.0" cy="797.4" r="8.1" fill="#5f8f6a"/><circle cx="903.3" cy="791.5" r="8.1" fill="#5f8f6a"/><circle cx="897.6" cy="787.4" r="7.9" fill="#5f8f6a"/><circle cx="890.7" cy="788.5" r="8.5" fill="#5f8f6a"/><circle cx="885.3" cy="784.0" r="8.2" fill="#5f8f6a"/><circle cx="907.0" cy="797.4" r="6.8" fill="#b3eabd"/><circle cx="903.3" cy="791.5" r="6.8" fill="#b3eabd"/><circle cx="897.6" cy="787.4" r="6.6" fill="#b3eabd"/><circle cx="890.7" cy="788.5" r="7.2" fill="#b3eabd"/><circle cx="885.3" cy="784.0" r="6.9" fill="#b3eabd"/><circle cx="864.2" cy="912.3" r="8.1" fill="#5f8f6a"/><circle cx="861.6" cy="918.8" r="7.6" fill="#5f8f6a"/><circle cx="855.2" cy="921.6" r="8.2" fill="#5f8f6a"/><circle cx="848.2" cy="922.1" r="7.2" fill="#5f8f6a"/><circle cx="842.6" cy="917.9" r="8.1" fill="#5f8f6a"/><circle cx="864.2" cy="912.3" r="6.8" fill="#cbf1d2"/><circle cx="861.6" cy="918.8" r="6.3" fill="#cbf1d2"/><circle cx="855.2" cy="921.6" r="6.9" fill="#cbf1d2"/><circle cx="848.2" cy="922.1" r="5.9" fill="#cbf1d2"/><circle cx="842.6" cy="917.9" r="6.8" fill="#cbf1d2"/><circle cx="840.7" cy="882.1" r="7.8" fill="#5f8f6a"/><circle cx="837.7" cy="875.7" r="8.4" fill="#5f8f6a"/><circle cx="840.4" cy="869.2" r="8.5" fill="#5f8f6a"/><circle cx="847.1" cy="867.2" r="8.5" fill="#5f8f6a"/><circle cx="854.0" cy="868.3" r="8.4" fill="#5f8f6a"/><circle cx="855.9" cy="875.0" r="7.2" fill="#5f8f6a"/><circle cx="840.7" cy="882.1" r="6.5" fill="#b8ecc2"/><circle cx="837.7" cy="875.7" r="7.1" fill="#b8ecc2"/><circle cx="840.4" cy="869.2" r="7.2" fill="#b8ecc2"/><circle cx="847.1" cy="867.2" r="7.2" fill="#b8ecc2"/><circle cx="854.0" cy="868.3" r="7.1" fill="#b8ecc2"/><circle cx="855.9" cy="875.0" r="5.9" fill="#b8ecc2"/><circle cx="953.9" cy="852.7" r="7.6" fill="#55775f"/><circle cx="947.9" cy="856.3" r="7.7" fill="#55775f"/><circle cx="943.4" cy="861.7" r="7.6" fill="#55775f"/><circle cx="936.4" cy="861.8" r="8.5" fill="#55775f"/><circle cx="953.9" cy="852.7" r="6.3" fill="#92b69b"/><circle cx="947.9" cy="856.3" r="6.4" fill="#92b69b"/><circle cx="943.4" cy="861.7" r="6.3" fill="#92b69b"/><circle cx="936.4" cy="861.8" r="7.2" fill="#92b69b"/><circle cx="828.6" cy="750.4" r="7.2" fill="#5f8f6a"/><circle cx="821.9" cy="748.4" r="7.5" fill="#5f8f6a"/><circle cx="828.6" cy="750.4" r="5.9" fill="#c5f0cd"/><circle cx="821.9" cy="748.4" r="6.2" fill="#c5f0cd"/><circle cx="892.0" cy="912.5" r="7.5" fill="#5f8f6a"/><circle cx="885.1" cy="911.6" r="8.5" fill="#5f8f6a"/><circle cx="878.5" cy="909.3" r="7.2" fill="#5f8f6a"/><circle cx="892.0" cy="912.5" r="6.2" fill="#c5f0cd"/><circle cx="885.1" cy="911.6" r="7.2" fill="#c5f0cd"/><circle cx="878.5" cy="909.3" r="5.9" fill="#c5f0cd"/><circle cx="892.1" cy="774.1" r="7.3" fill="#5f8f6a"/><circle cx="894.6" cy="767.6" r="8.0" fill="#5f8f6a"/><circle cx="890.0" cy="762.4" r="7.3" fill="#5f8f6a"/><circle cx="884.9" cy="757.5" r="8.3" fill="#5f8f6a"/><circle cx="892.1" cy="774.1" r="6.0" fill="#bdeec6"/><circle cx="894.6" cy="767.6" r="6.7" fill="#bdeec6"/><circle cx="890.0" cy="762.4" r="6.0" fill="#bdeec6"/><circle cx="884.9" cy="757.5" r="7.0" fill="#bdeec6"/><circle cx="800.8" cy="805.9" r="8.3" fill="#5f8f6a"/><circle cx="803.0" cy="812.6" r="8.1" fill="#5f8f6a"/><circle cx="806.5" cy="818.7" r="8.1" fill="#5f8f6a"/><circle cx="811.8" cy="823.2" r="7.5" fill="#5f8f6a"/><circle cx="800.8" cy="805.9" r="7.0" fill="#b8ecc2"/><circle cx="803.0" cy="812.6" r="6.8" fill="#b8ecc2"/><circle cx="806.5" cy="818.7" r="6.8" fill="#b8ecc2"/><circle cx="811.8" cy="823.2" r="6.2" fill="#b8ecc2"/><circle cx="899.2" cy="748.8" r="7.3" fill="#5f8f6a"/><circle cx="906.2" cy="749.4" r="7.5" fill="#5f8f6a"/><circle cx="899.2" cy="748.8" r="6.0" fill="#cbf1d2"/><circle cx="906.2" cy="749.4" r="6.2" fill="#cbf1d2"/><circle cx="797.4" cy="925.7" r="7.7" fill="#5f8f6a"/><circle cx="797.4" cy="925.7" r="6.4" fill="#cbf1d2"/><circle cx="830.9" cy="851.4" r="7.3" fill="#5f8f6a"/><circle cx="835.8" cy="856.4" r="8.5" fill="#5f8f6a"/><circle cx="835.9" cy="863.4" r="7.6" fill="#5f8f6a"/><circle cx="837.4" cy="870.3" r="8.3" fill="#5f8f6a"/><circle cx="833.8" cy="876.3" r="7.8" fill="#5f8f6a"/><circle cx="830.9" cy="851.4" r="6.0" fill="#bdeec6"/><circle cx="835.8" cy="856.4" r="7.2" fill="#bdeec6"/><circle cx="835.9" cy="863.4" r="6.3" fill="#bdeec6"/><circle cx="837.4" cy="870.3" r="7.0" fill="#bdeec6"/><circle cx="833.8" cy="876.3" r="6.5" fill="#bdeec6"/><circle cx="895.5" cy="818.1" r="7.6" fill="#5f8f6a"/><circle cx="899.0" cy="824.1" r="7.7" fill="#5f8f6a"/><circle cx="895.2" cy="830.0" r="7.7" fill="#5f8f6a"/><circle cx="888.2" cy="829.1" r="8.4" fill="#5f8f6a"/><circle cx="881.7" cy="826.5" r="8.0" fill="#5f8f6a"/><circle cx="874.8" cy="826.3" r="7.5" fill="#5f8f6a"/><circle cx="895.5" cy="818.1" r="6.3" fill="#b3eabd"/><circle cx="899.0" cy="824.1" r="6.4" fill="#b3eabd"/><circle cx="895.2" cy="830.0" r="6.4" fill="#b3eabd"/><circle cx="888.2" cy="829.1" r="7.1" fill="#b3eabd"/><circle cx="881.7" cy="826.5" r="6.7" fill="#b3eabd"/><circle cx="874.8" cy="826.3" r="6.2" fill="#b3eabd"/><circle cx="796.1" cy="863.8" r="7.2" fill="#5f8f6a"/><circle cx="793.6" cy="857.3" r="7.6" fill="#5f8f6a"/><circle cx="792.1" cy="850.4" r="8.0" fill="#5f8f6a"/><circle cx="796.1" cy="863.8" r="5.9" fill="#b3eabd"/><circle cx="793.6" cy="857.3" r="6.3" fill="#b3eabd"/><circle cx="792.1" cy="850.4" r="6.7" fill="#b3eabd"/><circle cx="867.8" cy="843.7" r="8.1" fill="#5f8f6a"/><circle cx="873.0" cy="839.1" r="8.0" fill="#5f8f6a"/><circle cx="879.8" cy="840.9" r="8.0" fill="#5f8f6a"/><circle cx="885.9" cy="844.3" r="8.3" fill="#5f8f6a"/><circle cx="892.9" cy="843.7" r="8.0" fill="#5f8f6a"/><circle cx="896.2" cy="849.9" r="7.3" fill="#5f8f6a"/><circle cx="867.8" cy="843.7" r="6.8" fill="#bdeec6"/><circle cx="873.0" cy="839.1" r="6.7" fill="#bdeec6"/><circle cx="879.8" cy="840.9" r="6.7" fill="#bdeec6"/><circle cx="885.9" cy="844.3" r="7.0" fill="#bdeec6"/><circle cx="892.9" cy="843.7" r="6.7" fill="#bdeec6"/><circle cx="896.2" cy="849.9" r="6.0" fill="#bdeec6"/><circle cx="868.3" cy="828.8" r="7.5" fill="#5f8f6a"/><circle cx="865.5" cy="835.2" r="7.1" fill="#5f8f6a"/><circle cx="866.2" cy="842.2" r="8.0" fill="#5f8f6a"/><circle cx="867.2" cy="849.1" r="7.8" fill="#5f8f6a"/><circle cx="873.4" cy="852.5" r="7.1" fill="#5f8f6a"/><circle cx="868.3" cy="828.8" r="6.2" fill="#b8ecc2"/><circle cx="865.5" cy="835.2" r="5.8" fill="#b8ecc2"/><circle cx="866.2" cy="842.2" r="6.7" fill="#b8ecc2"/><circle cx="867.2" cy="849.1" r="6.5" fill="#b8ecc2"/><circle cx="873.4" cy="852.5" r="5.8" fill="#b8ecc2"/><circle cx="891.6" cy="835.3" r="8.3" fill="#5f8f6a"/><circle cx="885.5" cy="838.8" r="8.0" fill="#5f8f6a"/><circle cx="886.3" cy="845.7" r="7.6" fill="#5f8f6a"/><circle cx="886.6" cy="852.7" r="7.4" fill="#5f8f6a"/><circle cx="891.6" cy="835.3" r="7.0" fill="#cbf1d2"/><circle cx="885.5" cy="838.8" r="6.7" fill="#cbf1d2"/><circle cx="886.3" cy="845.7" r="6.3" fill="#cbf1d2"/><circle cx="886.6" cy="852.7" r="6.1" fill="#cbf1d2"/><circle cx="826.9" cy="949.9" r="7.9" fill="#5f8f6a"/><circle cx="828.2" cy="943.0" r="7.5" fill="#5f8f6a"/><circle cx="834.1" cy="939.3" r="7.8" fill="#5f8f6a"/><circle cx="841.0" cy="939.0" r="7.7" fill="#5f8f6a"/><circle cx="826.9" cy="949.9" r="6.6" fill="#cbf1d2"/><circle cx="828.2" cy="943.0" r="6.2" fill="#cbf1d2"/><circle cx="834.1" cy="939.3" r="6.5" fill="#cbf1d2"/><circle cx="841.0" cy="939.0" r="6.4" fill="#cbf1d2"/><circle cx="829.1" cy="846.7" r="8.3" fill="#5f8f6a"/><circle cx="831.6" cy="840.2" r="7.6" fill="#5f8f6a"/><circle cx="828.1" cy="834.1" r="7.9" fill="#5f8f6a"/><circle cx="829.1" cy="846.7" r="7.0" fill="#b3eabd"/><circle cx="831.6" cy="840.2" r="6.3" fill="#b3eabd"/><circle cx="828.1" cy="834.1" r="6.6" fill="#b3eabd"/><circle cx="828.5" cy="897.0" r="8.3" fill="#5f8f6a"/><circle cx="822.9" cy="892.9" r="7.5" fill="#5f8f6a"/><circle cx="816.2" cy="890.8" r="8.0" fill="#5f8f6a"/><circle cx="828.5" cy="897.0" r="7.0" fill="#b8ecc2"/><circle cx="822.9" cy="892.9" r="6.2" fill="#b8ecc2"/><circle cx="816.2" cy="890.8" r="6.7" fill="#b8ecc2"/><circle cx="914.6" cy="869.7" r="8.4" fill="#5f8f6a"/><circle cx="921.1" cy="872.1" r="7.3" fill="#5f8f6a"/><circle cx="926.0" cy="877.1" r="8.1" fill="#5f8f6a"/><circle cx="932.9" cy="876.2" r="7.5" fill="#5f8f6a"/><circle cx="939.6" cy="878.3" r="7.8" fill="#5f8f6a"/><circle cx="914.6" cy="869.7" r="7.1" fill="#c5f0cd"/><circle cx="921.1" cy="872.1" r="6.0" fill="#c5f0cd"/><circle cx="926.0" cy="877.1" r="6.8" fill="#c5f0cd"/><circle cx="932.9" cy="876.2" r="6.2" fill="#c5f0cd"/><circle cx="939.6" cy="878.3" r="6.5" fill="#c5f0cd"/><circle cx="811.6" cy="832.1" r="8.1" fill="#5f8f6a"/><circle cx="818.1" cy="829.7" r="8.5" fill="#5f8f6a"/><circle cx="824.4" cy="832.9" r="7.7" fill="#5f8f6a"/><circle cx="830.8" cy="835.7" r="7.8" fill="#5f8f6a"/><circle cx="835.4" cy="841.0" r="8.3" fill="#5f8f6a"/><circle cx="836.8" cy="847.8" r="7.3" fill="#5f8f6a"/><circle cx="811.6" cy="832.1" r="6.8" fill="#cbf1d2"/><circle cx="818.1" cy="829.7" r="7.2" fill="#cbf1d2"/><circle cx="824.4" cy="832.9" r="6.4" fill="#cbf1d2"/><circle cx="830.8" cy="835.7" r="6.5" fill="#cbf1d2"/><circle cx="835.4" cy="841.0" r="7.0" fill="#cbf1d2"/><circle cx="836.8" cy="847.8" r="6.0" fill="#cbf1d2"/><circle cx="943.2" cy="840.4" r="7.9" fill="#5f8f6a"/><circle cx="948.5" cy="835.8" r="7.1" fill="#5f8f6a"/><circle cx="952.7" cy="830.2" r="7.5" fill="#5f8f6a"/><circle cx="943.2" cy="840.4" r="6.6" fill="#b3eabd"/><circle cx="948.5" cy="835.8" r="5.8" fill="#b3eabd"/><circle cx="952.7" cy="830.2" r="6.2" fill="#b3eabd"/><circle cx="921.2" cy="944.2" r="8.3" fill="#55775f"/><circle cx="922.6" cy="951.0" r="8.5" fill="#55775f"/><circle cx="918.0" cy="956.3" r="8.0" fill="#55775f"/><circle cx="911.3" cy="954.3" r="8.5" fill="#55775f"/><circle cx="904.8" cy="951.6" r="8.0" fill="#55775f"/><circle cx="897.9" cy="950.2" r="8.2" fill="#55775f"/><circle cx="921.2" cy="944.2" r="7.0" fill="#9cbfa4"/><circle cx="922.6" cy="951.0" r="7.2" fill="#9cbfa4"/><circle cx="918.0" cy="956.3" r="6.7" fill="#9cbfa4"/><circle cx="911.3" cy="954.3" r="7.2" fill="#9cbfa4"/><circle cx="904.8" cy="951.6" r="6.7" fill="#9cbfa4"/><circle cx="897.9" cy="950.2" r="6.9" fill="#9cbfa4"/><circle cx="876.7" cy="743.3" r="7.3" fill="#5f8f6a"/><circle cx="881.0" cy="737.8" r="7.7" fill="#5f8f6a"/><circle cx="887.9" cy="739.0" r="8.1" fill="#5f8f6a"/><circle cx="876.7" cy="743.3" r="6.0" fill="#bdeec6"/><circle cx="881.0" cy="737.8" r="6.4" fill="#bdeec6"/><circle cx="887.9" cy="739.0" r="6.8" fill="#bdeec6"/><circle cx="816.8" cy="882.5" r="8.4" fill="#5f8f6a"/><circle cx="821.2" cy="887.9" r="8.1" fill="#5f8f6a"/><circle cx="822.5" cy="894.7" r="7.7" fill="#5f8f6a"/><circle cx="824.9" cy="901.3" r="7.6" fill="#5f8f6a"/><circle cx="816.8" cy="882.5" r="7.1" fill="#c5f0cd"/><circle cx="821.2" cy="887.9" r="6.8" fill="#c5f0cd"/><circle cx="822.5" cy="894.7" r="6.4" fill="#c5f0cd"/><circle cx="824.9" cy="901.3" r="6.3" fill="#c5f0cd"/><circle cx="810.1" cy="775.2" r="7.2" fill="#5f8f6a"/><circle cx="814.1" cy="769.5" r="8.1" fill="#5f8f6a"/><circle cx="810.9" cy="763.3" r="8.5" fill="#5f8f6a"/><circle cx="810.1" cy="775.2" r="5.9" fill="#c5f0cd"/><circle cx="814.1" cy="769.5" r="6.8" fill="#c5f0cd"/><circle cx="810.9" cy="763.3" r="7.2" fill="#c5f0cd"/><circle cx="796.1" cy="820.4" r="7.4" fill="#5f8f6a"/><circle cx="801.8" cy="824.4" r="8.1" fill="#5f8f6a"/><circle cx="808.5" cy="822.4" r="7.6" fill="#5f8f6a"/><circle cx="796.1" cy="820.4" r="6.1" fill="#cbf1d2"/><circle cx="801.8" cy="824.4" r="6.8" fill="#cbf1d2"/><circle cx="808.5" cy="822.4" r="6.3" fill="#cbf1d2"/><circle cx="850.1" cy="877.3" r="7.2" fill="#5f8f6a"/><circle cx="856.6" cy="874.7" r="7.3" fill="#5f8f6a"/><circle cx="863.6" cy="873.7" r="8.4" fill="#5f8f6a"/><circle cx="850.1" cy="877.3" r="5.9" fill="#cbf1d2"/><circle cx="856.6" cy="874.7" r="6.0" fill="#cbf1d2"/><circle cx="863.6" cy="873.7" r="7.1" fill="#cbf1d2"/><circle cx="867.1" cy="950.7" r="8.4" fill="#5f8f6a"/><circle cx="867.7" cy="957.7" r="7.3" fill="#5f8f6a"/><circle cx="867.1" cy="950.7" r="7.1" fill="#bdeec6"/><circle cx="867.7" cy="957.7" r="6.0" fill="#bdeec6"/><circle cx="881.8" cy="890.0" r="7.2" fill="#5f8f6a"/><circle cx="883.9" cy="896.6" r="7.5" fill="#5f8f6a"/><circle cx="885.3" cy="903.5" r="8.3" fill="#5f8f6a"/><circle cx="890.2" cy="908.5" r="7.4" fill="#5f8f6a"/><circle cx="881.8" cy="890.0" r="5.9" fill="#bdeec6"/><circle cx="883.9" cy="896.6" r="6.2" fill="#bdeec6"/><circle cx="885.3" cy="903.5" r="7.0" fill="#bdeec6"/><circle cx="890.2" cy="908.5" r="6.1" fill="#bdeec6"/><circle cx="915.6" cy="852.5" r="7.7" fill="#5f8f6a"/><circle cx="914.6" cy="859.4" r="7.8" fill="#5f8f6a"/><circle cx="914.4" cy="866.4" r="7.7" fill="#5f8f6a"/><circle cx="916.0" cy="873.2" r="7.8" fill="#5f8f6a"/><circle cx="915.6" cy="852.5" r="6.4" fill="#cbf1d2"/><circle cx="914.6" cy="859.4" r="6.5" fill="#cbf1d2"/><circle cx="914.4" cy="866.4" r="6.4" fill="#cbf1d2"/><circle cx="916.0" cy="873.2" r="6.5" fill="#cbf1d2"/><circle cx="839.5" cy="865.6" r="7.4" fill="#5f8f6a"/><circle cx="846.3" cy="867.2" r="7.1" fill="#5f8f6a"/><circle cx="853.3" cy="868.1" r="8.5" fill="#5f8f6a"/><circle cx="839.5" cy="865.6" r="6.1" fill="#b3eabd"/><circle cx="846.3" cy="867.2" r="5.8" fill="#b3eabd"/><circle cx="853.3" cy="868.1" r="7.2" fill="#b3eabd"/><circle cx="848.5" cy="839.8" r="7.1" fill="#5f8f6a"/><circle cx="854.7" cy="843.0" r="8.3" fill="#5f8f6a"/><circle cx="860.3" cy="838.8" r="7.5" fill="#5f8f6a"/><circle cx="848.5" cy="839.8" r="5.8" fill="#c5f0cd"/><circle cx="854.7" cy="843.0" r="7.0" fill="#c5f0cd"/><circle cx="860.3" cy="838.8" r="6.2" fill="#c5f0cd"/><circle cx="902.7" cy="784.0" r="8.4" fill="#5f8f6a"/><circle cx="903.2" cy="791.0" r="7.2" fill="#5f8f6a"/><circle cx="908.8" cy="795.1" r="8.0" fill="#5f8f6a"/><circle cx="913.0" cy="800.7" r="7.6" fill="#5f8f6a"/><circle cx="918.8" cy="804.6" r="7.8" fill="#5f8f6a"/><circle cx="925.8" cy="804.2" r="7.9" fill="#5f8f6a"/><circle cx="902.7" cy="784.0" r="7.1" fill="#b8ecc2"/><circle cx="903.2" cy="791.0" r="5.9" fill="#b8ecc2"/><circle cx="908.8" cy="795.1" r="6.7" fill="#b8ecc2"/><circle cx="913.0" cy="800.7" r="6.3" fill="#b8ecc2"/><circle cx="918.8" cy="804.6" r="6.5" fill="#b8ecc2"/><circle cx="925.8" cy="804.2" r="6.6" fill="#b8ecc2"/><circle cx="838.0" cy="875.0" r="8.0" fill="#5f8f6a"/><circle cx="835.7" cy="881.6" r="8.3" fill="#5f8f6a"/><circle cx="830.4" cy="886.2" r="7.4" fill="#5f8f6a"/><circle cx="826.9" cy="892.3" r="8.2" fill="#5f8f6a"/><circle cx="826.7" cy="899.3" r="7.6" fill="#5f8f6a"/><circle cx="824.3" cy="905.8" r="7.4" fill="#5f8f6a"/><circle cx="838.0" cy="875.0" r="6.7" fill="#b8ecc2"/><circle cx="835.7" cy="881.6" r="7.0" fill="#b8ecc2"/><circle cx="830.4" cy="886.2" r="6.1" fill="#b8ecc2"/><circle cx="826.9" cy="892.3" r="6.9" fill="#b8ecc2"/><circle cx="826.7" cy="899.3" r="6.3" fill="#b8ecc2"/><circle cx="824.3" cy="905.8" r="6.1" fill="#b8ecc2"/><circle cx="816.0" cy="774.1" r="7.9" fill="#5f8f6a"/><circle cx="821.2" cy="769.4" r="7.4" fill="#5f8f6a"/><circle cx="822.2" cy="762.5" r="8.4" fill="#5f8f6a"/><circle cx="816.0" cy="774.1" r="6.6" fill="#b3eabd"/><circle cx="821.2" cy="769.4" r="6.1" fill="#b3eabd"/><circle cx="822.2" cy="762.5" r="7.1" fill="#b3eabd"/><circle cx="865.5" cy="909.2" r="7.8" fill="#5f8f6a"/><circle cx="871.7" cy="906.0" r="7.2" fill="#5f8f6a"/><circle cx="877.6" cy="909.7" r="8.4" fill="#5f8f6a"/><circle cx="877.5" cy="916.7" r="8.0" fill="#5f8f6a"/><circle cx="880.4" cy="923.1" r="7.7" fill="#5f8f6a"/><circle cx="883.8" cy="929.2" r="8.3" fill="#5f8f6a"/><circle cx="865.5" cy="909.2" r="6.5" fill="#cbf1d2"/><circle cx="871.7" cy="906.0" r="5.9" fill="#cbf1d2"/><circle cx="877.6" cy="909.7" r="7.1" fill="#cbf1d2"/><circle cx="877.5" cy="916.7" r="6.7" fill="#cbf1d2"/><circle cx="880.4" cy="923.1" r="6.4" fill="#cbf1d2"/><circle cx="883.8" cy="929.2" r="7.0" fill="#cbf1d2"/><circle cx="811.6" cy="884.2" r="7.8" fill="#5f8f6a"/><circle cx="813.3" cy="891.0" r="8.5" fill="#5f8f6a"/><circle cx="815.4" cy="897.7" r="8.1" fill="#5f8f6a"/><circle cx="816.7" cy="904.6" r="7.5" fill="#5f8f6a"/><circle cx="823.0" cy="907.6" r="8.1" fill="#5f8f6a"/><circle cx="825.5" cy="914.2" r="8.0" fill="#5f8f6a"/><circle cx="811.6" cy="884.2" r="6.5" fill="#c5f0cd"/><circle cx="813.3" cy="891.0" r="7.2" fill="#c5f0cd"/><circle cx="815.4" cy="897.7" r="6.8" fill="#c5f0cd"/><circle cx="816.7" cy="904.6" r="6.2" fill="#c5f0cd"/><circle cx="823.0" cy="907.6" r="6.8" fill="#c5f0cd"/><circle cx="825.5" cy="914.2" r="6.7" fill="#c5f0cd"/><circle cx="915.6" cy="888.6" r="7.4" fill="#55775f"/><circle cx="922.5" cy="887.4" r="7.2" fill="#55775f"/><circle cx="928.8" cy="890.4" r="7.3" fill="#55775f"/><circle cx="915.6" cy="888.6" r="6.1" fill="#88ad91"/><circle cx="922.5" cy="887.4" r="5.9" fill="#88ad91"/><circle cx="928.8" cy="890.4" r="6.0" fill="#88ad91"/><circle cx="834.8" cy="745.7" r="7.9" fill="#5f8f6a"/><circle cx="841.8" cy="746.2" r="8.3" fill="#5f8f6a"/><circle cx="844.7" cy="752.6" r="8.3" fill="#5f8f6a"/><circle cx="851.5" cy="754.1" r="7.1" fill="#5f8f6a"/><circle cx="857.2" cy="758.2" r="7.5" fill="#5f8f6a"/><circle cx="864.2" cy="759.1" r="7.3" fill="#5f8f6a"/><circle cx="834.8" cy="745.7" r="6.6" fill="#cbf1d2"/><circle cx="841.8" cy="746.2" r="7.0" fill="#cbf1d2"/><circle cx="844.7" cy="752.6" r="7.0" fill="#cbf1d2"/><circle cx="851.5" cy="754.1" r="5.8" fill="#cbf1d2"/><circle cx="857.2" cy="758.2" r="6.2" fill="#cbf1d2"/><circle cx="864.2" cy="759.1" r="6.0" fill="#cbf1d2"/><circle cx="901.5" cy="901.9" r="7.7" fill="#55775f"/><circle cx="901.7" cy="908.9" r="7.4" fill="#55775f"/><circle cx="900.6" cy="915.8" r="8.3" fill="#55775f"/><circle cx="897.1" cy="921.9" r="8.3" fill="#55775f"/><circle cx="901.5" cy="901.9" r="6.4" fill="#88ad91"/><circle cx="901.7" cy="908.9" r="6.1" fill="#88ad91"/><circle cx="900.6" cy="915.8" r="7.0" fill="#88ad91"/><circle cx="897.1" cy="921.9" r="7.0" fill="#88ad91"/><circle cx="890.9" cy="944.4" r="7.9" fill="#5f8f6a"/><circle cx="884.9" cy="940.8" r="8.4" fill="#5f8f6a"/><circle cx="878.0" cy="939.4" r="8.5" fill="#5f8f6a"/><circle cx="873.3" cy="944.5" r="7.8" fill="#5f8f6a"/><circle cx="866.7" cy="942.1" r="8.0" fill="#5f8f6a"/><circle cx="890.9" cy="944.4" r="6.6" fill="#c5f0cd"/><circle cx="884.9" cy="940.8" r="7.1" fill="#c5f0cd"/><circle cx="878.0" cy="939.4" r="7.2" fill="#c5f0cd"/><circle cx="873.3" cy="944.5" r="6.5" fill="#c5f0cd"/><circle cx="866.7" cy="942.1" r="6.7" fill="#c5f0cd"/><circle cx="863.1" cy="912.8" r="8.2" fill="#5f8f6a"/><circle cx="859.2" cy="918.6" r="8.1" fill="#5f8f6a"/><circle cx="853.5" cy="922.7" r="7.8" fill="#5f8f6a"/><circle cx="848.6" cy="927.7" r="7.7" fill="#5f8f6a"/><circle cx="863.1" cy="912.8" r="6.9" fill="#bdeec6"/><circle cx="859.2" cy="918.6" r="6.8" fill="#bdeec6"/><circle cx="853.5" cy="922.7" r="6.5" fill="#bdeec6"/><circle cx="848.6" cy="927.7" r="6.4" fill="#bdeec6"/><circle cx="787.3" cy="913.6" r="8.0" fill="#5f8f6a"/><circle cx="787.3" cy="913.6" r="6.7" fill="#bdeec6"/><circle cx="931.7" cy="863.7" r="8.2" fill="#5f8f6a"/><circle cx="935.4" cy="857.8" r="7.9" fill="#5f8f6a"/><circle cx="942.2" cy="855.8" r="7.3" fill="#5f8f6a"/><circle cx="931.7" cy="863.7" r="6.9" fill="#b3eabd"/><circle cx="935.4" cy="857.8" r="6.6" fill="#b3eabd"/><circle cx="942.2" cy="855.8" r="6.0" fill="#b3eabd"/><circle cx="793.1" cy="841.8" r="7.4" fill="#5f8f6a"/><circle cx="794.8" cy="835.0" r="8.3" fill="#5f8f6a"/><circle cx="793.1" cy="841.8" r="6.1" fill="#cbf1d2"/><circle cx="794.8" cy="835.0" r="7.0" fill="#cbf1d2"/><circle cx="858.9" cy="881.2" r="8.1" fill="#5f8f6a"/><circle cx="859.0" cy="874.2" r="8.2" fill="#5f8f6a"/><circle cx="859.3" cy="867.2" r="7.6" fill="#5f8f6a"/><circle cx="857.9" cy="860.4" r="7.3" fill="#5f8f6a"/><circle cx="858.9" cy="881.2" r="6.8" fill="#bdeec6"/><circle cx="859.0" cy="874.2" r="6.9" fill="#bdeec6"/><circle cx="859.3" cy="867.2" r="6.3" fill="#bdeec6"/><circle cx="857.9" cy="860.4" r="6.0" fill="#bdeec6"/><circle cx="874.8" cy="751.7" r="7.6" fill="#5f8f6a"/><circle cx="878.7" cy="757.5" r="8.3" fill="#5f8f6a"/><circle cx="874.9" cy="763.3" r="7.3" fill="#5f8f6a"/><circle cx="874.8" cy="751.7" r="6.3" fill="#b3eabd"/><circle cx="878.7" cy="757.5" r="7.0" fill="#b3eabd"/><circle cx="874.9" cy="763.3" r="6.0" fill="#b3eabd"/><circle cx="911.8" cy="877.6" r="8.3" fill="#5f8f6a"/><circle cx="905.4" cy="880.3" r="7.2" fill="#5f8f6a"/><circle cx="898.5" cy="881.9" r="7.1" fill="#5f8f6a"/><circle cx="892.5" cy="885.5" r="7.9" fill="#5f8f6a"/><circle cx="885.7" cy="887.0" r="7.2" fill="#5f8f6a"/><circle cx="911.8" cy="877.6" r="7.0" fill="#b3eabd"/><circle cx="905.4" cy="880.3" r="5.9" fill="#b3eabd"/><circle cx="898.5" cy="881.9" r="5.8" fill="#b3eabd"/><circle cx="892.5" cy="885.5" r="6.6" fill="#b3eabd"/><circle cx="885.7" cy="887.0" r="5.9" fill="#b3eabd"/><circle cx="911.0" cy="944.7" r="7.6" fill="#55775f"/><circle cx="904.2" cy="946.6" r="8.1" fill="#55775f"/><circle cx="900.0" cy="941.0" r="7.7" fill="#55775f"/><circle cx="896.6" cy="934.9" r="8.0" fill="#55775f"/><circle cx="889.7" cy="933.5" r="7.8" fill="#55775f"/><circle cx="882.8" cy="932.5" r="7.6" fill="#55775f"/><circle cx="911.0" cy="944.7" r="6.3" fill="#92b69b"/><circle cx="904.2" cy="946.6" r="6.8" fill="#92b69b"/><circle cx="900.0" cy="941.0" r="6.4" fill="#92b69b"/><circle cx="896.6" cy="934.9" r="6.7" fill="#92b69b"/><circle cx="889.7" cy="933.5" r="6.5" fill="#92b69b"/><circle cx="882.8" cy="932.5" r="6.3" fill="#92b69b"/><circle cx="921.1" cy="793.4" r="8.4" fill="#5f8f6a"/><circle cx="920.6" cy="800.4" r="8.2" fill="#5f8f6a"/><circle cx="926.2" cy="804.5" r="7.5" fill="#5f8f6a"/><circle cx="933.2" cy="804.7" r="8.3" fill="#5f8f6a"/><circle cx="921.1" cy="793.4" r="7.1" fill="#cbf1d2"/><circle cx="920.6" cy="800.4" r="6.9" fill="#cbf1d2"/><circle cx="926.2" cy="804.5" r="6.2" fill="#cbf1d2"/><circle cx="933.2" cy="804.7" r="7.0" fill="#cbf1d2"/><circle cx="883.3" cy="789.2" r="7.4" fill="#5f8f6a"/><circle cx="888.7" cy="784.7" r="8.2" fill="#5f8f6a"/><circle cx="889.7" cy="777.8" r="7.8" fill="#5f8f6a"/><circle cx="887.3" cy="771.2" r="8.1" fill="#5f8f6a"/><circle cx="883.3" cy="789.2" r="6.1" fill="#c5f0cd"/><circle cx="888.7" cy="784.7" r="6.9" fill="#c5f0cd"/><circle cx="889.7" cy="777.8" r="6.5" fill="#c5f0cd"/><circle cx="887.3" cy="771.2" r="6.8" fill="#c5f0cd"/><circle cx="845.5" cy="755.0" r="7.3" fill="#5f8f6a"/><circle cx="840.6" cy="759.9" r="8.3" fill="#5f8f6a"/><circle cx="833.6" cy="760.9" r="7.4" fill="#5f8f6a"/><circle cx="832.1" cy="767.7" r="7.3" fill="#5f8f6a"/><circle cx="834.0" cy="774.4" r="8.1" fill="#5f8f6a"/><circle cx="845.5" cy="755.0" r="6.0" fill="#c5f0cd"/><circle cx="840.6" cy="759.9" r="7.0" fill="#c5f0cd"/><circle cx="833.6" cy="760.9" r="6.1" fill="#c5f0cd"/><circle cx="832.1" cy="767.7" r="6.0" fill="#c5f0cd"/><circle cx="834.0" cy="774.4" r="6.8" fill="#c5f0cd"/><circle cx="903.9" cy="914.1" r="8.3" fill="#55775f"/><circle cx="909.7" cy="918.0" r="8.4" fill="#55775f"/><circle cx="916.7" cy="918.3" r="8.4" fill="#55775f"/><circle cx="903.9" cy="914.1" r="7.0" fill="#88ad91"/><circle cx="909.7" cy="918.0" r="7.1" fill="#88ad91"/><circle cx="916.7" cy="918.3" r="7.1" fill="#88ad91"/><circle cx="927.0" cy="821.1" r="7.7" fill="#5f8f6a"/><circle cx="933.6" cy="823.5" r="8.5" fill="#5f8f6a"/><circle cx="939.7" cy="820.1" r="7.3" fill="#5f8f6a"/><circle cx="927.0" cy="821.1" r="6.4" fill="#bdeec6"/><circle cx="933.6" cy="823.5" r="7.2" fill="#bdeec6"/><circle cx="939.7" cy="820.1" r="6.0" fill="#bdeec6"/><circle cx="868.6" cy="807.3" r="8.3" fill="#5f8f6a"/><circle cx="872.8" cy="801.7" r="8.5" fill="#5f8f6a"/><circle cx="869.9" cy="795.4" r="7.4" fill="#5f8f6a"/><circle cx="868.6" cy="807.3" r="7.0" fill="#c5f0cd"/><circle cx="872.8" cy="801.7" r="7.2" fill="#c5f0cd"/><circle cx="869.9" cy="795.4" r="6.1" fill="#c5f0cd"/><circle cx="800.2" cy="815.2" r="8.1" fill="#5f8f6a"/><circle cx="800.5" cy="808.2" r="8.1" fill="#5f8f6a"/><circle cx="799.6" cy="801.3" r="7.4" fill="#5f8f6a"/><circle cx="800.2" cy="815.2" r="6.8" fill="#c5f0cd"/><circle cx="800.5" cy="808.2" r="6.8" fill="#c5f0cd"/><circle cx="799.6" cy="801.3" r="6.1" fill="#c5f0cd"/><circle cx="843.4" cy="809.0" r="7.9" fill="#5f8f6a"/><circle cx="849.1" cy="813.1" r="7.9" fill="#5f8f6a"/><circle cx="855.7" cy="810.7" r="8.2" fill="#5f8f6a"/><circle cx="862.4" cy="808.8" r="7.8" fill="#5f8f6a"/><circle cx="843.4" cy="809.0" r="6.6" fill="#b8ecc2"/><circle cx="849.1" cy="813.1" r="6.6" fill="#b8ecc2"/><circle cx="855.7" cy="810.7" r="6.9" fill="#b8ecc2"/><circle cx="862.4" cy="808.8" r="6.5" fill="#b8ecc2"/><circle cx="807.8" cy="897.3" r="7.4" fill="#5f8f6a"/><circle cx="801.3" cy="894.8" r="8.4" fill="#5f8f6a"/><circle cx="795.3" cy="898.4" r="8.4" fill="#5f8f6a"/><circle cx="791.5" cy="904.2" r="8.2" fill="#5f8f6a"/><circle cx="784.5" cy="904.2" r="7.3" fill="#5f8f6a"/><circle cx="807.8" cy="897.3" r="6.1" fill="#c5f0cd"/><circle cx="801.3" cy="894.8" r="7.1" fill="#c5f0cd"/><circle cx="795.3" cy="898.4" r="7.1" fill="#c5f0cd"/><circle cx="791.5" cy="904.2" r="6.9" fill="#c5f0cd"/><circle cx="784.5" cy="904.2" r="6.0" fill="#c5f0cd"/><circle cx="856.8" cy="834.9" r="8.2" fill="#5f8f6a"/><circle cx="858.1" cy="828.0" r="7.5" fill="#5f8f6a"/><circle cx="864.8" cy="826.2" r="7.8" fill="#5f8f6a"/><circle cx="871.8" cy="826.0" r="8.4" fill="#5f8f6a"/><circle cx="856.8" cy="834.9" r="6.9" fill="#b8ecc2"/><circle cx="858.1" cy="828.0" r="6.2" fill="#b8ecc2"/><circle cx="864.8" cy="826.2" r="6.5" fill="#b8ecc2"/><circle cx="871.8" cy="826.0" r="7.1" fill="#b8ecc2"/><circle cx="795.3" cy="921.7" r="8.4" fill="#5f8f6a"/><circle cx="800.4" cy="926.4" r="7.8" fill="#5f8f6a"/><circle cx="795.3" cy="921.7" r="7.1" fill="#b8ecc2"/><circle cx="800.4" cy="926.4" r="6.5" fill="#b8ecc2"/><circle cx="945.1" cy="786.9" r="8.3" fill="#5f8f6a"/><circle cx="941.5" cy="780.9" r="7.4" fill="#5f8f6a"/><circle cx="934.9" cy="778.6" r="7.9" fill="#5f8f6a"/><circle cx="928.0" cy="779.9" r="7.5" fill="#5f8f6a"/><circle cx="923.7" cy="785.4" r="8.2" fill="#5f8f6a"/><circle cx="945.1" cy="786.9" r="7.0" fill="#bdeec6"/><circle cx="941.5" cy="780.9" r="6.1" fill="#bdeec6"/><circle cx="934.9" cy="778.6" r="6.6" fill="#bdeec6"/><circle cx="928.0" cy="779.9" r="6.2" fill="#bdeec6"/><circle cx="923.7" cy="785.4" r="6.9" fill="#bdeec6"/><circle cx="880.6" cy="815.2" r="8.0" fill="#5f8f6a"/><circle cx="878.5" cy="808.5" r="8.0" fill="#5f8f6a"/><circle cx="881.4" cy="802.2" r="7.8" fill="#5f8f6a"/><circle cx="887.8" cy="799.5" r="8.4" fill="#5f8f6a"/><circle cx="880.6" cy="815.2" r="6.7" fill="#bdeec6"/><circle cx="878.5" cy="808.5" r="6.7" fill="#bdeec6"/><circle cx="881.4" cy="802.2" r="6.5" fill="#bdeec6"/><circle cx="887.8" cy="799.5" r="7.1" fill="#bdeec6"/><circle cx="899.3" cy="943.7" r="8.2" fill="#55775f"/><circle cx="906.3" cy="944.7" r="8.1" fill="#55775f"/><circle cx="911.6" cy="940.2" r="8.1" fill="#55775f"/><circle cx="918.6" cy="940.8" r="7.4" fill="#55775f"/><circle cx="925.6" cy="941.3" r="7.8" fill="#55775f"/><circle cx="929.1" cy="935.3" r="7.5" fill="#55775f"/><circle cx="899.3" cy="943.7" r="6.9" fill="#92b69b"/><circle cx="906.3" cy="944.7" r="6.8" fill="#92b69b"/><circle cx="911.6" cy="940.2" r="6.8" fill="#92b69b"/><circle cx="918.6" cy="940.8" r="6.1" fill="#92b69b"/><circle cx="925.6" cy="941.3" r="6.5" fill="#92b69b"/><circle cx="929.1" cy="935.3" r="6.2" fill="#92b69b"/><circle cx="909.5" cy="941.7" r="7.3" fill="#55775f"/><circle cx="912.0" cy="948.3" r="8.2" fill="#55775f"/><circle cx="915.1" cy="954.6" r="7.4" fill="#55775f"/><circle cx="909.5" cy="941.7" r="6.0" fill="#9cbfa4"/><circle cx="912.0" cy="948.3" r="6.9" fill="#9cbfa4"/><circle cx="915.1" cy="954.6" r="6.1" fill="#9cbfa4"/><circle cx="813.0" cy="892.5" r="8.3" fill="#5f8f6a"/><circle cx="814.2" cy="899.4" r="7.7" fill="#5f8f6a"/><circle cx="821.0" cy="901.1" r="7.1" fill="#5f8f6a"/><circle cx="826.4" cy="905.5" r="7.3" fill="#5f8f6a"/><circle cx="813.0" cy="892.5" r="7.0" fill="#b3eabd"/><circle cx="814.2" cy="899.4" r="6.4" fill="#b3eabd"/><circle cx="821.0" cy="901.1" r="5.8" fill="#b3eabd"/><circle cx="826.4" cy="905.5" r="6.0" fill="#b3eabd"/><circle cx="889.5" cy="851.7" r="8.1" fill="#5f8f6a"/><circle cx="882.5" cy="852.5" r="7.6" fill="#5f8f6a"/><circle cx="876.7" cy="848.6" r="7.9" fill="#5f8f6a"/><circle cx="871.6" cy="843.8" r="7.3" fill="#5f8f6a"/><circle cx="873.3" cy="837.0" r="8.0" fill="#5f8f6a"/><circle cx="875.9" cy="830.5" r="8.2" fill="#5f8f6a"/><circle cx="889.5" cy="851.7" r="6.8" fill="#c5f0cd"/><circle cx="882.5" cy="852.5" r="6.3" fill="#c5f0cd"/><circle cx="876.7" cy="848.6" r="6.6" fill="#c5f0cd"/><circle cx="871.6" cy="843.8" r="6.0" fill="#c5f0cd"/><circle cx="873.3" cy="837.0" r="6.7" fill="#c5f0cd"/><circle cx="875.9" cy="830.5" r="6.9" fill="#c5f0cd"/><circle cx="853.5" cy="955.3" r="7.8" fill="#5f8f6a"/><circle cx="860.0" cy="952.6" r="8.5" fill="#5f8f6a"/><circle cx="861.1" cy="945.7" r="7.7" fill="#5f8f6a"/><circle cx="856.0" cy="941.0" r="7.4" fill="#5f8f6a"/><circle cx="853.5" cy="955.3" r="6.5" fill="#b8ecc2"/><circle cx="860.0" cy="952.6" r="7.2" fill="#b8ecc2"/><circle cx="861.1" cy="945.7" r="6.4" fill="#b8ecc2"/><circle cx="856.0" cy="941.0" r="6.1" fill="#b8ecc2"/><circle cx="842.2" cy="867.2" r="8.2" fill="#5f8f6a"/><circle cx="839.4" cy="860.8" r="7.3" fill="#5f8f6a"/><circle cx="843.5" cy="855.1" r="7.9" fill="#5f8f6a"/><circle cx="844.1" cy="848.2" r="8.1" fill="#5f8f6a"/><circle cx="848.1" cy="842.4" r="7.4" fill="#5f8f6a"/><circle cx="845.3" cy="836.0" r="8.4" fill="#5f8f6a"/><circle cx="842.2" cy="867.2" r="6.9" fill="#bdeec6"/><circle cx="839.4" cy="860.8" r="6.0" fill="#bdeec6"/><circle cx="843.5" cy="855.1" r="6.6" fill="#bdeec6"/><circle cx="844.1" cy="848.2" r="6.8" fill="#bdeec6"/><circle cx="848.1" cy="842.4" r="6.1" fill="#bdeec6"/><circle cx="845.3" cy="836.0" r="7.1" fill="#bdeec6"/><circle cx="916.1" cy="888.1" r="8.0" fill="#55775f"/><circle cx="923.0" cy="889.3" r="7.7" fill="#55775f"/><circle cx="926.9" cy="895.2" r="7.6" fill="#55775f"/><circle cx="926.9" cy="902.2" r="8.5" fill="#55775f"/><circle cx="925.1" cy="909.0" r="8.4" fill="#55775f"/><circle cx="916.1" cy="888.1" r="6.7" fill="#9cbfa4"/><circle cx="923.0" cy="889.3" r="6.4" fill="#9cbfa4"/><circle cx="926.9" cy="895.2" r="6.3" fill="#9cbfa4"/><circle cx="926.9" cy="902.2" r="7.2" fill="#9cbfa4"/><circle cx="925.1" cy="909.0" r="7.1" fill="#9cbfa4"/><circle cx="814.8" cy="852.4" r="7.4" fill="#5f8f6a"/><circle cx="818.4" cy="846.4" r="7.7" fill="#5f8f6a"/><circle cx="825.0" cy="844.0" r="7.9" fill="#5f8f6a"/><circle cx="831.0" cy="840.5" r="7.1" fill="#5f8f6a"/><circle cx="814.8" cy="852.4" r="6.1" fill="#c5f0cd"/><circle cx="818.4" cy="846.4" r="6.4" fill="#c5f0cd"/><circle cx="825.0" cy="844.0" r="6.6" fill="#c5f0cd"/><circle cx="831.0" cy="840.5" r="5.8" fill="#c5f0cd"/><circle cx="846.3" cy="906.9" r="7.5" fill="#5f8f6a"/><circle cx="843.5" cy="900.5" r="8.1" fill="#5f8f6a"/><circle cx="842.6" cy="893.6" r="7.9" fill="#5f8f6a"/><circle cx="839.8" cy="887.2" r="7.9" fill="#5f8f6a"/><circle cx="846.3" cy="906.9" r="6.2" fill="#b3eabd"/><circle cx="843.5" cy="900.5" r="6.8" fill="#b3eabd"/><circle cx="842.6" cy="893.6" r="6.6" fill="#b3eabd"/><circle cx="839.8" cy="887.2" r="6.6" fill="#b3eabd"/><circle cx="796.3" cy="892.5" r="7.8" fill="#5f8f6a"/><circle cx="789.5" cy="894.3" r="8.2" fill="#5f8f6a"/><circle cx="787.1" cy="900.9" r="7.9" fill="#5f8f6a"/><circle cx="788.2" cy="907.8" r="7.6" fill="#5f8f6a"/><circle cx="796.3" cy="892.5" r="6.5" fill="#bdeec6"/><circle cx="789.5" cy="894.3" r="6.9" fill="#bdeec6"/><circle cx="787.1" cy="900.9" r="6.6" fill="#bdeec6"/><circle cx="788.2" cy="907.8" r="6.3" fill="#bdeec6"/><circle cx="852.8" cy="775.2" r="8.1" fill="#5f8f6a"/><circle cx="847.8" cy="770.3" r="7.3" fill="#5f8f6a"/><circle cx="842.1" cy="766.3" r="7.9" fill="#5f8f6a"/><circle cx="836.6" cy="762.0" r="7.6" fill="#5f8f6a"/><circle cx="837.1" cy="755.0" r="7.8" fill="#5f8f6a"/><circle cx="834.3" cy="748.6" r="7.5" fill="#5f8f6a"/><circle cx="852.8" cy="775.2" r="6.8" fill="#b3eabd"/><circle cx="847.8" cy="770.3" r="6.0" fill="#b3eabd"/><circle cx="842.1" cy="766.3" r="6.6" fill="#b3eabd"/><circle cx="836.6" cy="762.0" r="6.3" fill="#b3eabd"/><circle cx="837.1" cy="755.0" r="6.5" fill="#b3eabd"/><circle cx="834.3" cy="748.6" r="6.2" fill="#b3eabd"/><circle cx="828.2" cy="873.1" r="7.2" fill="#5f8f6a"/><circle cx="834.7" cy="870.3" r="7.4" fill="#5f8f6a"/><circle cx="836.9" cy="863.7" r="7.8" fill="#5f8f6a"/><circle cx="835.8" cy="856.8" r="8.3" fill="#5f8f6a"/><circle cx="828.2" cy="873.1" r="5.9" fill="#bdeec6"/><circle cx="834.7" cy="870.3" r="6.1" fill="#bdeec6"/><circle cx="836.9" cy="863.7" r="6.5" fill="#bdeec6"/><circle cx="835.8" cy="856.8" r="7.0" fill="#bdeec6"/><circle cx="879.2" cy="863.3" r="7.1" fill="#5f8f6a"/><circle cx="872.4" cy="864.6" r="7.2" fill="#5f8f6a"/><circle cx="865.4" cy="863.4" r="8.1" fill="#5f8f6a"/><circle cx="859.7" cy="859.4" r="7.6" fill="#5f8f6a"/><circle cx="857.0" cy="852.9" r="7.5" fill="#5f8f6a"/><circle cx="879.2" cy="863.3" r="5.8" fill="#bdeec6"/><circle cx="872.4" cy="864.6" r="5.9" fill="#bdeec6"/><circle cx="865.4" cy="863.4" r="6.8" fill="#bdeec6"/><circle cx="859.7" cy="859.4" r="6.3" fill="#bdeec6"/><circle cx="857.0" cy="852.9" r="6.2" fill="#bdeec6"/><circle cx="835.2" cy="930.1" r="7.3" fill="#5f8f6a"/><circle cx="837.2" cy="923.4" r="7.7" fill="#5f8f6a"/><circle cx="840.9" cy="917.5" r="7.8" fill="#5f8f6a"/><circle cx="847.6" cy="915.5" r="7.2" fill="#5f8f6a"/><circle cx="835.2" cy="930.1" r="6.0" fill="#b3eabd"/><circle cx="837.2" cy="923.4" r="6.4" fill="#b3eabd"/><circle cx="840.9" cy="917.5" r="6.5" fill="#b3eabd"/><circle cx="847.6" cy="915.5" r="5.9" fill="#b3eabd"/><circle cx="901.1" cy="758.0" r="8.0" fill="#5f8f6a"/><circle cx="896.0" cy="762.8" r="7.1" fill="#5f8f6a"/><circle cx="896.9" cy="769.7" r="7.6" fill="#5f8f6a"/><circle cx="893.6" cy="775.9" r="8.3" fill="#5f8f6a"/><circle cx="887.5" cy="779.4" r="8.1" fill="#5f8f6a"/><circle cx="901.1" cy="758.0" r="6.7" fill="#b8ecc2"/><circle cx="896.0" cy="762.8" r="5.8" fill="#b8ecc2"/><circle cx="896.9" cy="769.7" r="6.3" fill="#b8ecc2"/><circle cx="893.6" cy="775.9" r="7.0" fill="#b8ecc2"/><circle cx="887.5" cy="779.4" r="6.8" fill="#b8ecc2"/><circle cx="927.8" cy="919.3" r="7.6" fill="#55775f"/><circle cx="924.2" cy="913.3" r="8.0" fill="#55775f"/><circle cx="925.5" cy="906.5" r="7.6" fill="#55775f"/><circle cx="927.8" cy="919.3" r="6.3" fill="#a3c7aa"/><circle cx="924.2" cy="913.3" r="6.7" fill="#a3c7aa"/><circle cx="925.5" cy="906.5" r="6.3" fill="#a3c7aa"/><circle cx="812.4" cy="807.5" r="7.4" fill="#5f8f6a"/><circle cx="818.6" cy="810.7" r="8.3" fill="#5f8f6a"/><circle cx="818.8" cy="817.7" r="7.6" fill="#5f8f6a"/><circle cx="812.4" cy="807.5" r="6.1" fill="#b8ecc2"/><circle cx="818.6" cy="810.7" r="7.0" fill="#b8ecc2"/><circle cx="818.8" cy="817.7" r="6.3" fill="#b8ecc2"/><circle cx="846.9" cy="811.8" r="8.4" fill="#5f8f6a"/><circle cx="850.7" cy="806.0" r="8.0" fill="#5f8f6a"/><circle cx="857.0" cy="802.8" r="7.4" fill="#5f8f6a"/><circle cx="861.0" cy="797.1" r="7.8" fill="#5f8f6a"/><circle cx="858.9" cy="790.4" r="7.6" fill="#5f8f6a"/><circle cx="856.5" cy="783.9" r="7.8" fill="#5f8f6a"/><circle cx="846.9" cy="811.8" r="7.1" fill="#cbf1d2"/><circle cx="850.7" cy="806.0" r="6.7" fill="#cbf1d2"/><circle cx="857.0" cy="802.8" r="6.1" fill="#cbf1d2"/><circle cx="861.0" cy="797.1" r="6.5" fill="#cbf1d2"/><circle cx="858.9" cy="790.4" r="6.3" fill="#cbf1d2"/><circle cx="856.5" cy="783.9" r="6.5" fill="#cbf1d2"/><circle cx="841.9" cy="903.8" r="7.7" fill="#5f8f6a"/><circle cx="843.2" cy="896.9" r="7.5" fill="#5f8f6a"/><circle cx="849.7" cy="894.2" r="7.5" fill="#5f8f6a"/><circle cx="856.7" cy="893.8" r="7.5" fill="#5f8f6a"/><circle cx="862.5" cy="897.7" r="7.5" fill="#5f8f6a"/><circle cx="869.0" cy="894.9" r="7.9" fill="#5f8f6a"/><circle cx="841.9" cy="903.8" r="6.4" fill="#b8ecc2"/><circle cx="843.2" cy="896.9" r="6.2" fill="#b8ecc2"/><circle cx="849.7" cy="894.2" r="6.2" fill="#b8ecc2"/><circle cx="856.7" cy="893.8" r="6.2" fill="#b8ecc2"/><circle cx="862.5" cy="897.7" r="6.2" fill="#b8ecc2"/><circle cx="869.0" cy="894.9" r="6.6" fill="#b8ecc2"/><circle cx="796.4" cy="827.1" r="8.4" fill="#5f8f6a"/><circle cx="803.1" cy="824.9" r="8.2" fill="#5f8f6a"/><circle cx="804.4" cy="818.1" r="7.4" fill="#5f8f6a"/><circle cx="796.4" cy="827.1" r="7.1" fill="#b3eabd"/><circle cx="803.1" cy="824.9" r="6.9" fill="#b3eabd"/><circle cx="804.4" cy="818.1" r="6.1" fill="#b3eabd"/><circle cx="854.3" cy="787.4" r="7.5" fill="#5f8f6a"/><circle cx="847.4" cy="786.1" r="8.4" fill="#5f8f6a"/><circle cx="845.6" cy="779.3" r="7.9" fill="#5f8f6a"/><circle cx="854.3" cy="787.4" r="6.2" fill="#bdeec6"/><circle cx="847.4" cy="786.1" r="7.1" fill="#bdeec6"/><circle cx="845.6" cy="779.3" r="6.6" fill="#bdeec6"/><circle cx="878.9" cy="832.8" r="7.6" fill="#5f8f6a"/><circle cx="876.1" cy="839.2" r="7.7" fill="#5f8f6a"/><circle cx="877.5" cy="846.0" r="8.1" fill="#5f8f6a"/><circle cx="879.7" cy="852.7" r="7.8" fill="#5f8f6a"/><circle cx="886.2" cy="855.2" r="7.7" fill="#5f8f6a"/><circle cx="891.8" cy="851.1" r="7.9" fill="#5f8f6a"/><circle cx="878.9" cy="832.8" r="6.3" fill="#cbf1d2"/><circle cx="876.1" cy="839.2" r="6.4" fill="#cbf1d2"/><circle cx="877.5" cy="846.0" r="6.8" fill="#cbf1d2"/><circle cx="879.7" cy="852.7" r="6.5" fill="#cbf1d2"/><circle cx="886.2" cy="855.2" r="6.4" fill="#cbf1d2"/><circle cx="891.8" cy="851.1" r="6.6" fill="#cbf1d2"/><circle cx="880.6" cy="954.9" r="7.8" fill="#5f8f6a"/><circle cx="878.3" cy="948.3" r="7.8" fill="#5f8f6a"/><circle cx="872.4" cy="944.6" r="7.9" fill="#5f8f6a"/><circle cx="880.6" cy="954.9" r="6.5" fill="#b3eabd"/><circle cx="878.3" cy="948.3" r="6.5" fill="#b3eabd"/><circle cx="872.4" cy="944.6" r="6.6" fill="#b3eabd"/><circle cx="863.8" cy="751.9" r="7.6" fill="#5f8f6a"/><circle cx="862.4" cy="758.7" r="8.0" fill="#5f8f6a"/><circle cx="867.7" cy="763.3" r="7.4" fill="#5f8f6a"/><circle cx="874.0" cy="766.3" r="7.8" fill="#5f8f6a"/><circle cx="877.2" cy="772.5" r="7.8" fill="#5f8f6a"/><circle cx="881.2" cy="778.2" r="7.1" fill="#5f8f6a"/><circle cx="863.8" cy="751.9" r="6.3" fill="#b3eabd"/><circle cx="862.4" cy="758.7" r="6.7" fill="#b3eabd"/><circle cx="867.7" cy="763.3" r="6.1" fill="#b3eabd"/><circle cx="874.0" cy="766.3" r="6.5" fill="#b3eabd"/><circle cx="877.2" cy="772.5" r="6.5" fill="#b3eabd"/><circle cx="881.2" cy="778.2" r="5.8" fill="#b3eabd"/><circle cx="886.4" cy="942.2" r="7.5" fill="#5f8f6a"/><circle cx="879.6" cy="940.7" r="8.0" fill="#5f8f6a"/><circle cx="872.6" cy="940.4" r="8.5" fill="#5f8f6a"/><circle cx="886.4" cy="942.2" r="6.2" fill="#c5f0cd"/><circle cx="879.6" cy="940.7" r="6.7" fill="#c5f0cd"/><circle cx="872.6" cy="940.4" r="7.2" fill="#c5f0cd"/><circle cx="910.5" cy="921.3" r="8.3" fill="#55775f"/><circle cx="917.5" cy="920.5" r="8.2" fill="#55775f"/><circle cx="923.9" cy="917.8" r="8.5" fill="#55775f"/><circle cx="928.8" cy="922.8" r="7.4" fill="#55775f"/><circle cx="929.9" cy="929.7" r="7.3" fill="#55775f"/><circle cx="925.0" cy="934.7" r="7.3" fill="#55775f"/><circle cx="910.5" cy="921.3" r="7.0" fill="#a3c7aa"/><circle cx="917.5" cy="920.5" r="6.9" fill="#a3c7aa"/><circle cx="923.9" cy="917.8" r="7.2" fill="#a3c7aa"/><circle cx="928.8" cy="922.8" r="6.1" fill="#a3c7aa"/><circle cx="929.9" cy="929.7" r="6.0" fill="#a3c7aa"/><circle cx="925.0" cy="934.7" r="6.0" fill="#a3c7aa"/><circle cx="803.6" cy="914.0" r="7.5" fill="#5f8f6a"/><circle cx="798.2" cy="909.5" r="8.1" fill="#5f8f6a"/><circle cx="791.2" cy="909.3" r="7.8" fill="#5f8f6a"/><circle cx="803.6" cy="914.0" r="6.2" fill="#c5f0cd"/><circle cx="798.2" cy="909.5" r="6.8" fill="#c5f0cd"/><circle cx="791.2" cy="909.3" r="6.5" fill="#c5f0cd"/><circle cx="854.4" cy="795.1" r="7.4" fill="#5f8f6a"/><circle cx="853.1" cy="802.0" r="7.4" fill="#5f8f6a"/><circle cx="849.7" cy="808.1" r="7.9" fill="#5f8f6a"/><circle cx="843.3" cy="811.0" r="8.1" fill="#5f8f6a"/><circle cx="836.4" cy="809.6" r="7.2" fill="#5f8f6a"/><circle cx="854.4" cy="795.1" r="6.1" fill="#cbf1d2"/><circle cx="853.1" cy="802.0" r="6.1" fill="#cbf1d2"/><circle cx="849.7" cy="808.1" r="6.6" fill="#cbf1d2"/><circle cx="843.3" cy="811.0" r="6.8" fill="#cbf1d2"/><circle cx="836.4" cy="809.6" r="5.9" fill="#cbf1d2"/><circle cx="790.3" cy="892.2" r="7.1" fill="#5f8f6a"/><circle cx="793.2" cy="898.6" r="8.0" fill="#5f8f6a"/><circle cx="799.5" cy="901.4" r="7.9" fill="#5f8f6a"/><circle cx="804.7" cy="896.7" r="8.1" fill="#5f8f6a"/><circle cx="811.7" cy="897.1" r="8.1" fill="#5f8f6a"/><circle cx="814.5" cy="903.5" r="7.7" fill="#5f8f6a"/><circle cx="790.3" cy="892.2" r="5.8" fill="#b8ecc2"/><circle cx="793.2" cy="898.6" r="6.7" fill="#b8ecc2"/><circle cx="799.5" cy="901.4" r="6.6" fill="#b8ecc2"/><circle cx="804.7" cy="896.7" r="6.8" fill="#b8ecc2"/><circle cx="811.7" cy="897.1" r="6.8" fill="#b8ecc2"/><circle cx="814.5" cy="903.5" r="6.4" fill="#b8ecc2"/><circle cx="887.4" cy="763.8" r="7.6" fill="#5f8f6a"/><circle cx="881.6" cy="767.7" r="7.2" fill="#5f8f6a"/><circle cx="882.8" cy="774.7" r="7.8" fill="#5f8f6a"/><circle cx="888.3" cy="778.9" r="7.1" fill="#5f8f6a"/><circle cx="894.5" cy="782.2" r="8.0" fill="#5f8f6a"/><circle cx="887.4" cy="763.8" r="6.3" fill="#cbf1d2"/><circle cx="881.6" cy="767.7" r="5.9" fill="#cbf1d2"/><circle cx="882.8" cy="774.7" r="6.5" fill="#cbf1d2"/><circle cx="888.3" cy="778.9" r="5.8" fill="#cbf1d2"/><circle cx="894.5" cy="782.2" r="6.7" fill="#cbf1d2"/><circle cx="825.6" cy="907.7" r="7.2" fill="#5f8f6a"/><circle cx="826.0" cy="914.6" r="8.0" fill="#5f8f6a"/><circle cx="826.2" cy="921.6" r="8.1" fill="#5f8f6a"/><circle cx="819.9" cy="924.7" r="7.6" fill="#5f8f6a"/><circle cx="825.6" cy="907.7" r="5.9" fill="#cbf1d2"/><circle cx="826.0" cy="914.6" r="6.7" fill="#cbf1d2"/><circle cx="826.2" cy="921.6" r="6.8" fill="#cbf1d2"/><circle cx="819.9" cy="924.7" r="6.3" fill="#cbf1d2"/><circle cx="906.6" cy="753.0" r="8.3" fill="#5f8f6a"/><circle cx="908.2" cy="759.8" r="8.2" fill="#5f8f6a"/><circle cx="906.6" cy="753.0" r="7.0" fill="#b3eabd"/><circle cx="908.2" cy="759.8" r="6.9" fill="#b3eabd"/><circle cx="820.8" cy="864.5" r="7.2" fill="#5f8f6a"/><circle cx="816.6" cy="870.1" r="7.9" fill="#5f8f6a"/><circle cx="818.3" cy="876.9" r="7.3" fill="#5f8f6a"/><circle cx="820.8" cy="864.5" r="5.9" fill="#c5f0cd"/><circle cx="816.6" cy="870.1" r="6.6" fill="#c5f0cd"/><circle cx="818.3" cy="876.9" r="6.0" fill="#c5f0cd"/><circle cx="865.5" cy="896.4" r="7.8" fill="#5f8f6a"/><circle cx="872.4" cy="895.4" r="8.0" fill="#5f8f6a"/><circle cx="879.4" cy="894.5" r="8.0" fill="#5f8f6a"/><circle cx="886.3" cy="895.4" r="7.2" fill="#5f8f6a"/><circle cx="865.5" cy="896.4" r="6.5" fill="#c5f0cd"/><circle cx="872.4" cy="895.4" r="6.7" fill="#c5f0cd"/><circle cx="879.4" cy="894.5" r="6.7" fill="#c5f0cd"/><circle cx="886.3" cy="895.4" r="5.9" fill="#c5f0cd"/><circle cx="869.1" cy="740.9" r="8.2" fill="#5f8f6a"/><circle cx="862.1" cy="741.3" r="8.1" fill="#5f8f6a"/><circle cx="855.1" cy="740.7" r="7.8" fill="#5f8f6a"/><circle cx="848.2" cy="741.2" r="7.6" fill="#5f8f6a"/><circle cx="844.5" cy="747.1" r="8.2" fill="#5f8f6a"/><circle cx="869.1" cy="740.9" r="6.9" fill="#b8ecc2"/><circle cx="862.1" cy="741.3" r="6.8" fill="#b8ecc2"/><circle cx="855.1" cy="740.7" r="6.5" fill="#b8ecc2"/><circle cx="848.2" cy="741.2" r="6.3" fill="#b8ecc2"/><circle cx="844.5" cy="747.1" r="6.9" fill="#b8ecc2"/><circle cx="881.8" cy="796.2" r="7.1" fill="#5f8f6a"/><circle cx="882.6" cy="789.3" r="7.1" fill="#5f8f6a"/><circle cx="880.2" cy="782.7" r="7.8" fill="#5f8f6a"/><circle cx="873.8" cy="779.9" r="7.2" fill="#5f8f6a"/><circle cx="873.0" cy="772.9" r="7.7" fill="#5f8f6a"/><circle cx="866.7" cy="769.9" r="7.6" fill="#5f8f6a"/><circle cx="881.8" cy="796.2" r="5.8" fill="#bdeec6"/><circle cx="882.6" cy="789.3" r="5.8" fill="#bdeec6"/><circle cx="880.2" cy="782.7" r="6.5" fill="#bdeec6"/><circle cx="873.8" cy="779.9" r="5.9" fill="#bdeec6"/><circle cx="873.0" cy="772.9" r="6.4" fill="#bdeec6"/><circle cx="866.7" cy="769.9" r="6.3" fill="#bdeec6"/><circle cx="859.5" cy="903.5" r="8.1" fill="#5f8f6a"/><circle cx="854.5" cy="908.5" r="7.4" fill="#5f8f6a"/><circle cx="849.4" cy="913.3" r="7.5" fill="#5f8f6a"/><circle cx="842.4" cy="913.2" r="7.3" fill="#5f8f6a"/><circle cx="835.7" cy="915.2" r="7.4" fill="#5f8f6a"/><circle cx="829.6" cy="918.6" r="8.5" fill="#5f8f6a"/><circle cx="859.5" cy="903.5" r="6.8" fill="#c5f0cd"/><circle cx="854.5" cy="908.5" r="6.1" fill="#c5f0cd"/><circle cx="849.4" cy="913.3" r="6.2" fill="#c5f0cd"/><circle cx="842.4" cy="913.2" r="6.0" fill="#c5f0cd"/><circle cx="835.7" cy="915.2" r="6.1" fill="#c5f0cd"/><circle cx="829.6" cy="918.6" r="7.2" fill="#c5f0cd"/><circle cx="860.9" cy="746.7" r="8.2" fill="#5f8f6a"/><circle cx="867.7" cy="748.0" r="7.7" fill="#5f8f6a"/><circle cx="872.0" cy="742.5" r="7.4" fill="#5f8f6a"/><circle cx="878.6" cy="740.2" r="7.6" fill="#5f8f6a"/><circle cx="860.9" cy="746.7" r="6.9" fill="#b8ecc2"/><circle cx="867.7" cy="748.0" r="6.4" fill="#b8ecc2"/><circle cx="872.0" cy="742.5" r="6.1" fill="#b8ecc2"/><circle cx="878.6" cy="740.2" r="6.3" fill="#b8ecc2"/><circle cx="845.6" cy="811.4" r="7.4" fill="#5f8f6a"/><circle cx="851.8" cy="808.2" r="8.4" fill="#5f8f6a"/><circle cx="858.8" cy="808.9" r="8.1" fill="#5f8f6a"/><circle cx="865.0" cy="805.7" r="7.2" fill="#5f8f6a"/><circle cx="871.7" cy="807.8" r="8.0" fill="#5f8f6a"/><circle cx="877.4" cy="811.9" r="8.1" fill="#5f8f6a"/><circle cx="845.6" cy="811.4" r="6.1" fill="#b8ecc2"/><circle cx="851.8" cy="808.2" r="7.1" fill="#b8ecc2"/><circle cx="858.8" cy="808.9" r="6.8" fill="#b8ecc2"/><circle cx="865.0" cy="805.7" r="5.9" fill="#b8ecc2"/><circle cx="871.7" cy="807.8" r="6.7" fill="#b8ecc2"/><circle cx="877.4" cy="811.9" r="6.8" fill="#b8ecc2"/><circle cx="848.3" cy="878.5" r="8.3" fill="#5f8f6a"/><circle cx="846.9" cy="885.4" r="8.1" fill="#5f8f6a"/><circle cx="840.7" cy="888.6" r="7.7" fill="#5f8f6a"/><circle cx="834.6" cy="885.1" r="7.4" fill="#5f8f6a"/><circle cx="833.0" cy="878.3" r="8.1" fill="#5f8f6a"/><circle cx="848.3" cy="878.5" r="7.0" fill="#b8ecc2"/><circle cx="846.9" cy="885.4" r="6.8" fill="#b8ecc2"/><circle cx="840.7" cy="888.6" r="6.4" fill="#b8ecc2"/><circle cx="834.6" cy="885.1" r="6.1" fill="#b8ecc2"/><circle cx="833.0" cy="878.3" r="6.8" fill="#b8ecc2"/><circle cx="886.5" cy="863.8" r="7.7" fill="#5f8f6a"/><circle cx="892.7" cy="860.6" r="7.8" fill="#5f8f6a"/><circle cx="892.2" cy="853.6" r="7.5" fill="#5f8f6a"/><circle cx="885.7" cy="850.9" r="8.1" fill="#5f8f6a"/><circle cx="883.0" cy="844.5" r="8.0" fill="#5f8f6a"/><circle cx="886.5" cy="863.8" r="6.4" fill="#b3eabd"/><circle cx="892.7" cy="860.6" r="6.5" fill="#b3eabd"/><circle cx="892.2" cy="853.6" r="6.2" fill="#b3eabd"/><circle cx="885.7" cy="850.9" r="6.8" fill="#b3eabd"/><circle cx="883.0" cy="844.5" r="6.7" fill="#b3eabd"/><circle cx="868.0" cy="935.0" r="7.9" fill="#5f8f6a"/><circle cx="873.4" cy="930.7" r="7.8" fill="#5f8f6a"/><circle cx="880.4" cy="929.7" r="8.3" fill="#5f8f6a"/><circle cx="887.3" cy="930.6" r="7.3" fill="#5f8f6a"/><circle cx="893.8" cy="933.3" r="7.9" fill="#5f8f6a"/><circle cx="900.5" cy="931.5" r="8.5" fill="#5f8f6a"/><circle cx="868.0" cy="935.0" r="6.6" fill="#b8ecc2"/><circle cx="873.4" cy="930.7" r="6.5" fill="#b8ecc2"/><circle cx="880.4" cy="929.7" r="7.0" fill="#b8ecc2"/><circle cx="887.3" cy="930.6" r="6.0" fill="#b8ecc2"/><circle cx="893.8" cy="933.3" r="6.6" fill="#b8ecc2"/><circle cx="900.5" cy="931.5" r="7.2" fill="#b8ecc2"/><circle cx="787.9" cy="891.4" r="7.3" fill="#5f8f6a"/><circle cx="791.1" cy="897.6" r="7.9" fill="#5f8f6a"/><circle cx="796.7" cy="901.8" r="8.0" fill="#5f8f6a"/><circle cx="787.9" cy="891.4" r="6.0" fill="#b3eabd"/><circle cx="791.1" cy="897.6" r="6.6" fill="#b3eabd"/><circle cx="796.7" cy="901.8" r="6.7" fill="#b3eabd"/><circle cx="873.6" cy="858.1" r="8.1" fill="#5f8f6a"/><circle cx="871.2" cy="851.5" r="7.7" fill="#5f8f6a"/><circle cx="873.0" cy="844.7" r="8.2" fill="#5f8f6a"/><circle cx="870.8" cy="838.1" r="8.3" fill="#5f8f6a"/><circle cx="865.7" cy="833.2" r="7.1" fill="#5f8f6a"/><circle cx="873.6" cy="858.1" r="6.8" fill="#b8ecc2"/><circle cx="871.2" cy="851.5" r="6.4" fill="#b8ecc2"/><circle cx="873.0" cy="844.7" r="6.9" fill="#b8ecc2"/><circle cx="870.8" cy="838.1" r="7.0" fill="#b8ecc2"/><circle cx="865.7" cy="833.2" r="5.8" fill="#b8ecc2"/><circle cx="871.9" cy="942.2" r="7.2" fill="#5f8f6a"/><circle cx="865.0" cy="941.1" r="7.9" fill="#5f8f6a"/><circle cx="862.6" cy="934.5" r="8.5" fill="#5f8f6a"/><circle cx="857.6" cy="929.6" r="8.3" fill="#5f8f6a"/><circle cx="871.9" cy="942.2" r="5.9" fill="#b3eabd"/><circle cx="865.0" cy="941.1" r="6.6" fill="#b3eabd"/><circle cx="862.6" cy="934.5" r="7.2" fill="#b3eabd"/><circle cx="857.6" cy="929.6" r="7.0" fill="#b3eabd"/><circle cx="889.8" cy="838.6" r="8.1" fill="#5f8f6a"/><circle cx="891.8" cy="845.3" r="7.5" fill="#5f8f6a"/><circle cx="894.8" cy="851.7" r="8.1" fill="#5f8f6a"/><circle cx="889.8" cy="838.6" r="6.8" fill="#b3eabd"/><circle cx="891.8" cy="845.3" r="6.2" fill="#b3eabd"/><circle cx="894.8" cy="851.7" r="6.8" fill="#b3eabd"/><circle cx="872.4" cy="824.0" r="7.3" fill="#5f8f6a"/><circle cx="878.7" cy="827.0" r="7.3" fill="#5f8f6a"/><circle cx="885.0" cy="830.0" r="8.4" fill="#5f8f6a"/><circle cx="885.6" cy="837.0" r="7.5" fill="#5f8f6a"/><circle cx="888.6" cy="843.3" r="7.9" fill="#5f8f6a"/><circle cx="895.6" cy="843.0" r="7.5" fill="#5f8f6a"/><circle cx="872.4" cy="824.0" r="6.0" fill="#cbf1d2"/><circle cx="878.7" cy="827.0" r="6.0" fill="#cbf1d2"/><circle cx="885.0" cy="830.0" r="7.1" fill="#cbf1d2"/><circle cx="885.6" cy="837.0" r="6.2" fill="#cbf1d2"/><circle cx="888.6" cy="843.3" r="6.6" fill="#cbf1d2"/><circle cx="895.6" cy="843.0" r="6.2" fill="#cbf1d2"/><circle cx="856.7" cy="863.2" r="8.4" fill="#5f8f6a"/><circle cx="849.8" cy="862.2" r="7.9" fill="#5f8f6a"/><circle cx="843.8" cy="858.6" r="7.2" fill="#5f8f6a"/><circle cx="837.2" cy="856.2" r="7.6" fill="#5f8f6a"/><circle cx="856.7" cy="863.2" r="7.1" fill="#bdeec6"/><circle cx="849.8" cy="862.2" r="6.6" fill="#bdeec6"/><circle cx="843.8" cy="858.6" r="5.9" fill="#bdeec6"/><circle cx="837.2" cy="856.2" r="6.3" fill="#bdeec6"/><circle cx="921.9" cy="926.8" r="7.9" fill="#55775f"/><circle cx="925.0" cy="933.1" r="7.5" fill="#55775f"/><circle cx="929.1" cy="938.7" r="7.7" fill="#55775f"/><circle cx="921.9" cy="926.8" r="6.6" fill="#88ad91"/><circle cx="925.0" cy="933.1" r="6.2" fill="#88ad91"/><circle cx="929.1" cy="938.7" r="6.4" fill="#88ad91"/><circle cx="933.4" cy="852.3" r="7.9" fill="#5f8f6a"/><circle cx="929.6" cy="846.4" r="8.4" fill="#5f8f6a"/><circle cx="922.7" cy="845.7" r="7.4" fill="#5f8f6a"/><circle cx="933.4" cy="852.3" r="6.6" fill="#bdeec6"/><circle cx="929.6" cy="846.4" r="7.1" fill="#bdeec6"/><circle cx="922.7" cy="845.7" r="6.1" fill="#bdeec6"/><circle cx="919.2" cy="810.4" r="7.8" fill="#5f8f6a"/><circle cx="919.9" cy="817.4" r="7.3" fill="#5f8f6a"/><circle cx="919.2" cy="824.3" r="8.1" fill="#5f8f6a"/><circle cx="925.0" cy="828.2" r="7.7" fill="#5f8f6a"/><circle cx="923.9" cy="835.1" r="7.6" fill="#5f8f6a"/><circle cx="919.2" cy="810.4" r="6.5" fill="#bdeec6"/><circle cx="919.9" cy="817.4" r="6.0" fill="#bdeec6"/><circle cx="919.2" cy="824.3" r="6.8" fill="#bdeec6"/><circle cx="925.0" cy="828.2" r="6.4" fill="#bdeec6"/><circle cx="923.9" cy="835.1" r="6.3" fill="#bdeec6"/><circle cx="847.4" cy="880.3" r="7.5" fill="#5f8f6a"/><circle cx="841.1" cy="877.2" r="7.2" fill="#5f8f6a"/><circle cx="839.3" cy="870.5" r="8.0" fill="#5f8f6a"/><circle cx="843.6" cy="864.9" r="8.1" fill="#5f8f6a"/><circle cx="845.0" cy="858.1" r="7.2" fill="#5f8f6a"/><circle cx="847.4" cy="880.3" r="6.2" fill="#bdeec6"/><circle cx="841.1" cy="877.2" r="5.9" fill="#bdeec6"/><circle cx="839.3" cy="870.5" r="6.7" fill="#bdeec6"/><circle cx="843.6" cy="864.9" r="6.8" fill="#bdeec6"/><circle cx="845.0" cy="858.1" r="5.9" fill="#bdeec6"/><circle cx="830.4" cy="810.6" r="7.6" fill="#5f8f6a"/><circle cx="833.9" cy="804.5" r="8.2" fill="#5f8f6a"/><circle cx="834.1" cy="797.5" r="7.8" fill="#5f8f6a"/><circle cx="829.5" cy="792.2" r="7.2" fill="#5f8f6a"/><circle cx="831.8" cy="785.6" r="7.4" fill="#5f8f6a"/><circle cx="837.8" cy="782.0" r="7.6" fill="#5f8f6a"/><circle cx="830.4" cy="810.6" r="6.3" fill="#b3eabd"/><circle cx="833.9" cy="804.5" r="6.9" fill="#b3eabd"/><circle cx="834.1" cy="797.5" r="6.5" fill="#b3eabd"/><circle cx="829.5" cy="792.2" r="5.9" fill="#b3eabd"/><circle cx="831.8" cy="785.6" r="6.1" fill="#b3eabd"/><circle cx="837.8" cy="782.0" r="6.3" fill="#b3eabd"/><circle cx="942.7" cy="850.0" r="8.4" fill="#55775f"/><circle cx="949.2" cy="847.4" r="8.0" fill="#55775f"/><circle cx="955.2" cy="843.7" r="8.5" fill="#55775f"/><circle cx="942.7" cy="850.0" r="7.1" fill="#9cbfa4"/><circle cx="949.2" cy="847.4" r="6.7" fill="#9cbfa4"/><circle cx="955.2" cy="843.7" r="7.2" fill="#9cbfa4"/><circle cx="902.8" cy="807.3" r="7.3" fill="#5f8f6a"/><circle cx="898.7" cy="813.0" r="8.2" fill="#5f8f6a"/><circle cx="901.0" cy="819.6" r="8.4" fill="#5f8f6a"/><circle cx="902.8" cy="807.3" r="6.0" fill="#cbf1d2"/><circle cx="898.7" cy="813.0" r="6.9" fill="#cbf1d2"/><circle cx="901.0" cy="819.6" r="7.1" fill="#cbf1d2"/><circle cx="876.0" cy="751.5" r="7.2" fill="#5f8f6a"/><circle cx="882.8" cy="749.9" r="7.2" fill="#5f8f6a"/><circle cx="887.8" cy="745.0" r="8.4" fill="#5f8f6a"/><circle cx="893.3" cy="740.7" r="8.4" fill="#5f8f6a"/><circle cx="899.5" cy="744.0" r="7.3" fill="#5f8f6a"/><circle cx="876.0" cy="751.5" r="5.9" fill="#bdeec6"/><circle cx="882.8" cy="749.9" r="5.9" fill="#bdeec6"/><circle cx="887.8" cy="745.0" r="7.1" fill="#bdeec6"/><circle cx="893.3" cy="740.7" r="7.1" fill="#bdeec6"/><circle cx="899.5" cy="744.0" r="6.0" fill="#bdeec6"/><circle cx="814.9" cy="851.9" r="7.3" fill="#5f8f6a"/><circle cx="821.9" cy="850.9" r="8.2" fill="#5f8f6a"/><circle cx="826.2" cy="845.4" r="8.1" fill="#5f8f6a"/><circle cx="825.7" cy="838.5" r="7.7" fill="#5f8f6a"/><circle cx="830.9" cy="833.8" r="8.2" fill="#5f8f6a"/><circle cx="837.7" cy="832.3" r="7.2" fill="#5f8f6a"/><circle cx="814.9" cy="851.9" r="6.0" fill="#bdeec6"/><circle cx="821.9" cy="850.9" r="6.9" fill="#bdeec6"/><circle cx="826.2" cy="845.4" r="6.8" fill="#bdeec6"/><circle cx="825.7" cy="838.5" r="6.4" fill="#bdeec6"/><circle cx="830.9" cy="833.8" r="6.9" fill="#bdeec6"/><circle cx="837.7" cy="832.3" r="5.9" fill="#bdeec6"/><circle cx="935.2" cy="881.4" r="7.5" fill="#55775f"/><circle cx="936.4" cy="888.3" r="8.3" fill="#55775f"/><circle cx="933.5" cy="894.7" r="8.1" fill="#55775f"/><circle cx="934.6" cy="901.6" r="7.9" fill="#55775f"/><circle cx="936.2" cy="908.4" r="7.9" fill="#55775f"/><circle cx="935.2" cy="881.4" r="6.2" fill="#a3c7aa"/><circle cx="936.4" cy="888.3" r="7.0" fill="#a3c7aa"/><circle cx="933.5" cy="894.7" r="6.8" fill="#a3c7aa"/><circle cx="934.6" cy="901.6" r="6.6" fill="#a3c7aa"/><circle cx="936.2" cy="908.4" r="6.6" fill="#a3c7aa"/><circle cx="917.1" cy="872.9" r="7.8" fill="#55775f"/><circle cx="922.3" cy="877.7" r="7.3" fill="#55775f"/><circle cx="920.5" cy="884.4" r="8.1" fill="#55775f"/><circle cx="915.1" cy="888.8" r="7.2" fill="#55775f"/><circle cx="917.1" cy="872.9" r="6.5" fill="#92b69b"/><circle cx="922.3" cy="877.7" r="6.0" fill="#92b69b"/><circle cx="920.5" cy="884.4" r="6.8" fill="#92b69b"/><circle cx="915.1" cy="888.8" r="5.9" fill="#92b69b"/><circle cx="858.8" cy="786.5" r="7.5" fill="#5f8f6a"/><circle cx="855.3" cy="792.6" r="8.3" fill="#5f8f6a"/><circle cx="855.7" cy="799.6" r="7.5" fill="#5f8f6a"/><circle cx="858.8" cy="786.5" r="6.2" fill="#c5f0cd"/><circle cx="855.3" cy="792.6" r="7.0" fill="#c5f0cd"/><circle cx="855.7" cy="799.6" r="6.2" fill="#c5f0cd"/><circle cx="862.3" cy="889.7" r="7.8" fill="#5f8f6a"/><circle cx="858.2" cy="884.0" r="7.4" fill="#5f8f6a"/><circle cx="855.3" cy="877.6" r="7.8" fill="#5f8f6a"/><circle cx="849.3" cy="874.0" r="7.7" fill="#5f8f6a"/><circle cx="842.5" cy="872.6" r="7.3" fill="#5f8f6a"/><circle cx="838.0" cy="878.0" r="7.9" fill="#5f8f6a"/><circle cx="862.3" cy="889.7" r="6.5" fill="#c5f0cd"/><circle cx="858.2" cy="884.0" r="6.1" fill="#c5f0cd"/><circle cx="855.3" cy="877.6" r="6.5" fill="#c5f0cd"/><circle cx="849.3" cy="874.0" r="6.4" fill="#c5f0cd"/><circle cx="842.5" cy="872.6" r="6.0" fill="#c5f0cd"/><circle cx="838.0" cy="878.0" r="6.6" fill="#c5f0cd"/><circle cx="910.0" cy="760.5" r="7.8" fill="#5f8f6a"/><circle cx="916.5" cy="763.1" r="7.8" fill="#5f8f6a"/><circle cx="910.0" cy="760.5" r="6.5" fill="#b8ecc2"/><circle cx="916.5" cy="763.1" r="6.5" fill="#b8ecc2"/><circle cx="873.0" cy="872.7" r="8.1" fill="#5f8f6a"/><circle cx="872.9" cy="865.7" r="7.3" fill="#5f8f6a"/><circle cx="867.5" cy="861.3" r="7.2" fill="#5f8f6a"/><circle cx="873.0" cy="872.7" r="6.8" fill="#b8ecc2"/><circle cx="872.9" cy="865.7" r="6.0" fill="#b8ecc2"/><circle cx="867.5" cy="861.3" r="5.9" fill="#b8ecc2"/><circle cx="854.1" cy="828.6" r="7.9" fill="#5f8f6a"/><circle cx="859.7" cy="824.4" r="7.8" fill="#5f8f6a"/><circle cx="861.0" cy="817.5" r="7.2" fill="#5f8f6a"/><circle cx="867.7" cy="815.4" r="7.4" fill="#5f8f6a"/><circle cx="854.1" cy="828.6" r="6.6" fill="#c5f0cd"/><circle cx="859.7" cy="824.4" r="6.5" fill="#c5f0cd"/><circle cx="861.0" cy="817.5" r="5.9" fill="#c5f0cd"/><circle cx="867.7" cy="815.4" r="6.1" fill="#c5f0cd"/><circle cx="853.7" cy="797.7" r="7.4" fill="#5f8f6a"/><circle cx="854.1" cy="790.7" r="7.3" fill="#5f8f6a"/><circle cx="858.2" cy="785.1" r="8.4" fill="#5f8f6a"/><circle cx="862.4" cy="779.4" r="7.5" fill="#5f8f6a"/><circle cx="868.7" cy="776.5" r="7.4" fill="#5f8f6a"/><circle cx="875.6" cy="775.5" r="7.7" fill="#5f8f6a"/><circle cx="853.7" cy="797.7" r="6.1" fill="#b8ecc2"/><circle cx="854.1" cy="790.7" r="6.0" fill="#b8ecc2"/><circle cx="858.2" cy="785.1" r="7.1" fill="#b8ecc2"/><circle cx="862.4" cy="779.4" r="6.2" fill="#b8ecc2"/><circle cx="868.7" cy="776.5" r="6.1" fill="#b8ecc2"/><circle cx="875.6" cy="775.5" r="6.4" fill="#b8ecc2"/><circle cx="924.1" cy="769.1" r="8.4" fill="#5f8f6a"/><circle cx="917.1" cy="768.7" r="7.9" fill="#5f8f6a"/><circle cx="910.1" cy="768.6" r="7.6" fill="#5f8f6a"/><circle cx="924.1" cy="769.1" r="7.1" fill="#bdeec6"/><circle cx="917.1" cy="768.7" r="6.6" fill="#bdeec6"/><circle cx="910.1" cy="768.6" r="6.3" fill="#bdeec6"/><circle cx="862.6" cy="819.0" r="7.2" fill="#5f8f6a"/><circle cx="864.0" cy="825.8" r="8.4" fill="#5f8f6a"/><circle cx="870.2" cy="829.0" r="7.7" fill="#5f8f6a"/><circle cx="862.6" cy="819.0" r="5.9" fill="#b8ecc2"/><circle cx="864.0" cy="825.8" r="7.1" fill="#b8ecc2"/><circle cx="870.2" cy="829.0" r="6.4" fill="#b8ecc2"/><circle cx="934.6" cy="787.5" r="8.0" fill="#5f8f6a"/><circle cx="936.1" cy="780.7" r="8.2" fill="#5f8f6a"/><circle cx="939.9" cy="774.8" r="7.5" fill="#5f8f6a"/><circle cx="934.6" cy="787.5" r="6.7" fill="#b8ecc2"/><circle cx="936.1" cy="780.7" r="6.9" fill="#b8ecc2"/><circle cx="939.9" cy="774.8" r="6.2" fill="#b8ecc2"/><circle cx="818.6" cy="795.8" r="8.1" fill="#5f8f6a"/><circle cx="825.4" cy="797.6" r="8.0" fill="#5f8f6a"/><circle cx="830.0" cy="802.8" r="8.1" fill="#5f8f6a"/><circle cx="834.6" cy="808.1" r="8.1" fill="#5f8f6a"/><circle cx="818.6" cy="795.8" r="6.8" fill="#b8ecc2"/><circle cx="825.4" cy="797.6" r="6.7" fill="#b8ecc2"/><circle cx="830.0" cy="802.8" r="6.8" fill="#b8ecc2"/><circle cx="834.6" cy="808.1" r="6.8" fill="#b8ecc2"/><circle cx="856.9" cy="803.4" r="8.5" fill="#5f8f6a"/><circle cx="857.2" cy="796.4" r="8.0" fill="#5f8f6a"/><circle cx="858.4" cy="789.5" r="7.4" fill="#5f8f6a"/><circle cx="863.9" cy="785.1" r="8.3" fill="#5f8f6a"/><circle cx="870.9" cy="785.2" r="8.0" fill="#5f8f6a"/><circle cx="856.9" cy="803.4" r="7.2" fill="#c5f0cd"/><circle cx="857.2" cy="796.4" r="6.7" fill="#c5f0cd"/><circle cx="858.4" cy="789.5" r="6.1" fill="#c5f0cd"/><circle cx="863.9" cy="785.1" r="7.0" fill="#c5f0cd"/><circle cx="870.9" cy="785.2" r="6.7" fill="#c5f0cd"/><circle cx="911.1" cy="939.8" r="8.3" fill="#55775f"/><circle cx="905.6" cy="944.0" r="7.5" fill="#55775f"/><circle cx="906.6" cy="951.0" r="7.5" fill="#55775f"/><circle cx="911.1" cy="939.8" r="7.0" fill="#88ad91"/><circle cx="905.6" cy="944.0" r="6.2" fill="#88ad91"/><circle cx="906.6" cy="951.0" r="6.2" fill="#88ad91"/><circle cx="795.8" cy="838.7" r="7.9" fill="#5f8f6a"/><circle cx="795.5" cy="845.7" r="7.7" fill="#5f8f6a"/><circle cx="790.7" cy="850.9" r="7.4" fill="#5f8f6a"/><circle cx="795.8" cy="838.7" r="6.6" fill="#b8ecc2"/><circle cx="795.5" cy="845.7" r="6.4" fill="#b8ecc2"/><circle cx="790.7" cy="850.9" r="6.1" fill="#b8ecc2"/><circle cx="892.0" cy="926.5" r="7.4" fill="#5f8f6a"/><circle cx="885.6" cy="929.5" r="7.3" fill="#5f8f6a"/><circle cx="879.4" cy="926.2" r="7.3" fill="#5f8f6a"/><circle cx="880.1" cy="919.2" r="7.9" fill="#5f8f6a"/><circle cx="892.0" cy="926.5" r="6.1" fill="#c5f0cd"/><circle cx="885.6" cy="929.5" r="6.0" fill="#c5f0cd"/><circle cx="879.4" cy="926.2" r="6.0" fill="#c5f0cd"/><circle cx="880.1" cy="919.2" r="6.6" fill="#c5f0cd"/><circle cx="839.2" cy="755.3" r="8.2" fill="#5f8f6a"/><circle cx="839.5" cy="762.3" r="8.3" fill="#5f8f6a"/><circle cx="841.5" cy="769.0" r="7.9" fill="#5f8f6a"/><circle cx="839.2" cy="755.3" r="6.9" fill="#bdeec6"/><circle cx="839.5" cy="762.3" r="7.0" fill="#bdeec6"/><circle cx="841.5" cy="769.0" r="6.6" fill="#bdeec6"/><circle cx="810.9" cy="935.1" r="7.6" fill="#5f8f6a"/><circle cx="804.1" cy="933.2" r="7.6" fill="#5f8f6a"/><circle cx="798.9" cy="928.6" r="8.4" fill="#5f8f6a"/><circle cx="810.9" cy="935.1" r="6.3" fill="#cbf1d2"/><circle cx="804.1" cy="933.2" r="6.3" fill="#cbf1d2"/><circle cx="798.9" cy="928.6" r="7.1" fill="#cbf1d2"/><circle cx="816.4" cy="825.8" r="7.6" fill="#5f8f6a"/><circle cx="811.5" cy="820.8" r="7.3" fill="#5f8f6a"/><circle cx="804.7" cy="819.0" r="8.2" fill="#5f8f6a"/><circle cx="798.1" cy="816.9" r="7.5" fill="#5f8f6a"/><circle cx="816.4" cy="825.8" r="6.3" fill="#b3eabd"/><circle cx="811.5" cy="820.8" r="6.0" fill="#b3eabd"/><circle cx="804.7" cy="819.0" r="6.9" fill="#b3eabd"/><circle cx="798.1" cy="816.9" r="6.2" fill="#b3eabd"/><circle cx="932.0" cy="794.1" r="7.7" fill="#5f8f6a"/><circle cx="931.9" cy="801.1" r="8.4" fill="#5f8f6a"/><circle cx="927.3" cy="806.4" r="7.2" fill="#5f8f6a"/><circle cx="923.9" cy="812.5" r="8.4" fill="#5f8f6a"/><circle cx="932.0" cy="794.1" r="6.4" fill="#bdeec6"/><circle cx="931.9" cy="801.1" r="7.1" fill="#bdeec6"/><circle cx="927.3" cy="806.4" r="5.9" fill="#bdeec6"/><circle cx="923.9" cy="812.5" r="7.1" fill="#bdeec6"/><circle cx="898.7" cy="885.4" r="7.7" fill="#55775f"/><circle cx="905.6" cy="884.1" r="7.9" fill="#55775f"/><circle cx="910.0" cy="878.7" r="8.3" fill="#55775f"/><circle cx="915.4" cy="874.2" r="7.4" fill="#55775f"/><circle cx="922.3" cy="873.0" r="7.4" fill="#55775f"/><circle cx="927.6" cy="877.5" r="8.2" fill="#55775f"/><circle cx="898.7" cy="885.4" r="6.4" fill="#a3c7aa"/><circle cx="905.6" cy="884.1" r="6.6" fill="#a3c7aa"/><circle cx="910.0" cy="878.7" r="7.0" fill="#a3c7aa"/><circle cx="915.4" cy="874.2" r="6.1" fill="#a3c7aa"/><circle cx="922.3" cy="873.0" r="6.1" fill="#a3c7aa"/><circle cx="927.6" cy="877.5" r="6.9" fill="#a3c7aa"/><circle cx="893.8" cy="897.1" r="8.3" fill="#5f8f6a"/><circle cx="886.8" cy="897.9" r="8.2" fill="#5f8f6a"/><circle cx="882.4" cy="903.3" r="7.8" fill="#5f8f6a"/><circle cx="877.4" cy="908.2" r="8.3" fill="#5f8f6a"/><circle cx="893.8" cy="897.1" r="7.0" fill="#c5f0cd"/><circle cx="886.8" cy="897.9" r="6.9" fill="#c5f0cd"/><circle cx="882.4" cy="903.3" r="6.5" fill="#c5f0cd"/><circle cx="877.4" cy="908.2" r="7.0" fill="#c5f0cd"/><circle cx="907.2" cy="952.9" r="7.5" fill="#55775f"/><circle cx="913.3" cy="949.5" r="8.2" fill="#55775f"/><circle cx="920.0" cy="951.4" r="7.7" fill="#55775f"/><circle cx="927.0" cy="950.5" r="7.3" fill="#55775f"/><circle cx="933.9" cy="949.6" r="8.4" fill="#55775f"/><circle cx="907.2" cy="952.9" r="6.2" fill="#92b69b"/><circle cx="913.3" cy="949.5" r="6.9" fill="#92b69b"/><circle cx="920.0" cy="951.4" r="6.4" fill="#92b69b"/><circle cx="927.0" cy="950.5" r="6.0" fill="#92b69b"/><circle cx="933.9" cy="949.6" r="7.1" fill="#92b69b"/><circle cx="916.8" cy="843.3" r="7.4" fill="#5f8f6a"/><circle cx="923.5" cy="841.2" r="7.5" fill="#5f8f6a"/><circle cx="928.7" cy="836.6" r="7.3" fill="#5f8f6a"/><circle cx="935.2" cy="839.3" r="8.1" fill="#5f8f6a"/><circle cx="942.0" cy="840.7" r="7.9" fill="#5f8f6a"/><circle cx="949.0" cy="840.3" r="8.1" fill="#5f8f6a"/><circle cx="916.8" cy="843.3" r="6.1" fill="#c5f0cd"/><circle cx="923.5" cy="841.2" r="6.2" fill="#c5f0cd"/><circle cx="928.7" cy="836.6" r="6.0" fill="#c5f0cd"/><circle cx="935.2" cy="839.3" r="6.8" fill="#c5f0cd"/><circle cx="942.0" cy="840.7" r="6.6" fill="#c5f0cd"/><circle cx="949.0" cy="840.3" r="6.8" fill="#c5f0cd"/><circle cx="879.9" cy="959.9" r="7.5" fill="#55775f"/><circle cx="886.4" cy="957.2" r="8.1" fill="#55775f"/><circle cx="892.9" cy="959.8" r="7.4" fill="#55775f"/><circle cx="898.5" cy="955.5" r="7.1" fill="#55775f"/><circle cx="904.4" cy="951.7" r="7.1" fill="#55775f"/><circle cx="906.6" cy="945.1" r="7.3" fill="#55775f"/><circle cx="879.9" cy="959.9" r="6.2" fill="#88ad91"/><circle cx="886.4" cy="957.2" r="6.8" fill="#88ad91"/><circle cx="892.9" cy="959.8" r="6.1" fill="#88ad91"/><circle cx="898.5" cy="955.5" r="5.8" fill="#88ad91"/><circle cx="904.4" cy="951.7" r="5.8" fill="#88ad91"/><circle cx="906.6" cy="945.1" r="6.0" fill="#88ad91"/><circle cx="899.7" cy="870.5" r="7.7" fill="#5f8f6a"/><circle cx="906.2" cy="873.0" r="7.4" fill="#5f8f6a"/><circle cx="913.2" cy="872.6" r="7.2" fill="#5f8f6a"/><circle cx="918.1" cy="877.6" r="8.0" fill="#5f8f6a"/><circle cx="918.9" cy="884.6" r="7.5" fill="#5f8f6a"/><circle cx="899.7" cy="870.5" r="6.4" fill="#b8ecc2"/><circle cx="906.2" cy="873.0" r="6.1" fill="#b8ecc2"/><circle cx="913.2" cy="872.6" r="5.9" fill="#b8ecc2"/><circle cx="918.1" cy="877.6" r="6.7" fill="#b8ecc2"/><circle cx="918.9" cy="884.6" r="6.2" fill="#b8ecc2"/><circle cx="833.6" cy="889.9" r="8.3" fill="#5f8f6a"/><circle cx="834.7" cy="896.8" r="8.4" fill="#5f8f6a"/><circle cx="830.0" cy="902.0" r="8.0" fill="#5f8f6a"/><circle cx="833.6" cy="889.9" r="7.0" fill="#c5f0cd"/><circle cx="834.7" cy="896.8" r="7.1" fill="#c5f0cd"/><circle cx="830.0" cy="902.0" r="6.7" fill="#c5f0cd"/><circle cx="902.8" cy="751.8" r="7.9" fill="#5f8f6a"/><circle cx="897.7" cy="756.7" r="7.4" fill="#5f8f6a"/><circle cx="895.4" cy="763.3" r="7.9" fill="#5f8f6a"/><circle cx="894.3" cy="770.2" r="7.2" fill="#5f8f6a"/><circle cx="891.3" cy="776.5" r="8.4" fill="#5f8f6a"/><circle cx="887.3" cy="782.3" r="8.4" fill="#5f8f6a"/><circle cx="902.8" cy="751.8" r="6.6" fill="#bdeec6"/><circle cx="897.7" cy="756.7" r="6.1" fill="#bdeec6"/><circle cx="895.4" cy="763.3" r="6.6" fill="#bdeec6"/><circle cx="894.3" cy="770.2" r="5.9" fill="#bdeec6"/><circle cx="891.3" cy="776.5" r="7.1" fill="#bdeec6"/><circle cx="887.3" cy="782.3" r="7.1" fill="#bdeec6"/><circle cx="956.4" cy="852.4" r="7.8" fill="#55775f"/><circle cx="956.4" cy="852.4" r="6.5" fill="#9cbfa4"/><circle cx="846.0" cy="828.4" r="7.9" fill="#5f8f6a"/><circle cx="853.0" cy="828.5" r="8.3" fill="#5f8f6a"/><circle cx="859.6" cy="826.0" r="7.9" fill="#5f8f6a"/><circle cx="863.0" cy="819.9" r="8.2" fill="#5f8f6a"/><circle cx="868.7" cy="815.8" r="7.6" fill="#5f8f6a"/><circle cx="873.9" cy="811.2" r="7.6" fill="#5f8f6a"/><circle cx="846.0" cy="828.4" r="6.6" fill="#cbf1d2"/><circle cx="853.0" cy="828.5" r="7.0" fill="#cbf1d2"/><circle cx="859.6" cy="826.0" r="6.6" fill="#cbf1d2"/><circle cx="863.0" cy="819.9" r="6.9" fill="#cbf1d2"/><circle cx="868.7" cy="815.8" r="6.3" fill="#cbf1d2"/><circle cx="873.9" cy="811.2" r="6.3" fill="#cbf1d2"/><circle cx="837.0" cy="891.9" r="7.9" fill="#5f8f6a"/><circle cx="830.0" cy="892.3" r="7.4" fill="#5f8f6a"/><circle cx="825.5" cy="887.0" r="7.8" fill="#5f8f6a"/><circle cx="837.0" cy="891.9" r="6.6" fill="#c5f0cd"/><circle cx="830.0" cy="892.3" r="6.1" fill="#c5f0cd"/><circle cx="825.5" cy="887.0" r="6.5" fill="#c5f0cd"/><circle cx="833.6" cy="839.2" r="7.5" fill="#5f8f6a"/><circle cx="839.1" cy="834.9" r="8.1" fill="#5f8f6a"/><circle cx="838.6" cy="827.9" r="7.2" fill="#5f8f6a"/><circle cx="838.3" cy="820.9" r="8.4" fill="#5f8f6a"/><circle cx="843.7" cy="816.4" r="7.8" fill="#5f8f6a"/><circle cx="833.6" cy="839.2" r="6.2" fill="#cbf1d2"/><circle cx="839.1" cy="834.9" r="6.8" fill="#cbf1d2"/><circle cx="838.6" cy="827.9" r="5.9" fill="#cbf1d2"/><circle cx="838.3" cy="820.9" r="7.1" fill="#cbf1d2"/><circle cx="843.7" cy="816.4" r="6.5" fill="#cbf1d2"/><circle cx="852.8" cy="777.7" r="7.2" fill="#5f8f6a"/><circle cx="846.8" cy="774.2" r="7.9" fill="#5f8f6a"/><circle cx="840.7" cy="777.6" r="8.2" fill="#5f8f6a"/><circle cx="836.6" cy="783.3" r="7.5" fill="#5f8f6a"/><circle cx="839.8" cy="789.5" r="7.2" fill="#5f8f6a"/><circle cx="838.3" cy="796.3" r="7.6" fill="#5f8f6a"/><circle cx="852.8" cy="777.7" r="5.9" fill="#b8ecc2"/><circle cx="846.8" cy="774.2" r="6.6" fill="#b8ecc2"/><circle cx="840.7" cy="777.6" r="6.9" fill="#b8ecc2"/><circle cx="836.6" cy="783.3" r="6.2" fill="#b8ecc2"/><circle cx="839.8" cy="789.5" r="5.9" fill="#b8ecc2"/><circle cx="838.3" cy="796.3" r="6.3" fill="#b8ecc2"/><circle cx="854.3" cy="951.0" r="7.2" fill="#5f8f6a"/><circle cx="860.3" cy="954.6" r="7.6" fill="#5f8f6a"/><circle cx="854.3" cy="951.0" r="5.9" fill="#bdeec6"/><circle cx="860.3" cy="954.6" r="6.3" fill="#bdeec6"/><circle cx="916.5" cy="942.9" r="7.1" fill="#55775f"/><circle cx="923.5" cy="942.4" r="7.7" fill="#55775f"/><circle cx="929.4" cy="938.7" r="8.0" fill="#55775f"/><circle cx="916.5" cy="942.9" r="5.8" fill="#88ad91"/><circle cx="923.5" cy="942.4" r="6.4" fill="#88ad91"/><circle cx="929.4" cy="938.7" r="6.7" fill="#88ad91"/><circle cx="856.3" cy="786.0" r="7.7" fill="#5f8f6a"/><circle cx="854.0" cy="792.6" r="8.1" fill="#5f8f6a"/><circle cx="854.4" cy="799.6" r="8.2" fill="#5f8f6a"/><circle cx="851.7" cy="806.1" r="8.3" fill="#5f8f6a"/><circle cx="848.8" cy="812.4" r="7.4" fill="#5f8f6a"/><circle cx="856.3" cy="786.0" r="6.4" fill="#bdeec6"/><circle cx="854.0" cy="792.6" r="6.8" fill="#bdeec6"/><circle cx="854.4" cy="799.6" r="6.9" fill="#bdeec6"/><circle cx="851.7" cy="806.1" r="7.0" fill="#bdeec6"/><circle cx="848.8" cy="812.4" r="6.1" fill="#bdeec6"/><circle cx="934.7" cy="928.1" r="8.2" fill="#55775f"/><circle cx="927.7" cy="928.3" r="7.8" fill="#55775f"/><circle cx="920.8" cy="928.9" r="7.7" fill="#55775f"/><circle cx="934.7" cy="928.1" r="6.9" fill="#92b69b"/><circle cx="927.7" cy="928.3" r="6.5" fill="#92b69b"/><circle cx="920.8" cy="928.9" r="6.4" fill="#92b69b"/><circle cx="835.4" cy="877.6" r="8.5" fill="#5f8f6a"/><circle cx="841.9" cy="880.3" r="8.2" fill="#5f8f6a"/><circle cx="845.3" cy="886.4" r="7.8" fill="#5f8f6a"/><circle cx="841.6" cy="892.3" r="8.4" fill="#5f8f6a"/><circle cx="834.6" cy="892.0" r="8.3" fill="#5f8f6a"/><circle cx="835.4" cy="877.6" r="7.2" fill="#b8ecc2"/><circle cx="841.9" cy="880.3" r="6.9" fill="#b8ecc2"/><circle cx="845.3" cy="886.4" r="6.5" fill="#b8ecc2"/><circle cx="841.6" cy="892.3" r="7.1" fill="#b8ecc2"/><circle cx="834.6" cy="892.0" r="7.0" fill="#b8ecc2"/><circle cx="848.6" cy="931.7" r="7.5" fill="#5f8f6a"/><circle cx="853.1" cy="926.3" r="8.0" fill="#5f8f6a"/><circle cx="860.0" cy="925.2" r="8.0" fill="#5f8f6a"/><circle cx="867.0" cy="924.9" r="8.0" fill="#5f8f6a"/><circle cx="848.6" cy="931.7" r="6.2" fill="#b8ecc2"/><circle cx="853.1" cy="926.3" r="6.7" fill="#b8ecc2"/><circle cx="860.0" cy="925.2" r="6.7" fill="#b8ecc2"/><circle cx="867.0" cy="924.9" r="6.7" fill="#b8ecc2"/><circle cx="842.5" cy="774.2" r="7.9" fill="#5f8f6a"/><circle cx="846.6" cy="779.8" r="7.8" fill="#5f8f6a"/><circle cx="852.0" cy="784.3" r="8.0" fill="#5f8f6a"/><circle cx="842.5" cy="774.2" r="6.6" fill="#bdeec6"/><circle cx="846.6" cy="779.8" r="6.5" fill="#bdeec6"/><circle cx="852.0" cy="784.3" r="6.7" fill="#bdeec6"/><circle cx="823.5" cy="876.3" r="8.4" fill="#5f8f6a"/><circle cx="821.7" cy="883.1" r="7.9" fill="#5f8f6a"/><circle cx="821.9" cy="890.1" r="7.9" fill="#5f8f6a"/><circle cx="826.8" cy="895.1" r="7.6" fill="#5f8f6a"/><circle cx="833.7" cy="895.6" r="7.6" fill="#5f8f6a"/><circle cx="840.7" cy="894.5" r="7.8" fill="#5f8f6a"/><circle cx="823.5" cy="876.3" r="7.1" fill="#b3eabd"/><circle cx="821.7" cy="883.1" r="6.6" fill="#b3eabd"/><circle cx="821.9" cy="890.1" r="6.6" fill="#b3eabd"/><circle cx="826.8" cy="895.1" r="6.3" fill="#b3eabd"/><circle cx="833.7" cy="895.6" r="6.3" fill="#b3eabd"/><circle cx="840.7" cy="894.5" r="6.5" fill="#b3eabd"/><circle cx="904.6" cy="935.9" r="8.3" fill="#55775f"/><circle cx="907.6" cy="929.6" r="7.5" fill="#55775f"/><circle cx="913.9" cy="926.5" r="8.0" fill="#55775f"/><circle cx="904.6" cy="935.9" r="7.0" fill="#9cbfa4"/><circle cx="907.6" cy="929.6" r="6.2" fill="#9cbfa4"/><circle cx="913.9" cy="926.5" r="6.7" fill="#9cbfa4"/><circle cx="833.0" cy="810.9" r="7.7" fill="#5f8f6a"/><circle cx="832.7" cy="803.9" r="8.1" fill="#5f8f6a"/><circle cx="826.2" cy="801.4" r="7.2" fill="#5f8f6a"/><circle cx="819.7" cy="803.9" r="7.9" fill="#5f8f6a"/><circle cx="833.0" cy="810.9" r="6.4" fill="#bdeec6"/><circle cx="832.7" cy="803.9" r="6.8" fill="#bdeec6"/><circle cx="826.2" cy="801.4" r="5.9" fill="#bdeec6"/><circle cx="819.7" cy="803.9" r="6.6" fill="#bdeec6"/><circle cx="834.5" cy="817.8" r="7.7" fill="#5f8f6a"/><circle cx="839.7" cy="822.4" r="7.3" fill="#5f8f6a"/><circle cx="846.6" cy="821.0" r="7.6" fill="#5f8f6a"/><circle cx="834.5" cy="817.8" r="6.4" fill="#bdeec6"/><circle cx="839.7" cy="822.4" r="6.0" fill="#bdeec6"/><circle cx="846.6" cy="821.0" r="6.3" fill="#bdeec6"/><circle cx="905.0" cy="759.9" r="7.8" fill="#5f8f6a"/><circle cx="912.0" cy="760.0" r="7.1" fill="#5f8f6a"/><circle cx="916.0" cy="765.8" r="8.5" fill="#5f8f6a"/><circle cx="905.0" cy="759.9" r="6.5" fill="#c5f0cd"/><circle cx="912.0" cy="760.0" r="5.8" fill="#c5f0cd"/><circle cx="916.0" cy="765.8" r="7.2" fill="#c5f0cd"/><circle cx="884.7" cy="946.8" r="7.9" fill="#5f8f6a"/><circle cx="884.4" cy="953.8" r="8.1" fill="#5f8f6a"/><circle cx="889.1" cy="958.9" r="7.3" fill="#5f8f6a"/><circle cx="895.9" cy="960.8" r="7.6" fill="#5f8f6a"/><circle cx="900.9" cy="955.9" r="8.2" fill="#5f8f6a"/><circle cx="884.7" cy="946.8" r="6.6" fill="#bdeec6"/><circle cx="884.4" cy="953.8" r="6.8" fill="#bdeec6"/><circle cx="889.1" cy="958.9" r="6.0" fill="#bdeec6"/><circle cx="895.9" cy="960.8" r="6.3" fill="#bdeec6"/><circle cx="900.9" cy="955.9" r="6.9" fill="#bdeec6"/><circle cx="808.6" cy="899.7" r="8.1" fill="#5f8f6a"/><circle cx="802.8" cy="895.9" r="8.0" fill="#5f8f6a"/><circle cx="796.7" cy="892.4" r="7.9" fill="#5f8f6a"/><circle cx="808.6" cy="899.7" r="6.8" fill="#b8ecc2"/><circle cx="802.8" cy="895.9" r="6.7" fill="#b8ecc2"/><circle cx="796.7" cy="892.4" r="6.6" fill="#b8ecc2"/><circle cx="914.9" cy="908.1" r="7.9" fill="#55775f"/><circle cx="920.5" cy="904.0" r="7.9" fill="#55775f"/><circle cx="926.8" cy="900.9" r="7.5" fill="#55775f"/><circle cx="930.7" cy="895.0" r="8.2" fill="#55775f"/><circle cx="914.9" cy="908.1" r="6.6" fill="#92b69b"/><circle cx="920.5" cy="904.0" r="6.6" fill="#92b69b"/><circle cx="926.8" cy="900.9" r="6.2" fill="#92b69b"/><circle cx="930.7" cy="895.0" r="6.9" fill="#92b69b"/><circle cx="861.1" cy="760.0" r="8.3" fill="#5f8f6a"/><circle cx="868.1" cy="760.5" r="8.4" fill="#5f8f6a"/><circle cx="874.1" cy="756.9" r="7.7" fill="#5f8f6a"/><circle cx="880.8" cy="755.0" r="7.6" fill="#5f8f6a"/><circle cx="861.1" cy="760.0" r="7.0" fill="#bdeec6"/><circle cx="868.1" cy="760.5" r="7.1" fill="#bdeec6"/><circle cx="874.1" cy="756.9" r="6.4" fill="#bdeec6"/><circle cx="880.8" cy="755.0" r="6.3" fill="#bdeec6"/><circle cx="873.1" cy="814.3" r="7.1" fill="#5f8f6a"/><circle cx="867.3" cy="818.3" r="7.3" fill="#5f8f6a"/><circle cx="860.3" cy="817.7" r="7.9" fill="#5f8f6a"/><circle cx="853.9" cy="820.4" r="7.2" fill="#5f8f6a"/><circle cx="873.1" cy="814.3" r="5.8" fill="#c5f0cd"/><circle cx="867.3" cy="818.3" r="6.0" fill="#c5f0cd"/><circle cx="860.3" cy="817.7" r="6.6" fill="#c5f0cd"/><circle cx="853.9" cy="820.4" r="5.9" fill="#c5f0cd"/><circle cx="884.7" cy="785.1" r="7.4" fill="#5f8f6a"/><circle cx="888.8" cy="779.4" r="7.9" fill="#5f8f6a"/><circle cx="888.7" cy="772.4" r="8.5" fill="#5f8f6a"/><circle cx="886.7" cy="765.7" r="7.3" fill="#5f8f6a"/><circle cx="887.1" cy="758.8" r="7.4" fill="#5f8f6a"/><circle cx="884.7" cy="785.1" r="6.1" fill="#bdeec6"/><circle cx="888.8" cy="779.4" r="6.6" fill="#bdeec6"/><circle cx="888.7" cy="772.4" r="7.2" fill="#bdeec6"/><circle cx="886.7" cy="765.7" r="6.0" fill="#bdeec6"/><circle cx="887.1" cy="758.8" r="6.1" fill="#bdeec6"/><circle cx="816.5" cy="928.1" r="8.2" fill="#5f8f6a"/><circle cx="823.5" cy="927.8" r="7.8" fill="#5f8f6a"/><circle cx="830.4" cy="929.0" r="7.5" fill="#5f8f6a"/><circle cx="835.9" cy="933.4" r="8.2" fill="#5f8f6a"/><circle cx="816.5" cy="928.1" r="6.9" fill="#c5f0cd"/><circle cx="823.5" cy="927.8" r="6.5" fill="#c5f0cd"/><circle cx="830.4" cy="929.0" r="6.2" fill="#c5f0cd"/><circle cx="835.9" cy="933.4" r="6.9" fill="#c5f0cd"/><circle cx="912.2" cy="845.5" r="7.2" fill="#5f8f6a"/><circle cx="918.8" cy="843.1" r="8.3" fill="#5f8f6a"/><circle cx="920.3" cy="836.3" r="7.9" fill="#5f8f6a"/><circle cx="916.7" cy="830.3" r="7.4" fill="#5f8f6a"/><circle cx="912.6" cy="824.6" r="8.3" fill="#5f8f6a"/><circle cx="912.2" cy="845.5" r="5.9" fill="#bdeec6"/><circle cx="918.8" cy="843.1" r="7.0" fill="#bdeec6"/><circle cx="920.3" cy="836.3" r="6.6" fill="#bdeec6"/><circle cx="916.7" cy="830.3" r="6.1" fill="#bdeec6"/><circle cx="912.6" cy="824.6" r="7.0" fill="#bdeec6"/><circle cx="877.4" cy="754.2" r="7.8" fill="#5f8f6a"/><circle cx="878.2" cy="747.2" r="8.4" fill="#5f8f6a"/><circle cx="884.7" cy="744.5" r="7.7" fill="#5f8f6a"/><circle cx="889.6" cy="749.5" r="8.1" fill="#5f8f6a"/><circle cx="896.1" cy="746.9" r="7.4" fill="#5f8f6a"/><circle cx="877.4" cy="754.2" r="6.5" fill="#bdeec6"/><circle cx="878.2" cy="747.2" r="7.1" fill="#bdeec6"/><circle cx="884.7" cy="744.5" r="6.4" fill="#bdeec6"/><circle cx="889.6" cy="749.5" r="6.8" fill="#bdeec6"/><circle cx="896.1" cy="746.9" r="6.1" fill="#bdeec6"/><circle cx="805.7" cy="915.3" r="7.5" fill="#5f8f6a"/><circle cx="798.7" cy="914.7" r="7.9" fill="#5f8f6a"/><circle cx="792.1" cy="912.4" r="8.1" fill="#5f8f6a"/><circle cx="805.7" cy="915.3" r="6.2" fill="#b8ecc2"/><circle cx="798.7" cy="914.7" r="6.6" fill="#b8ecc2"/><circle cx="792.1" cy="912.4" r="6.8" fill="#b8ecc2"/><circle cx="893.4" cy="904.8" r="7.7" fill="#5f8f6a"/><circle cx="894.2" cy="897.8" r="7.7" fill="#5f8f6a"/><circle cx="889.9" cy="892.2" r="8.3" fill="#5f8f6a"/><circle cx="893.4" cy="904.8" r="6.4" fill="#bdeec6"/><circle cx="894.2" cy="897.8" r="6.4" fill="#bdeec6"/><circle cx="889.9" cy="892.2" r="7.0" fill="#bdeec6"/><circle cx="877.6" cy="778.2" r="7.9" fill="#5f8f6a"/><circle cx="874.6" cy="771.9" r="7.6" fill="#5f8f6a"/><circle cx="878.1" cy="765.9" r="8.3" fill="#5f8f6a"/><circle cx="874.9" cy="759.7" r="7.4" fill="#5f8f6a"/><circle cx="869.8" cy="755.0" r="7.2" fill="#5f8f6a"/><circle cx="877.6" cy="778.2" r="6.6" fill="#bdeec6"/><circle cx="874.6" cy="771.9" r="6.3" fill="#bdeec6"/><circle cx="878.1" cy="765.9" r="7.0" fill="#bdeec6"/><circle cx="874.9" cy="759.7" r="6.1" fill="#bdeec6"/><circle cx="869.8" cy="755.0" r="5.9" fill="#bdeec6"/><circle cx="905.3" cy="877.6" r="7.3" fill="#55775f"/><circle cx="907.8" cy="884.1" r="7.6" fill="#55775f"/><circle cx="905.4" cy="890.7" r="7.1" fill="#55775f"/><circle cx="904.9" cy="897.7" r="8.2" fill="#55775f"/><circle cx="905.3" cy="877.6" r="6.0" fill="#a3c7aa"/><circle cx="907.8" cy="884.1" r="6.3" fill="#a3c7aa"/><circle cx="905.4" cy="890.7" r="5.8" fill="#a3c7aa"/><circle cx="904.9" cy="897.7" r="6.9" fill="#a3c7aa"/><circle cx="851.5" cy="939.7" r="8.1" fill="#5f8f6a"/><circle cx="857.4" cy="943.5" r="8.0" fill="#5f8f6a"/><circle cx="856.8" cy="950.4" r="7.4" fill="#5f8f6a"/><circle cx="851.5" cy="939.7" r="6.8" fill="#cbf1d2"/><circle cx="857.4" cy="943.5" r="6.7" fill="#cbf1d2"/><circle cx="856.8" cy="950.4" r="6.1" fill="#cbf1d2"/><circle cx="890.0" cy="742.3" r="8.3" fill="#5f8f6a"/><circle cx="883.5" cy="744.9" r="7.5" fill="#5f8f6a"/><circle cx="876.5" cy="744.4" r="7.7" fill="#5f8f6a"/><circle cx="869.7" cy="746.1" r="7.2" fill="#5f8f6a"/><circle cx="862.7" cy="745.9" r="8.2" fill="#5f8f6a"/><circle cx="890.0" cy="742.3" r="7.0" fill="#b3eabd"/><circle cx="883.5" cy="744.9" r="6.2" fill="#b3eabd"/><circle cx="876.5" cy="744.4" r="6.4" fill="#b3eabd"/><circle cx="869.7" cy="746.1" r="5.9" fill="#b3eabd"/><circle cx="862.7" cy="745.9" r="6.9" fill="#b3eabd"/><circle cx="890.2" cy="888.1" r="7.9" fill="#55775f"/><circle cx="896.9" cy="886.0" r="8.5" fill="#55775f"/><circle cx="903.4" cy="888.5" r="7.8" fill="#55775f"/><circle cx="908.5" cy="893.4" r="8.3" fill="#55775f"/><circle cx="890.2" cy="888.1" r="6.6" fill="#a3c7aa"/><circle cx="896.9" cy="886.0" r="7.2" fill="#a3c7aa"/><circle cx="903.4" cy="888.5" r="6.5" fill="#a3c7aa"/><circle cx="908.5" cy="893.4" r="7.0" fill="#a3c7aa"/><circle cx="853.6" cy="843.7" r="8.4" fill="#5f8f6a"/><circle cx="860.2" cy="841.6" r="7.7" fill="#5f8f6a"/><circle cx="866.7" cy="839.0" r="7.8" fill="#5f8f6a"/><circle cx="872.2" cy="843.4" r="7.1" fill="#5f8f6a"/><circle cx="853.6" cy="843.7" r="7.1" fill="#cbf1d2"/><circle cx="860.2" cy="841.6" r="6.4" fill="#cbf1d2"/><circle cx="866.7" cy="839.0" r="6.5" fill="#cbf1d2"/><circle cx="872.2" cy="843.4" r="5.8" fill="#cbf1d2"/><circle cx="858.4" cy="864.0" r="7.2" fill="#5f8f6a"/><circle cx="864.7" cy="867.0" r="7.9" fill="#5f8f6a"/><circle cx="871.5" cy="865.5" r="7.9" fill="#5f8f6a"/><circle cx="874.9" cy="859.4" r="7.3" fill="#5f8f6a"/><circle cx="872.2" cy="852.9" r="7.6" fill="#5f8f6a"/><circle cx="858.4" cy="864.0" r="5.9" fill="#b3eabd"/><circle cx="864.7" cy="867.0" r="6.6" fill="#b3eabd"/><circle cx="871.5" cy="865.5" r="6.6" fill="#b3eabd"/><circle cx="874.9" cy="859.4" r="6.0" fill="#b3eabd"/><circle cx="872.2" cy="852.9" r="6.3" fill="#b3eabd"/><circle cx="859.0" cy="841.1" r="8.1" fill="#5f8f6a"/><circle cx="860.6" cy="834.3" r="8.4" fill="#5f8f6a"/><circle cx="856.6" cy="828.6" r="7.8" fill="#5f8f6a"/><circle cx="859.0" cy="841.1" r="6.8" fill="#b3eabd"/><circle cx="860.6" cy="834.3" r="7.1" fill="#b3eabd"/><circle cx="856.6" cy="828.6" r="6.5" fill="#b3eabd"/><circle cx="866.5" cy="875.4" r="7.1" fill="#5f8f6a"/><circle cx="869.3" cy="869.0" r="7.5" fill="#5f8f6a"/><circle cx="875.8" cy="866.4" r="7.8" fill="#5f8f6a"/><circle cx="866.5" cy="875.4" r="5.8" fill="#b3eabd"/><circle cx="869.3" cy="869.0" r="6.2" fill="#b3eabd"/><circle cx="875.8" cy="866.4" r="6.5" fill="#b3eabd"/><circle cx="916.6" cy="809.7" r="7.4" fill="#5f8f6a"/><circle cx="920.8" cy="804.1" r="8.2" fill="#5f8f6a"/><circle cx="927.7" cy="805.5" r="7.6" fill="#5f8f6a"/><circle cx="934.6" cy="806.7" r="7.8" fill="#5f8f6a"/><circle cx="941.5" cy="807.9" r="8.1" fill="#5f8f6a"/><circle cx="916.6" cy="809.7" r="6.1" fill="#c5f0cd"/><circle cx="920.8" cy="804.1" r="6.9" fill="#c5f0cd"/><circle cx="927.7" cy="805.5" r="6.3" fill="#c5f0cd"/><circle cx="934.6" cy="806.7" r="6.5" fill="#c5f0cd"/><circle cx="941.5" cy="807.9" r="6.8" fill="#c5f0cd"/><circle cx="898.3" cy="862.9" r="8.1" fill="#5f8f6a"/><circle cx="902.8" cy="857.5" r="7.2" fill="#5f8f6a"/><circle cx="909.5" cy="859.6" r="8.4" fill="#5f8f6a"/><circle cx="915.9" cy="856.9" r="8.5" fill="#5f8f6a"/><circle cx="922.6" cy="854.8" r="8.5" fill="#5f8f6a"/><circle cx="898.3" cy="862.9" r="6.8" fill="#b8ecc2"/><circle cx="902.8" cy="857.5" r="5.9" fill="#b8ecc2"/><circle cx="909.5" cy="859.6" r="7.1" fill="#b8ecc2"/><circle cx="915.9" cy="856.9" r="7.2" fill="#b8ecc2"/><circle cx="922.6" cy="854.8" r="7.2" fill="#b8ecc2"/><circle cx="818.8" cy="888.0" r="7.7" fill="#5f8f6a"/><circle cx="811.9" cy="889.3" r="8.3" fill="#5f8f6a"/><circle cx="806.9" cy="884.5" r="7.6" fill="#5f8f6a"/><circle cx="818.8" cy="888.0" r="6.4" fill="#b3eabd"/><circle cx="811.9" cy="889.3" r="7.0" fill="#b3eabd"/><circle cx="806.9" cy="884.5" r="6.3" fill="#b3eabd"/><circle cx="864.7" cy="808.6" r="7.2" fill="#5f8f6a"/><circle cx="865.4" cy="815.5" r="8.0" fill="#5f8f6a"/><circle cx="869.0" cy="821.5" r="8.5" fill="#5f8f6a"/><circle cx="867.9" cy="828.5" r="7.1" fill="#5f8f6a"/><circle cx="871.0" cy="834.7" r="8.3" fill="#5f8f6a"/><circle cx="864.7" cy="808.6" r="5.9" fill="#c5f0cd"/><circle cx="865.4" cy="815.5" r="6.7" fill="#c5f0cd"/><circle cx="869.0" cy="821.5" r="7.2" fill="#c5f0cd"/><circle cx="867.9" cy="828.5" r="5.8" fill="#c5f0cd"/><circle cx="871.0" cy="834.7" r="7.0" fill="#c5f0cd"/><circle cx="829.4" cy="786.7" r="7.8" fill="#5f8f6a"/><circle cx="835.0" cy="790.9" r="7.3" fill="#5f8f6a"/><circle cx="841.6" cy="788.8" r="7.8" fill="#5f8f6a"/><circle cx="848.5" cy="787.7" r="7.8" fill="#5f8f6a"/><circle cx="829.4" cy="786.7" r="6.5" fill="#b3eabd"/><circle cx="835.0" cy="790.9" r="6.0" fill="#b3eabd"/><circle cx="841.6" cy="788.8" r="6.5" fill="#b3eabd"/><circle cx="848.5" cy="787.7" r="6.5" fill="#b3eabd"/><circle cx="823.1" cy="855.8" r="8.2" fill="#5f8f6a"/><circle cx="816.1" cy="856.1" r="7.6" fill="#5f8f6a"/><circle cx="810.5" cy="851.9" r="7.8" fill="#5f8f6a"/><circle cx="823.1" cy="855.8" r="6.9" fill="#c5f0cd"/><circle cx="816.1" cy="856.1" r="6.3" fill="#c5f0cd"/><circle cx="810.5" cy="851.9" r="6.5" fill="#c5f0cd"/><circle cx="795.6" cy="834.4" r="8.1" fill="#5f8f6a"/><circle cx="793.2" cy="827.8" r="7.6" fill="#5f8f6a"/><circle cx="797.9" cy="822.6" r="7.4" fill="#5f8f6a"/><circle cx="795.4" cy="816.0" r="7.6" fill="#5f8f6a"/><circle cx="795.6" cy="834.4" r="6.8" fill="#b8ecc2"/><circle cx="793.2" cy="827.8" r="6.3" fill="#b8ecc2"/><circle cx="797.9" cy="822.6" r="6.1" fill="#b8ecc2"/><circle cx="795.4" cy="816.0" r="6.3" fill="#b8ecc2"/><circle cx="942.5" cy="830.9" r="7.2" fill="#5f8f6a"/><circle cx="947.3" cy="836.0" r="7.7" fill="#5f8f6a"/><circle cx="951.7" cy="841.4" r="7.3" fill="#5f8f6a"/><circle cx="942.5" cy="830.9" r="5.9" fill="#c5f0cd"/><circle cx="947.3" cy="836.0" r="6.4" fill="#c5f0cd"/><circle cx="951.7" cy="841.4" r="6.0" fill="#c5f0cd"/><circle cx="793.9" cy="805.2" r="7.2" fill="#5f8f6a"/><circle cx="792.4" cy="798.3" r="8.3" fill="#5f8f6a"/><circle cx="797.3" cy="793.3" r="8.0" fill="#5f8f6a"/><circle cx="796.8" cy="786.3" r="8.0" fill="#5f8f6a"/><circle cx="793.9" cy="805.2" r="5.9" fill="#b3eabd"/><circle cx="792.4" cy="798.3" r="7.0" fill="#b3eabd"/><circle cx="797.3" cy="793.3" r="6.7" fill="#b3eabd"/><circle cx="796.8" cy="786.3" r="6.7" fill="#b3eabd"/><circle cx="832.7" cy="751.3" r="8.3" fill="#5f8f6a"/><circle cx="826.8" cy="755.1" r="8.1" fill="#5f8f6a"/><circle cx="823.2" cy="761.0" r="8.0" fill="#5f8f6a"/><circle cx="832.7" cy="751.3" r="7.0" fill="#b3eabd"/><circle cx="826.8" cy="755.1" r="6.8" fill="#b3eabd"/><circle cx="823.2" cy="761.0" r="6.7" fill="#b3eabd"/><circle cx="952.3" cy="842.7" r="8.4" fill="#55775f"/><circle cx="954.0" cy="849.5" r="7.3" fill="#55775f"/><circle cx="957.0" cy="855.9" r="7.2" fill="#55775f"/><circle cx="952.3" cy="842.7" r="7.1" fill="#92b69b"/><circle cx="954.0" cy="849.5" r="6.0" fill="#92b69b"/><circle cx="957.0" cy="855.9" r="5.9" fill="#92b69b"/><circle cx="795.4" cy="787.5" r="7.7" fill="#5f8f6a"/><circle cx="802.4" cy="787.7" r="8.3" fill="#5f8f6a"/><circle cx="808.6" cy="790.8" r="7.6" fill="#5f8f6a"/><circle cx="813.2" cy="796.1" r="8.1" fill="#5f8f6a"/><circle cx="817.4" cy="801.7" r="8.2" fill="#5f8f6a"/><circle cx="823.2" cy="805.6" r="8.3" fill="#5f8f6a"/><circle cx="795.4" cy="787.5" r="6.4" fill="#c5f0cd"/><circle cx="802.4" cy="787.7" r="7.0" fill="#c5f0cd"/><circle cx="808.6" cy="790.8" r="6.3" fill="#c5f0cd"/><circle cx="813.2" cy="796.1" r="6.8" fill="#c5f0cd"/><circle cx="817.4" cy="801.7" r="6.9" fill="#c5f0cd"/><circle cx="823.2" cy="805.6" r="7.0" fill="#c5f0cd"/><circle cx="798.5" cy="826.4" r="8.4" fill="#5f8f6a"/><circle cx="805.1" cy="824.2" r="7.8" fill="#5f8f6a"/><circle cx="809.1" cy="818.4" r="8.2" fill="#5f8f6a"/><circle cx="810.2" cy="811.5" r="7.1" fill="#5f8f6a"/><circle cx="811.2" cy="804.6" r="7.8" fill="#5f8f6a"/><circle cx="807.5" cy="798.6" r="7.7" fill="#5f8f6a"/><circle cx="798.5" cy="826.4" r="7.1" fill="#c5f0cd"/><circle cx="805.1" cy="824.2" r="6.5" fill="#c5f0cd"/><circle cx="809.1" cy="818.4" r="6.9" fill="#c5f0cd"/><circle cx="810.2" cy="811.5" r="5.8" fill="#c5f0cd"/><circle cx="811.2" cy="804.6" r="6.5" fill="#c5f0cd"/><circle cx="807.5" cy="798.6" r="6.4" fill="#c5f0cd"/><circle cx="934.5" cy="844.5" r="8.2" fill="#5f8f6a"/><circle cx="939.9" cy="849.1" r="8.2" fill="#5f8f6a"/><circle cx="938.1" cy="855.8" r="7.6" fill="#5f8f6a"/><circle cx="934.5" cy="844.5" r="6.9" fill="#bdeec6"/><circle cx="939.9" cy="849.1" r="6.9" fill="#bdeec6"/><circle cx="938.1" cy="855.8" r="6.3" fill="#bdeec6"/><circle cx="856.4" cy="888.5" r="7.4" fill="#5f8f6a"/><circle cx="849.6" cy="887.1" r="7.2" fill="#5f8f6a"/><circle cx="845.1" cy="892.5" r="8.3" fill="#5f8f6a"/><circle cx="856.4" cy="888.5" r="6.1" fill="#b8ecc2"/><circle cx="849.6" cy="887.1" r="5.9" fill="#b8ecc2"/><circle cx="845.1" cy="892.5" r="7.0" fill="#b8ecc2"/><circle cx="855.2" cy="927.0" r="8.0" fill="#5f8f6a"/><circle cx="848.4" cy="925.4" r="7.9" fill="#5f8f6a"/><circle cx="842.9" cy="921.0" r="8.2" fill="#5f8f6a"/><circle cx="841.3" cy="914.2" r="7.5" fill="#5f8f6a"/><circle cx="855.2" cy="927.0" r="6.7" fill="#b3eabd"/><circle cx="848.4" cy="925.4" r="6.6" fill="#b3eabd"/><circle cx="842.9" cy="921.0" r="6.9" fill="#b3eabd"/><circle cx="841.3" cy="914.2" r="6.2" fill="#b3eabd"/><circle cx="855.8" cy="783.9" r="7.7" fill="#5f8f6a"/><circle cx="862.7" cy="782.8" r="8.0" fill="#5f8f6a"/><circle cx="868.0" cy="787.3" r="7.9" fill="#5f8f6a"/><circle cx="873.9" cy="791.1" r="7.9" fill="#5f8f6a"/><circle cx="880.7" cy="789.5" r="8.4" fill="#5f8f6a"/><circle cx="886.6" cy="785.7" r="7.3" fill="#5f8f6a"/><circle cx="855.8" cy="783.9" r="6.4" fill="#b8ecc2"/><circle cx="862.7" cy="782.8" r="6.7" fill="#b8ecc2"/><circle cx="868.0" cy="787.3" r="6.6" fill="#b8ecc2"/><circle cx="873.9" cy="791.1" r="6.6" fill="#b8ecc2"/><circle cx="880.7" cy="789.5" r="7.1" fill="#b8ecc2"/><circle cx="886.6" cy="785.7" r="6.0" fill="#b8ecc2"/><circle cx="797.4" cy="841.2" r="7.5" fill="#5f8f6a"/><circle cx="804.4" cy="841.4" r="8.1" fill="#5f8f6a"/><circle cx="807.9" cy="847.4" r="7.3" fill="#5f8f6a"/><circle cx="805.9" cy="854.1" r="7.9" fill="#5f8f6a"/><circle cx="799.1" cy="855.8" r="8.2" fill="#5f8f6a"/><circle cx="792.4" cy="853.8" r="7.9" fill="#5f8f6a"/><circle cx="797.4" cy="841.2" r="6.2" fill="#b3eabd"/><circle cx="804.4" cy="841.4" r="6.8" fill="#b3eabd"/><circle cx="807.9" cy="847.4" r="6.0" fill="#b3eabd"/><circle cx="805.9" cy="854.1" r="6.6" fill="#b3eabd"/><circle cx="799.1" cy="855.8" r="6.9" fill="#b3eabd"/><circle cx="792.4" cy="853.8" r="6.6" fill="#b3eabd"/><circle cx="789.6" cy="797.1" r="7.3" fill="#5f8f6a"/><circle cx="788.5" cy="790.2" r="8.2" fill="#5f8f6a"/><circle cx="789.6" cy="797.1" r="6.0" fill="#c5f0cd"/><circle cx="788.5" cy="790.2" r="6.9" fill="#c5f0cd"/><circle cx="807.8" cy="784.4" r="7.9" fill="#5f8f6a"/><circle cx="801.3" cy="782.0" r="8.1" fill="#5f8f6a"/><circle cx="794.4" cy="780.9" r="7.8" fill="#5f8f6a"/><circle cx="787.7" cy="778.9" r="7.2" fill="#5f8f6a"/><circle cx="807.8" cy="784.4" r="6.6" fill="#b3eabd"/><circle cx="801.3" cy="782.0" r="6.8" fill="#b3eabd"/><circle cx="794.4" cy="780.9" r="6.5" fill="#b3eabd"/><circle cx="787.7" cy="778.9" r="5.9" fill="#b3eabd"/><circle cx="809.6" cy="898.1" r="7.2" fill="#5f8f6a"/><circle cx="816.0" cy="900.7" r="8.2" fill="#5f8f6a"/><circle cx="821.9" cy="896.9" r="7.1" fill="#5f8f6a"/><circle cx="823.7" cy="890.2" r="8.1" fill="#5f8f6a"/><circle cx="828.9" cy="885.5" r="8.0" fill="#5f8f6a"/><circle cx="809.6" cy="898.1" r="5.9" fill="#b3eabd"/><circle cx="816.0" cy="900.7" r="6.9" fill="#b3eabd"/><circle cx="821.9" cy="896.9" r="5.8" fill="#b3eabd"/><circle cx="823.7" cy="890.2" r="6.8" fill="#b3eabd"/><circle cx="828.9" cy="885.5" r="6.7" fill="#b3eabd"/><circle cx="916.0" cy="875.3" r="8.1" fill="#55775f"/><circle cx="909.4" cy="877.5" r="7.6" fill="#55775f"/><circle cx="906.0" cy="883.6" r="8.3" fill="#55775f"/><circle cx="916.0" cy="875.3" r="6.8" fill="#88ad91"/><circle cx="909.4" cy="877.5" r="6.3" fill="#88ad91"/><circle cx="906.0" cy="883.6" r="7.0" fill="#88ad91"/><circle cx="816.8" cy="758.3" r="7.1" fill="#5f8f6a"/><circle cx="818.6" cy="765.0" r="7.7" fill="#5f8f6a"/><circle cx="822.7" cy="770.7" r="7.4" fill="#5f8f6a"/><circle cx="827.9" cy="775.4" r="7.4" fill="#5f8f6a"/><circle cx="834.7" cy="776.9" r="7.9" fill="#5f8f6a"/><circle cx="816.8" cy="758.3" r="5.8" fill="#b8ecc2"/><circle cx="818.6" cy="765.0" r="6.4" fill="#b8ecc2"/><circle cx="822.7" cy="770.7" r="6.1" fill="#b8ecc2"/><circle cx="827.9" cy="775.4" r="6.1" fill="#b8ecc2"/><circle cx="834.7" cy="776.9" r="6.6" fill="#b8ecc2"/><circle cx="921.3" cy="846.7" r="7.4" fill="#5f8f6a"/><circle cx="920.5" cy="853.7" r="7.3" fill="#5f8f6a"/><circle cx="922.5" cy="860.4" r="7.3" fill="#5f8f6a"/><circle cx="921.3" cy="846.7" r="6.1" fill="#b3eabd"/><circle cx="920.5" cy="853.7" r="6.0" fill="#b3eabd"/><circle cx="922.5" cy="860.4" r="6.0" fill="#b3eabd"/><circle cx="792.2" cy="847.8" r="8.0" fill="#5f8f6a"/><circle cx="797.6" cy="843.4" r="8.5" fill="#5f8f6a"/><circle cx="804.0" cy="840.5" r="8.1" fill="#5f8f6a"/><circle cx="792.2" cy="847.8" r="6.7" fill="#bdeec6"/><circle cx="797.6" cy="843.4" r="7.2" fill="#bdeec6"/><circle cx="804.0" cy="840.5" r="6.8" fill="#bdeec6"/><circle cx="869.6" cy="845.7" r="7.7" fill="#5f8f6a"/><circle cx="863.2" cy="842.9" r="7.8" fill="#5f8f6a"/><circle cx="856.2" cy="841.8" r="7.5" fill="#5f8f6a"/><circle cx="854.5" cy="835.0" r="8.4" fill="#5f8f6a"/><circle cx="849.4" cy="830.2" r="7.4" fill="#5f8f6a"/><circle cx="846.3" cy="823.9" r="8.4" fill="#5f8f6a"/><circle cx="869.6" cy="845.7" r="6.4" fill="#b8ecc2"/><circle cx="863.2" cy="842.9" r="6.5" fill="#b8ecc2"/><circle cx="856.2" cy="841.8" r="6.2" fill="#b8ecc2"/><circle cx="854.5" cy="835.0" r="7.1" fill="#b8ecc2"/><circle cx="849.4" cy="830.2" r="6.1" fill="#b8ecc2"/><circle cx="846.3" cy="823.9" r="7.1" fill="#b8ecc2"/><circle cx="924.7" cy="871.4" r="8.3" fill="#55775f"/><circle cx="930.1" cy="875.9" r="7.2" fill="#55775f"/><circle cx="932.6" cy="882.4" r="8.5" fill="#55775f"/><circle cx="934.0" cy="889.2" r="8.0" fill="#55775f"/><circle cx="924.7" cy="871.4" r="7.0" fill="#a3c7aa"/><circle cx="930.1" cy="875.9" r="5.9" fill="#a3c7aa"/><circle cx="932.6" cy="882.4" r="7.2" fill="#a3c7aa"/><circle cx="934.0" cy="889.2" r="6.7" fill="#a3c7aa"/><circle cx="906.1" cy="911.4" r="8.2" fill="#55775f"/><circle cx="913.0" cy="912.2" r="8.0" fill="#55775f"/><circle cx="919.0" cy="915.9" r="7.1" fill="#55775f"/><circle cx="919.6" cy="922.8" r="7.7" fill="#55775f"/><circle cx="925.5" cy="926.6" r="7.5" fill="#55775f"/><circle cx="906.1" cy="911.4" r="6.9" fill="#a3c7aa"/><circle cx="913.0" cy="912.2" r="6.7" fill="#a3c7aa"/><circle cx="919.0" cy="915.9" r="5.8" fill="#a3c7aa"/><circle cx="919.6" cy="922.8" r="6.4" fill="#a3c7aa"/><circle cx="925.5" cy="926.6" r="6.2" fill="#a3c7aa"/><circle cx="873.8" cy="887.1" r="7.9" fill="#5f8f6a"/><circle cx="870.5" cy="881.0" r="8.3" fill="#5f8f6a"/><circle cx="873.5" cy="874.6" r="7.1" fill="#5f8f6a"/><circle cx="878.1" cy="869.4" r="7.7" fill="#5f8f6a"/><circle cx="884.7" cy="866.9" r="7.4" fill="#5f8f6a"/><circle cx="873.8" cy="887.1" r="6.6" fill="#c5f0cd"/><circle cx="870.5" cy="881.0" r="7.0" fill="#c5f0cd"/><circle cx="873.5" cy="874.6" r="5.8" fill="#c5f0cd"/><circle cx="878.1" cy="869.4" r="6.4" fill="#c5f0cd"/><circle cx="884.7" cy="866.9" r="6.1" fill="#c5f0cd"/><circle cx="801.8" cy="925.9" r="8.5" fill="#5f8f6a"/><circle cx="803.1" cy="932.8" r="7.5" fill="#5f8f6a"/><circle cx="801.8" cy="925.9" r="7.2" fill="#cbf1d2"/><circle cx="803.1" cy="932.8" r="6.2" fill="#cbf1d2"/><circle cx="898.3" cy="841.8" r="7.9" fill="#5f8f6a"/><circle cx="891.4" cy="843.1" r="7.6" fill="#5f8f6a"/><circle cx="888.9" cy="849.6" r="7.4" fill="#5f8f6a"/><circle cx="892.6" cy="855.5" r="7.2" fill="#5f8f6a"/><circle cx="898.3" cy="841.8" r="6.6" fill="#b3eabd"/><circle cx="891.4" cy="843.1" r="6.3" fill="#b3eabd"/><circle cx="888.9" cy="849.6" r="6.1" fill="#b3eabd"/><circle cx="892.6" cy="855.5" r="5.9" fill="#b3eabd"/><circle cx="884.3" cy="871.5" r="7.1" fill="#5f8f6a"/><circle cx="889.6" cy="876.1" r="7.9" fill="#5f8f6a"/><circle cx="887.5" cy="882.7" r="8.3" fill="#5f8f6a"/><circle cx="884.3" cy="871.5" r="5.8" fill="#bdeec6"/><circle cx="889.6" cy="876.1" r="6.6" fill="#bdeec6"/><circle cx="887.5" cy="882.7" r="7.0" fill="#bdeec6"/><circle cx="868.3" cy="830.3" r="7.6" fill="#5f8f6a"/><circle cx="862.6" cy="834.3" r="7.3" fill="#5f8f6a"/><circle cx="855.8" cy="835.9" r="7.4" fill="#5f8f6a"/><circle cx="851.0" cy="841.0" r="7.5" fill="#5f8f6a"/><circle cx="844.0" cy="840.8" r="8.5" fill="#5f8f6a"/><circle cx="868.3" cy="830.3" r="6.3" fill="#b3eabd"/><circle cx="862.6" cy="834.3" r="6.0" fill="#b3eabd"/><circle cx="855.8" cy="835.9" r="6.1" fill="#b3eabd"/><circle cx="851.0" cy="841.0" r="6.2" fill="#b3eabd"/><circle cx="844.0" cy="840.8" r="7.2" fill="#b3eabd"/><circle cx="893.1" cy="777.5" r="7.1" fill="#5f8f6a"/><circle cx="899.7" cy="775.1" r="7.6" fill="#5f8f6a"/><circle cx="905.3" cy="779.2" r="7.6" fill="#5f8f6a"/><circle cx="893.1" cy="777.5" r="5.8" fill="#cbf1d2"/><circle cx="899.7" cy="775.1" r="6.3" fill="#cbf1d2"/><circle cx="905.3" cy="779.2" r="6.3" fill="#cbf1d2"/><circle cx="788.4" cy="797.5" r="8.3" fill="#5f8f6a"/><circle cx="787.4" cy="790.6" r="8.4" fill="#5f8f6a"/><circle cx="788.4" cy="797.5" r="7.0" fill="#bdeec6"/><circle cx="787.4" cy="790.6" r="7.1" fill="#bdeec6"/><circle cx="917.3" cy="782.2" r="8.1" fill="#5f8f6a"/><circle cx="911.2" cy="778.8" r="8.3" fill="#5f8f6a"/><circle cx="905.7" cy="783.2" r="7.6" fill="#5f8f6a"/><circle cx="917.3" cy="782.2" r="6.8" fill="#b8ecc2"/><circle cx="911.2" cy="778.8" r="7.0" fill="#b8ecc2"/><circle cx="905.7" cy="783.2" r="6.3" fill="#b8ecc2"/><circle cx="885.8" cy="916.1" r="7.8" fill="#5f8f6a"/><circle cx="880.7" cy="911.4" r="7.7" fill="#5f8f6a"/><circle cx="881.6" cy="904.4" r="8.1" fill="#5f8f6a"/><circle cx="882.5" cy="897.5" r="8.3" fill="#5f8f6a"/><circle cx="885.8" cy="916.1" r="6.5" fill="#b8ecc2"/><circle cx="880.7" cy="911.4" r="6.4" fill="#b8ecc2"/><circle cx="881.6" cy="904.4" r="6.8" fill="#b8ecc2"/><circle cx="882.5" cy="897.5" r="7.0" fill="#b8ecc2"/><circle cx="868.4" cy="757.5" r="7.4" fill="#5f8f6a"/><circle cx="871.3" cy="763.8" r="7.6" fill="#5f8f6a"/><circle cx="867.7" cy="769.8" r="8.1" fill="#5f8f6a"/><circle cx="862.7" cy="774.7" r="7.9" fill="#5f8f6a"/><circle cx="857.7" cy="779.6" r="7.4" fill="#5f8f6a"/><circle cx="851.3" cy="782.4" r="7.3" fill="#5f8f6a"/><circle cx="868.4" cy="757.5" r="6.1" fill="#bdeec6"/><circle cx="871.3" cy="763.8" r="6.3" fill="#bdeec6"/><circle cx="867.7" cy="769.8" r="6.8" fill="#bdeec6"/><circle cx="862.7" cy="774.7" r="6.6" fill="#bdeec6"/><circle cx="857.7" cy="779.6" r="6.1" fill="#bdeec6"/><circle cx="851.3" cy="782.4" r="6.0" fill="#bdeec6"/><circle cx="892.8" cy="827.0" r="7.6" fill="#5f8f6a"/><circle cx="894.0" cy="833.9" r="8.4" fill="#5f8f6a"/><circle cx="900.7" cy="836.0" r="8.1" fill="#5f8f6a"/><circle cx="892.8" cy="827.0" r="6.3" fill="#c5f0cd"/><circle cx="894.0" cy="833.9" r="7.1" fill="#c5f0cd"/><circle cx="900.7" cy="836.0" r="6.8" fill="#c5f0cd"/><circle cx="807.6" cy="815.6" r="7.8" fill="#5f8f6a"/><circle cx="804.8" cy="809.3" r="7.3" fill="#5f8f6a"/><circle cx="807.1" cy="802.7" r="8.4" fill="#5f8f6a"/><circle cx="806.5" cy="795.7" r="7.9" fill="#5f8f6a"/><circle cx="803.6" cy="789.3" r="8.0" fill="#5f8f6a"/><circle cx="804.7" cy="782.4" r="7.7" fill="#5f8f6a"/><circle cx="807.6" cy="815.6" r="6.5" fill="#bdeec6"/><circle cx="804.8" cy="809.3" r="6.0" fill="#bdeec6"/><circle cx="807.1" cy="802.7" r="7.1" fill="#bdeec6"/><circle cx="806.5" cy="795.7" r="6.6" fill="#bdeec6"/><circle cx="803.6" cy="789.3" r="6.7" fill="#bdeec6"/><circle cx="804.7" cy="782.4" r="6.4" fill="#bdeec6"/><circle cx="902.3" cy="831.2" r="7.6" fill="#5f8f6a"/><circle cx="908.9" cy="833.7" r="7.4" fill="#5f8f6a"/><circle cx="913.0" cy="839.4" r="7.6" fill="#5f8f6a"/><circle cx="902.3" cy="831.2" r="6.3" fill="#b8ecc2"/><circle cx="908.9" cy="833.7" r="6.1" fill="#b8ecc2"/><circle cx="913.0" cy="839.4" r="6.3" fill="#b8ecc2"/><circle cx="900.8" cy="899.5" r="8.3" fill="#5f8f6a"/><circle cx="895.7" cy="904.3" r="7.8" fill="#5f8f6a"/><circle cx="889.1" cy="906.7" r="8.0" fill="#5f8f6a"/><circle cx="882.1" cy="906.8" r="8.4" fill="#5f8f6a"/><circle cx="900.8" cy="899.5" r="7.0" fill="#c5f0cd"/><circle cx="895.7" cy="904.3" r="6.5" fill="#c5f0cd"/><circle cx="889.1" cy="906.7" r="6.7" fill="#c5f0cd"/><circle cx="882.1" cy="906.8" r="7.1" fill="#c5f0cd"/><circle cx="848.5" cy="761.1" r="8.5" fill="#5f8f6a"/><circle cx="848.4" cy="754.1" r="7.5" fill="#5f8f6a"/><circle cx="848.7" cy="747.1" r="8.3" fill="#5f8f6a"/><circle cx="848.5" cy="761.1" r="7.2" fill="#cbf1d2"/><circle cx="848.4" cy="754.1" r="6.2" fill="#cbf1d2"/><circle cx="848.7" cy="747.1" r="7.0" fill="#cbf1d2"/><circle cx="947.2" cy="833.8" r="7.1" fill="#5f8f6a"/><circle cx="946.7" cy="826.9" r="8.4" fill="#5f8f6a"/><circle cx="944.0" cy="820.4" r="7.6" fill="#5f8f6a"/><circle cx="948.9" cy="815.3" r="7.3" fill="#5f8f6a"/><circle cx="949.0" cy="808.3" r="7.8" fill="#5f8f6a"/><circle cx="954.9" cy="804.5" r="7.5" fill="#5f8f6a"/><circle cx="947.2" cy="833.8" r="5.8" fill="#b8ecc2"/><circle cx="946.7" cy="826.9" r="7.1" fill="#b8ecc2"/><circle cx="944.0" cy="820.4" r="6.3" fill="#b8ecc2"/><circle cx="948.9" cy="815.3" r="6.0" fill="#b8ecc2"/><circle cx="949.0" cy="808.3" r="6.5" fill="#b8ecc2"/><circle cx="954.9" cy="804.5" r="6.2" fill="#b8ecc2"/><circle cx="940.2" cy="890.6" r="8.0" fill="#55775f"/><circle cx="934.1" cy="893.9" r="7.9" fill="#55775f"/><circle cx="927.3" cy="895.8" r="7.2" fill="#55775f"/><circle cx="923.3" cy="901.5" r="7.9" fill="#55775f"/><circle cx="917.8" cy="906.0" r="7.2" fill="#55775f"/><circle cx="911.4" cy="903.2" r="8.1" fill="#55775f"/><circle cx="940.2" cy="890.6" r="6.7" fill="#a3c7aa"/><circle cx="934.1" cy="893.9" r="6.6" fill="#a3c7aa"/><circle cx="927.3" cy="895.8" r="5.9" fill="#a3c7aa"/><circle cx="923.3" cy="901.5" r="6.6" fill="#a3c7aa"/><circle cx="917.8" cy="906.0" r="5.9" fill="#a3c7aa"/><circle cx="911.4" cy="903.2" r="6.8" fill="#a3c7aa"/><circle cx="885.9" cy="766.8" r="7.5" fill="#5f8f6a"/><circle cx="892.8" cy="768.1" r="7.7" fill="#5f8f6a"/><circle cx="896.5" cy="762.2" r="7.1" fill="#5f8f6a"/><circle cx="898.3" cy="755.4" r="8.1" fill="#5f8f6a"/><circle cx="885.9" cy="766.8" r="6.2" fill="#c5f0cd"/><circle cx="892.8" cy="768.1" r="6.4" fill="#c5f0cd"/><circle cx="896.5" cy="762.2" r="5.8" fill="#c5f0cd"/><circle cx="898.3" cy="755.4" r="6.8" fill="#c5f0cd"/><circle cx="823.9" cy="847.0" r="7.4" fill="#5f8f6a"/><circle cx="828.3" cy="852.4" r="8.0" fill="#5f8f6a"/><circle cx="834.6" cy="855.4" r="7.5" fill="#5f8f6a"/><circle cx="823.9" cy="847.0" r="6.1" fill="#b3eabd"/><circle cx="828.3" cy="852.4" r="6.7" fill="#b3eabd"/><circle cx="834.6" cy="855.4" r="6.2" fill="#b3eabd"/></g>
<ellipse cx="858" cy="860" rx="36" ry="26" fill="#d6f3dc" opacity="0.6"/>
<path d="M831,853 C830,846 840,845.5 849,846.5 L874,850.5 C881,852 881,862 879.5,870 C878,878 872,881 866.5,879.5 C862,877 864,867 858,864.5 L841,862.5 C834,861.5 831.5,858 831,853 Z" fill="#5ad865" stroke="#4cc656" stroke-width="1"/><ellipse cx="838" cy="853" rx="6" ry="5" fill="#44e052"/>
<line x1="558" y1="853.7" x2="704" y2="853.7" stroke="#1e6888" stroke-width="4.2"/><polygon points="723,853.7 703,844 703,863.5" fill="#1e6888"/>
</svg>
<div class="t h" id="t1" style="left:170px;top:17px;">Lipid solution</div>
<div class="t h" id="t2" style="left:654px;top:99.5px;">Standard chip</div>
<div class="t h" id="t3" style="left:1021px;top:573px;">mRNA-LNP solution</div>
<div class="t h" id="t4" style="left:152px;top:755.5px;">eGFP mRNA</div>
<div class="t p" id="t5" style="left:0;width:566px;text-align:center;top:808.8px;line-height:41.83px;white-space:normal;transform-origin:0 33.3px">Optimization and validation of<br>the mRNA therapy experimental<br>and delivery systems</div>
<div class="t p" id="t6" style="left:1021px;top:623.8px;line-height:41.83px;transform-origin:0 33.3px">Particle size distribution affects<br>delivery efficiency, requiring<br>uniform and controllable<br>particle size</div>
<div class="t p" id="t7" style="left:1000px;width:332px;text-align:center;top:818.8px;line-height:42.4px;color:#000;transform-origin:0 33.58px">Green fluorescent<br>protein</div>
<div class="t p" id="t8" style="left:586px;top:796.4px;color:#000;transform-origin:0 30.74px">Expression</div>
</body></html>
